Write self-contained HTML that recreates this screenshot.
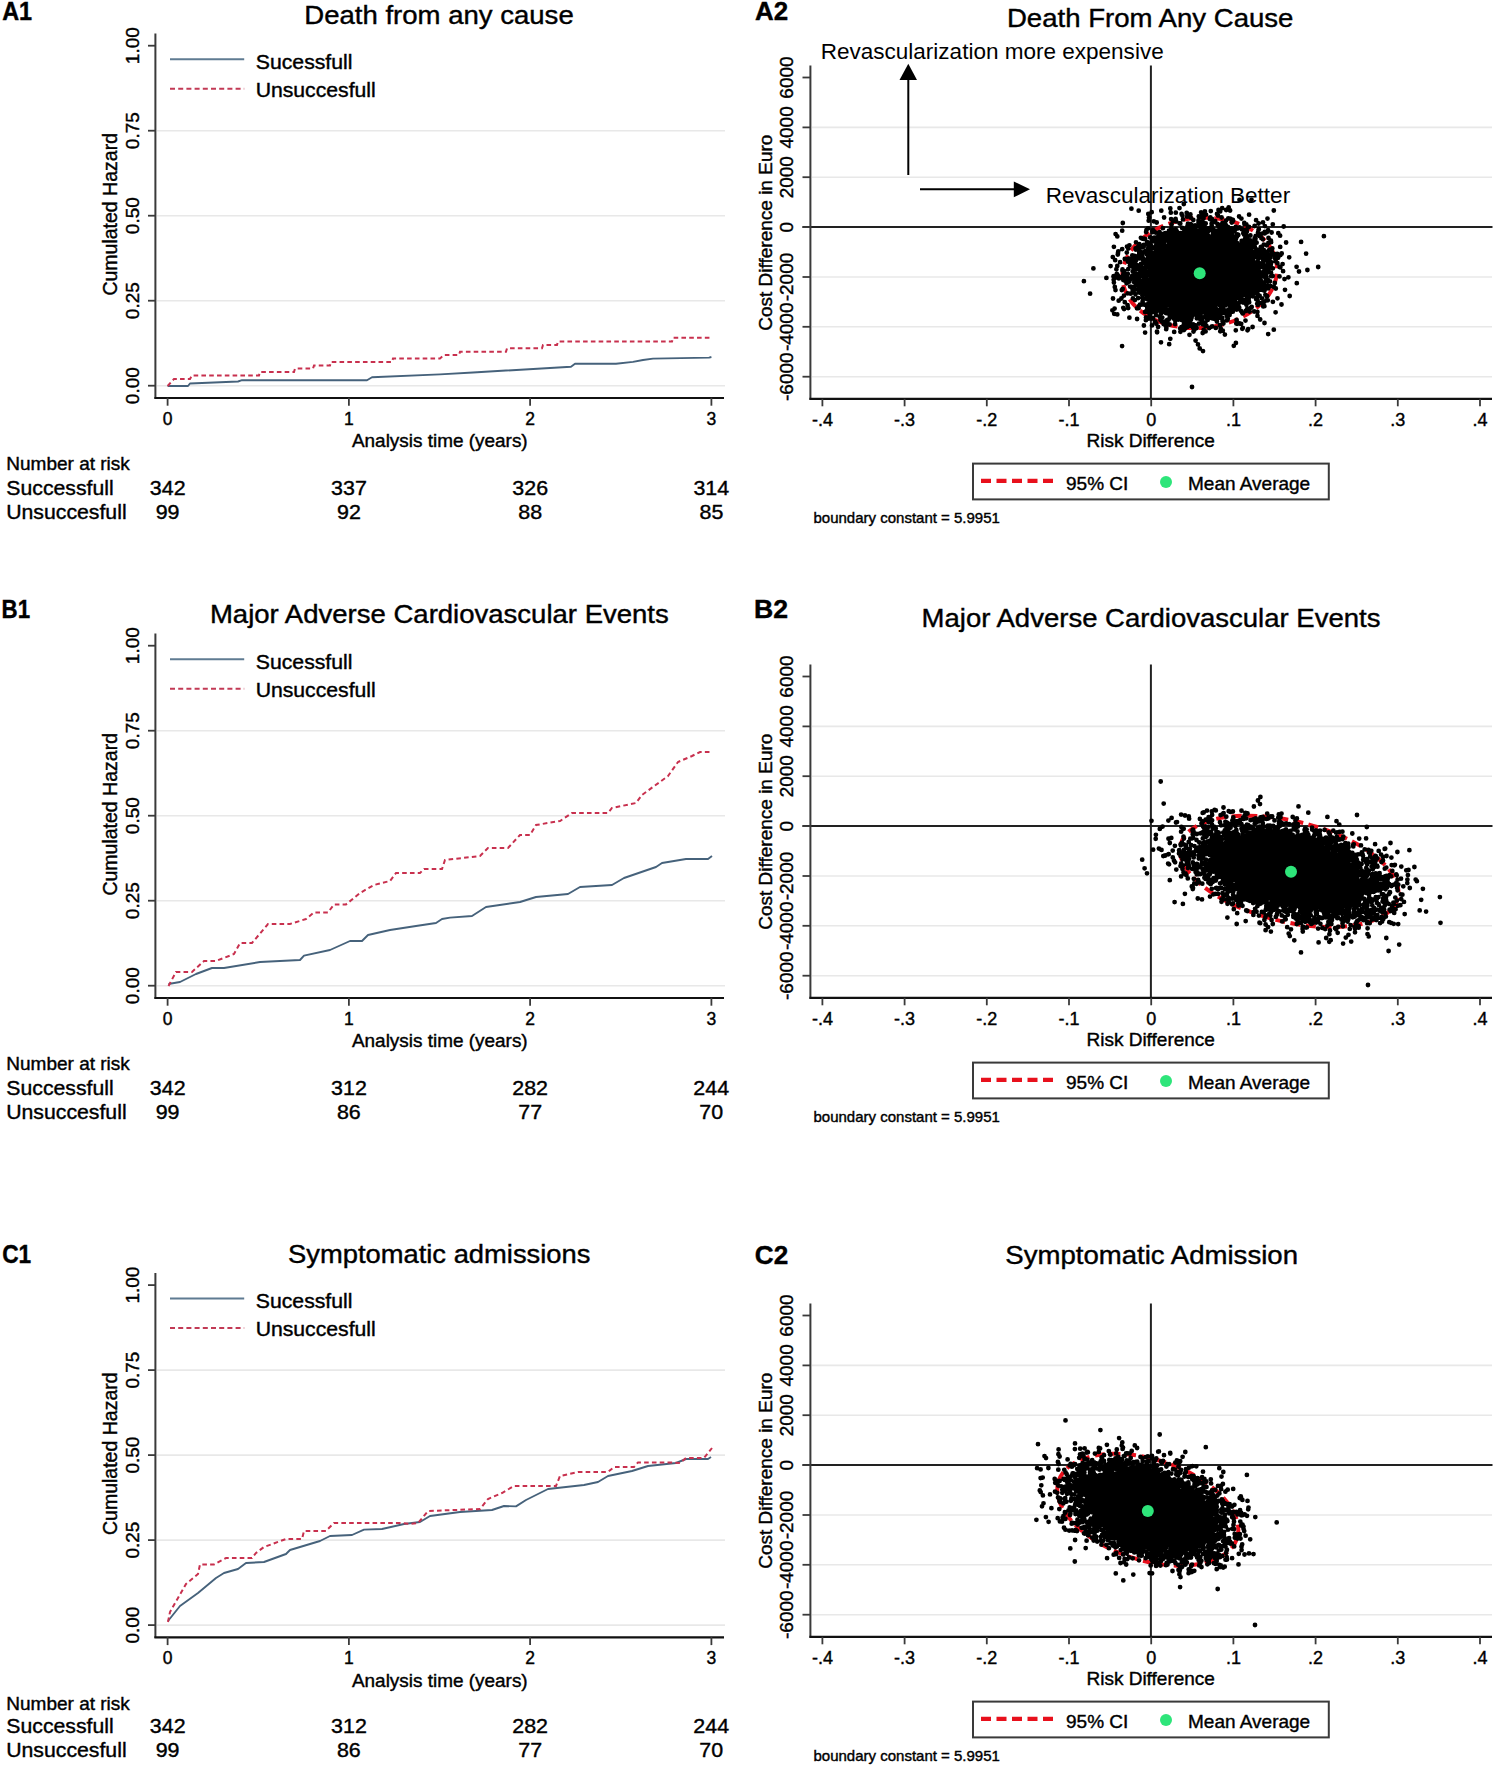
<!DOCTYPE html>
<html><head><meta charset="utf-8"><style>
html,body{margin:0;padding:0;background:#fff;overflow:hidden}
svg{display:block;font-family:"Liberation Sans",sans-serif}
text{stroke:#000;stroke-width:0.4px}
.lt{stroke:none}
</style></head><body>
<svg width="1500" height="1772" viewBox="0 0 1500 1772">
<rect width="1500" height="1772" fill="#fff"/>
<text x="2.22" y="20.00" font-size="25" font-weight="bold" textLength="29.93" lengthAdjust="spacingAndGlyphs">A1</text>
<text x="304.24" y="24.00" font-size="26" textLength="269.48" lengthAdjust="spacingAndGlyphs">Death from any cause</text>
<g transform="translate(0,0)">
<line x1="157" y1="385.7" x2="725" y2="385.7" stroke="#e8e8e8" stroke-width="1.6"/>
<line x1="157" y1="300.7" x2="725" y2="300.7" stroke="#e8e8e8" stroke-width="1.6"/>
<line x1="157" y1="215.7" x2="725" y2="215.7" stroke="#e8e8e8" stroke-width="1.6"/>
<line x1="157" y1="130.7" x2="725" y2="130.7" stroke="#e8e8e8" stroke-width="1.6"/>
<line x1="155.4" y1="33.5" x2="155.4" y2="398.7" stroke="#3a3a3a" stroke-width="2"/>
<line x1="148" y1="385.7" x2="155.4" y2="385.7" stroke="#3a3a3a" stroke-width="1.8"/>
<text transform="translate(138.6,385.7) rotate(-90)" font-size="19" text-anchor="middle">0.00</text>
<line x1="148" y1="300.7" x2="155.4" y2="300.7" stroke="#3a3a3a" stroke-width="1.8"/>
<text transform="translate(138.6,300.7) rotate(-90)" font-size="19" text-anchor="middle">0.25</text>
<line x1="148" y1="215.7" x2="155.4" y2="215.7" stroke="#3a3a3a" stroke-width="1.8"/>
<text transform="translate(138.6,215.7) rotate(-90)" font-size="19" text-anchor="middle">0.50</text>
<line x1="148" y1="130.7" x2="155.4" y2="130.7" stroke="#3a3a3a" stroke-width="1.8"/>
<text transform="translate(138.6,130.7) rotate(-90)" font-size="19" text-anchor="middle">0.75</text>
<line x1="148" y1="45.7" x2="155.4" y2="45.7" stroke="#3a3a3a" stroke-width="1.8"/>
<text transform="translate(138.6,45.7) rotate(-90)" font-size="19" text-anchor="middle">1.00</text>
<text transform="translate(117.2,214.3) rotate(-90)" font-size="19.5" text-anchor="middle">Cumulated Hazard</text>
<line x1="154.4" y1="398" x2="724" y2="398" stroke="#111" stroke-width="2.2"/>
<line x1="167.6" y1="397.7" x2="167.6" y2="405.7" stroke="#3a3a3a" stroke-width="1.8"/>
<text x="167.6" y="424.8" font-size="17.5" text-anchor="middle">0</text>
<line x1="348.9" y1="397.7" x2="348.9" y2="405.7" stroke="#3a3a3a" stroke-width="1.8"/>
<text x="348.9" y="424.8" font-size="17.5" text-anchor="middle">1</text>
<line x1="530.1" y1="397.7" x2="530.1" y2="405.7" stroke="#3a3a3a" stroke-width="1.8"/>
<text x="530.1" y="424.8" font-size="17.5" text-anchor="middle">2</text>
<line x1="711.4" y1="397.7" x2="711.4" y2="405.7" stroke="#3a3a3a" stroke-width="1.8"/>
<text x="711.4" y="424.8" font-size="17.5" text-anchor="middle">3</text>
<text x="351.96" y="447.20" font-size="18.5" textLength="175.71" lengthAdjust="spacingAndGlyphs">Analysis time (years)</text>
<line x1="170" y1="59.2" x2="244.2" y2="59.2" stroke="#5f7b92" stroke-width="2"/>
<line x1="170" y1="88.7" x2="244.2" y2="88.7" stroke="#c23a55" stroke-width="2" stroke-dasharray="5 3.2"/>
<text x="255.84" y="68.80" font-size="20" textLength="96.58" lengthAdjust="spacingAndGlyphs">Sucessfull</text>
<text x="255.67" y="96.90" font-size="20" textLength="120.05" lengthAdjust="spacingAndGlyphs">Unsuccesfull</text>
<text x="6.24" y="470.30" font-size="19" textLength="123.63" lengthAdjust="spacingAndGlyphs">Number at risk</text>
<text x="6.34" y="495.20" font-size="21" textLength="107.28" lengthAdjust="spacingAndGlyphs">Successfull</text>
<text x="6.16" y="519.40" font-size="21" textLength="120.46" lengthAdjust="spacingAndGlyphs">Unsuccesfull</text>
<text x="149.86" y="495.20" font-size="21" textLength="35.74" lengthAdjust="spacingAndGlyphs">342</text>
<text x="155.69" y="519.40" font-size="21" textLength="23.83" lengthAdjust="spacingAndGlyphs">99</text>
<text x="331.13" y="495.20" font-size="21" textLength="35.74" lengthAdjust="spacingAndGlyphs">337</text>
<text x="336.99" y="519.40" font-size="21" textLength="23.83" lengthAdjust="spacingAndGlyphs">92</text>
<text x="512.33" y="495.20" font-size="21" textLength="35.74" lengthAdjust="spacingAndGlyphs">326</text>
<text x="518.23" y="519.40" font-size="21" textLength="23.83" lengthAdjust="spacingAndGlyphs">88</text>
<text x="693.45" y="495.20" font-size="21" textLength="35.74" lengthAdjust="spacingAndGlyphs">314</text>
<text x="699.48" y="519.40" font-size="21" textLength="23.83" lengthAdjust="spacingAndGlyphs">85</text>
</g>
<path d="M167.6 386.0 L188.0 386.0 L190.0 383.5 L238.0 381.5 L242.0 380.2 L367.0 380.2 L372.0 377.3 L440.0 374.4 L473.0 372.5 L571.0 366.7 L575.0 363.8 L616.0 363.8 L633.0 361.9 L643.0 360.0 L653.0 358.6 L709.0 357.6 L711.4 357.0" fill="none" stroke="#46627b" stroke-width="1.9" stroke-linejoin="round"/>
<path d="M167.6 386.0 L174.0 378.9 L190.0 378.9 L192.0 375.4 L259.0 375.4 L260.0 372.0 L294.0 372.0 L295.0 368.6 L313.0 368.6 L314.0 365.4 L330.0 365.4 L331.0 361.9 L392.0 361.9 L393.0 358.4 L440.0 358.4 L444.0 355.0 L459.0 355.0 L460.0 351.8 L506.0 351.8 L507.0 348.3 L542.0 348.3 L543.0 344.9 L557.0 344.9 L558.0 341.6 L672.0 341.6 L673.0 337.7 L711.4 337.7" fill="none" stroke="#c8304e" stroke-width="2" stroke-dasharray="4.6 3.2"/>
<text x="1.61" y="617.60" font-size="25" font-weight="bold" textLength="28.51" lengthAdjust="spacingAndGlyphs">B1</text>
<text x="209.95" y="623.30" font-size="26" textLength="458.84" lengthAdjust="spacingAndGlyphs">Major Adverse Cardiovascular Events</text>
<g transform="translate(0,600)">
<line x1="157" y1="385.7" x2="725" y2="385.7" stroke="#e8e8e8" stroke-width="1.6"/>
<line x1="157" y1="300.7" x2="725" y2="300.7" stroke="#e8e8e8" stroke-width="1.6"/>
<line x1="157" y1="215.7" x2="725" y2="215.7" stroke="#e8e8e8" stroke-width="1.6"/>
<line x1="157" y1="130.7" x2="725" y2="130.7" stroke="#e8e8e8" stroke-width="1.6"/>
<line x1="155.4" y1="33.5" x2="155.4" y2="398.7" stroke="#3a3a3a" stroke-width="2"/>
<line x1="148" y1="385.7" x2="155.4" y2="385.7" stroke="#3a3a3a" stroke-width="1.8"/>
<text transform="translate(138.6,385.7) rotate(-90)" font-size="19" text-anchor="middle">0.00</text>
<line x1="148" y1="300.7" x2="155.4" y2="300.7" stroke="#3a3a3a" stroke-width="1.8"/>
<text transform="translate(138.6,300.7) rotate(-90)" font-size="19" text-anchor="middle">0.25</text>
<line x1="148" y1="215.7" x2="155.4" y2="215.7" stroke="#3a3a3a" stroke-width="1.8"/>
<text transform="translate(138.6,215.7) rotate(-90)" font-size="19" text-anchor="middle">0.50</text>
<line x1="148" y1="130.7" x2="155.4" y2="130.7" stroke="#3a3a3a" stroke-width="1.8"/>
<text transform="translate(138.6,130.7) rotate(-90)" font-size="19" text-anchor="middle">0.75</text>
<line x1="148" y1="45.7" x2="155.4" y2="45.7" stroke="#3a3a3a" stroke-width="1.8"/>
<text transform="translate(138.6,45.7) rotate(-90)" font-size="19" text-anchor="middle">1.00</text>
<text transform="translate(117.2,214.3) rotate(-90)" font-size="19.5" text-anchor="middle">Cumulated Hazard</text>
<line x1="154.4" y1="398" x2="724" y2="398" stroke="#111" stroke-width="2.2"/>
<line x1="167.6" y1="397.7" x2="167.6" y2="405.7" stroke="#3a3a3a" stroke-width="1.8"/>
<text x="167.6" y="424.8" font-size="17.5" text-anchor="middle">0</text>
<line x1="348.9" y1="397.7" x2="348.9" y2="405.7" stroke="#3a3a3a" stroke-width="1.8"/>
<text x="348.9" y="424.8" font-size="17.5" text-anchor="middle">1</text>
<line x1="530.1" y1="397.7" x2="530.1" y2="405.7" stroke="#3a3a3a" stroke-width="1.8"/>
<text x="530.1" y="424.8" font-size="17.5" text-anchor="middle">2</text>
<line x1="711.4" y1="397.7" x2="711.4" y2="405.7" stroke="#3a3a3a" stroke-width="1.8"/>
<text x="711.4" y="424.8" font-size="17.5" text-anchor="middle">3</text>
<text x="351.96" y="447.20" font-size="18.5" textLength="175.71" lengthAdjust="spacingAndGlyphs">Analysis time (years)</text>
<line x1="170" y1="59.2" x2="244.2" y2="59.2" stroke="#5f7b92" stroke-width="2"/>
<line x1="170" y1="88.7" x2="244.2" y2="88.7" stroke="#c23a55" stroke-width="2" stroke-dasharray="5 3.2"/>
<text x="255.84" y="68.80" font-size="20" textLength="96.58" lengthAdjust="spacingAndGlyphs">Sucessfull</text>
<text x="255.67" y="96.90" font-size="20" textLength="120.05" lengthAdjust="spacingAndGlyphs">Unsuccesfull</text>
<text x="6.24" y="470.30" font-size="19" textLength="123.63" lengthAdjust="spacingAndGlyphs">Number at risk</text>
<text x="6.34" y="495.20" font-size="21" textLength="107.28" lengthAdjust="spacingAndGlyphs">Successfull</text>
<text x="6.16" y="519.40" font-size="21" textLength="120.46" lengthAdjust="spacingAndGlyphs">Unsuccesfull</text>
<text x="149.86" y="495.20" font-size="21" textLength="35.74" lengthAdjust="spacingAndGlyphs">342</text>
<text x="155.69" y="519.40" font-size="21" textLength="23.83" lengthAdjust="spacingAndGlyphs">99</text>
<text x="331.13" y="495.20" font-size="21" textLength="35.74" lengthAdjust="spacingAndGlyphs">312</text>
<text x="336.96" y="519.40" font-size="21" textLength="23.83" lengthAdjust="spacingAndGlyphs">86</text>
<text x="512.27" y="495.20" font-size="21" textLength="35.74" lengthAdjust="spacingAndGlyphs">282</text>
<text x="518.22" y="519.40" font-size="21" textLength="23.83" lengthAdjust="spacingAndGlyphs">77</text>
<text x="693.32" y="495.20" font-size="21" textLength="35.74" lengthAdjust="spacingAndGlyphs">244</text>
<text x="699.37" y="519.40" font-size="21" textLength="23.83" lengthAdjust="spacingAndGlyphs">70</text>
</g>
<path d="M168.5 984.0 L180.0 982.0 L196.0 974.0 L212.0 968.0 L224.0 968.0 L260.0 962.0 L300.0 960.0 L304.0 955.6 L330.0 950.0 L350.0 941.0 L362.0 941.0 L368.0 935.0 L390.0 930.0 L416.0 926.0 L436.0 923.0 L442.0 919.0 L450.0 917.6 L472.0 916.0 L486.0 907.0 L520.0 902.0 L536.0 897.0 L568.0 894.0 L580.0 887.0 L612.0 885.0 L624.0 878.0 L656.0 867.0 L662.0 863.0 L686.0 859.0 L708.0 859.0 L712.0 856.0" fill="none" stroke="#46627b" stroke-width="1.9" stroke-linejoin="round"/>
<path d="M168.5 986.0 L176.0 972.0 L192.0 972.0 L204.0 961.0 L216.0 961.0 L234.0 954.0 L240.0 943.0 L252.0 943.0 L268.0 924.0 L290.0 924.0 L306.0 919.0 L314.0 912.4 L328.0 912.4 L334.0 904.4 L346.0 904.4 L360.0 893.0 L374.0 885.0 L390.0 881.0 L396.0 873.0 L420.0 873.0 L424.0 869.0 L442.0 869.0 L445.0 860.0 L480.0 856.0 L488.0 848.0 L508.0 848.0 L520.0 835.0 L530.0 835.0 L536.0 825.0 L560.0 821.0 L572.0 813.0 L608.0 813.0 L612.0 808.0 L636.0 803.0 L642.0 795.0 L668.0 776.0 L678.0 762.0 L692.0 756.0 L700.0 752.0 L712.0 752.0" fill="none" stroke="#c8304e" stroke-width="2" stroke-dasharray="4.6 3.2"/>
<text x="2.17" y="1263.20" font-size="25" font-weight="bold" textLength="28.96" lengthAdjust="spacingAndGlyphs">C1</text>
<text x="287.96" y="1263.00" font-size="26" textLength="302.53" lengthAdjust="spacingAndGlyphs">Symptomatic admissions</text>
<g transform="translate(0,1239.4)">
<line x1="157" y1="385.7" x2="725" y2="385.7" stroke="#e8e8e8" stroke-width="1.6"/>
<line x1="157" y1="300.7" x2="725" y2="300.7" stroke="#e8e8e8" stroke-width="1.6"/>
<line x1="157" y1="215.7" x2="725" y2="215.7" stroke="#e8e8e8" stroke-width="1.6"/>
<line x1="157" y1="130.7" x2="725" y2="130.7" stroke="#e8e8e8" stroke-width="1.6"/>
<line x1="155.4" y1="33.5" x2="155.4" y2="398.7" stroke="#3a3a3a" stroke-width="2"/>
<line x1="148" y1="385.7" x2="155.4" y2="385.7" stroke="#3a3a3a" stroke-width="1.8"/>
<text transform="translate(138.6,385.7) rotate(-90)" font-size="19" text-anchor="middle">0.00</text>
<line x1="148" y1="300.7" x2="155.4" y2="300.7" stroke="#3a3a3a" stroke-width="1.8"/>
<text transform="translate(138.6,300.7) rotate(-90)" font-size="19" text-anchor="middle">0.25</text>
<line x1="148" y1="215.7" x2="155.4" y2="215.7" stroke="#3a3a3a" stroke-width="1.8"/>
<text transform="translate(138.6,215.7) rotate(-90)" font-size="19" text-anchor="middle">0.50</text>
<line x1="148" y1="130.7" x2="155.4" y2="130.7" stroke="#3a3a3a" stroke-width="1.8"/>
<text transform="translate(138.6,130.7) rotate(-90)" font-size="19" text-anchor="middle">0.75</text>
<line x1="148" y1="45.7" x2="155.4" y2="45.7" stroke="#3a3a3a" stroke-width="1.8"/>
<text transform="translate(138.6,45.7) rotate(-90)" font-size="19" text-anchor="middle">1.00</text>
<text transform="translate(117.2,214.3) rotate(-90)" font-size="19.5" text-anchor="middle">Cumulated Hazard</text>
<line x1="154.4" y1="398" x2="724" y2="398" stroke="#111" stroke-width="2.2"/>
<line x1="167.6" y1="397.7" x2="167.6" y2="405.7" stroke="#3a3a3a" stroke-width="1.8"/>
<text x="167.6" y="424.8" font-size="17.5" text-anchor="middle">0</text>
<line x1="348.9" y1="397.7" x2="348.9" y2="405.7" stroke="#3a3a3a" stroke-width="1.8"/>
<text x="348.9" y="424.8" font-size="17.5" text-anchor="middle">1</text>
<line x1="530.1" y1="397.7" x2="530.1" y2="405.7" stroke="#3a3a3a" stroke-width="1.8"/>
<text x="530.1" y="424.8" font-size="17.5" text-anchor="middle">2</text>
<line x1="711.4" y1="397.7" x2="711.4" y2="405.7" stroke="#3a3a3a" stroke-width="1.8"/>
<text x="711.4" y="424.8" font-size="17.5" text-anchor="middle">3</text>
<text x="351.96" y="447.20" font-size="18.5" textLength="175.71" lengthAdjust="spacingAndGlyphs">Analysis time (years)</text>
<line x1="170" y1="59.2" x2="244.2" y2="59.2" stroke="#5f7b92" stroke-width="2"/>
<line x1="170" y1="88.7" x2="244.2" y2="88.7" stroke="#c23a55" stroke-width="2" stroke-dasharray="5 3.2"/>
<text x="255.84" y="68.80" font-size="20" textLength="96.58" lengthAdjust="spacingAndGlyphs">Sucessfull</text>
<text x="255.67" y="96.90" font-size="20" textLength="120.05" lengthAdjust="spacingAndGlyphs">Unsuccesfull</text>
<text x="6.24" y="470.30" font-size="19" textLength="123.63" lengthAdjust="spacingAndGlyphs">Number at risk</text>
<text x="6.34" y="493.70" font-size="21" textLength="107.28" lengthAdjust="spacingAndGlyphs">Successfull</text>
<text x="6.16" y="517.45" font-size="21" textLength="120.46" lengthAdjust="spacingAndGlyphs">Unsuccesfull</text>
<text x="149.86" y="493.70" font-size="21" textLength="35.74" lengthAdjust="spacingAndGlyphs">342</text>
<text x="155.69" y="517.45" font-size="21" textLength="23.83" lengthAdjust="spacingAndGlyphs">99</text>
<text x="331.13" y="493.70" font-size="21" textLength="35.74" lengthAdjust="spacingAndGlyphs">312</text>
<text x="336.96" y="517.45" font-size="21" textLength="23.83" lengthAdjust="spacingAndGlyphs">86</text>
<text x="512.27" y="493.70" font-size="21" textLength="35.74" lengthAdjust="spacingAndGlyphs">282</text>
<text x="518.22" y="517.45" font-size="21" textLength="23.83" lengthAdjust="spacingAndGlyphs">77</text>
<text x="693.32" y="493.70" font-size="21" textLength="35.74" lengthAdjust="spacingAndGlyphs">244</text>
<text x="699.37" y="517.45" font-size="21" textLength="23.83" lengthAdjust="spacingAndGlyphs">70</text>
</g>
<path d="M168.0 1621.0 L180.0 1606.0 L198.0 1593.0 L216.0 1578.0 L224.0 1573.0 L238.0 1569.0 L246.0 1563.0 L264.0 1562.0 L286.0 1554.0 L290.0 1550.0 L310.0 1544.0 L320.0 1541.0 L330.0 1536.0 L352.0 1535.0 L364.0 1529.6 L382.0 1529.0 L404.0 1524.0 L420.0 1522.0 L430.0 1516.0 L460.0 1512.0 L492.0 1510.0 L504.0 1506.0 L516.0 1506.4 L526.0 1500.0 L548.0 1489.0 L584.0 1485.0 L598.0 1482.0 L608.0 1476.0 L632.0 1471.0 L648.0 1466.0 L676.0 1463.0 L686.0 1459.0 L708.0 1459.0 L711.0 1457.0" fill="none" stroke="#46627b" stroke-width="1.9" stroke-linejoin="round"/>
<path d="M168.0 1622.0 L170.0 1612.0 L178.0 1598.0 L186.0 1584.0 L198.0 1574.0 L200.0 1564.4 L214.0 1564.4 L226.0 1558.0 L252.0 1558.0 L256.0 1553.0 L264.0 1547.0 L286.0 1539.0 L302.0 1539.0 L304.0 1531.0 L326.0 1531.0 L334.0 1523.0 L402.0 1523.0 L410.0 1524.0 L418.0 1523.0 L428.0 1511.0 L480.0 1509.0 L488.0 1499.0 L502.0 1493.0 L514.0 1486.0 L556.0 1486.0 L560.0 1476.0 L578.0 1472.0 L608.0 1472.0 L614.0 1467.0 L634.0 1467.0 L638.0 1462.4 L668.0 1462.4 L680.0 1463.0 L686.0 1458.0 L704.0 1458.0 L712.0 1448.0" fill="none" stroke="#c8304e" stroke-width="2" stroke-dasharray="4.6 3.2"/>
<g transform="translate(0,0)">
</g>
<text x="755.06" y="20.00" font-size="25" font-weight="bold" textLength="33.08" lengthAdjust="spacingAndGlyphs">A2</text>
<text x="1006.95" y="26.70" font-size="26" textLength="286.47" lengthAdjust="spacingAndGlyphs">Death From Any Cause</text>
<g transform="translate(0,0)">
<line x1="812" y1="127.4" x2="1492" y2="127.4" stroke="#e8e8e8" stroke-width="1.6"/>
<line x1="812" y1="177.2" x2="1492" y2="177.2" stroke="#e8e8e8" stroke-width="1.6"/>
<line x1="812" y1="277.0" x2="1492" y2="277.0" stroke="#e8e8e8" stroke-width="1.6"/>
<line x1="812" y1="326.8" x2="1492" y2="326.8" stroke="#e8e8e8" stroke-width="1.6"/>
<line x1="812" y1="376.7" x2="1492" y2="376.7" stroke="#e8e8e8" stroke-width="1.6"/>
</g>
<g transform="translate(0,0)">
<line x1="802.5" y1="227.1" x2="1492.5" y2="227.1" stroke="#222" stroke-width="2"/>
<line x1="1150.9" y1="65.5" x2="1150.9" y2="398.7" stroke="#222" stroke-width="2"/>
</g>
<ellipse cx="1199.7" cy="272.9" rx="77.5" ry="55.0" transform="rotate(175.01 1199.7 272.9)" fill="none" stroke="#e8101c" stroke-width="4" stroke-dasharray="10 5.5"/>
<ellipse cx="1199.7" cy="272.9" rx="50.6" ry="36.0" transform="rotate(175.01 1199.7 272.9)" fill="#000"/>
<path d="M1239.5 199.8h0m12 0h0m-67.7 4.2h0m-52.4 4.7h0m7.3 2h0m13 1.5h0m9.6 -1.5h0m9 -2.2h0m0.5 4.2h0m5 0h0m3.7 -4.6h0m7.2 4.7h0m14.4 -0.5h0m3.8 -1h0m5.9 -0.2h0m7.7 -1.2h0m1.7 1.5h0m2 -3.2h0m4 1.8h0m2.5 -2.7h0m1.4 3.2h0m0 0.1h0m43.7 -0.1h0m-125.5 3.5h0m0.7 3.6h0m15.1 -0.1h0m11.5 1.4h0m6 -5h0m0.8 1.7h0m4.7 1.1h0m1.2 -1.2h0m0.6 0.6h0m1.5 -1.6h0m0.3 3.1h0m8.1 -1.1h0m3.1 1h0m0.4 0h0m0.4 -2.4h0m0 2.9h0m0.8 0.5h0m0 -0.9h0m1.6 -3.2h0m0.9 0.2h0m4.3 2.7h0m0.8 1.6h0m0.8 0.1h0m5.1 -5.1h0m1 1.7h0m3.6 1.9h0m6.7 0.8h0m1.8 0.4h0m9 -2.2h0m2.3 2.1h0m7.7 -3.9h0m18.4 3.9h0m-144.7 4.4h0m25.9 -2.3h0m5.1 0.6h0m2.9 1.2h0m14.4 -3.4h0m0.5 5.4h0m1.4 -3.5h0m3.2 0.4h0m3.5 2.1h0m0.5 -0.1h0m0.1 0.2h0m2.7 -4.2h0m5 4.2h0m2.6 0.5h0m0.6 0.7h0m2.1 -4.8h0m5.2 2.2h0m0 -1.9h0m0.1 3.9h0m1.3 -0.2h0m0.6 -1.9h0m0.8 1.9h0m1.2 -1.8h0m3.2 1.2h0m4.2 -4.4h0m1.7 4.7h0m0.9 -1.3h0m1.6 -0.3h0m1.1 -0.9h0m2.2 2.8h0m1.7 0.8h0m3.4 -1.8h0m0 1.3h0m3 0h0m0.6 -4h0m5.6 -1h0m0.1 3.2h0m1.1 -2.5h0m0.2 0.8h0m11.2 2.1h0m0.2 1.3h0m1.8 0.1h0m9.8 -4.1h0m2.5 3.3h0m4.4 -1.1h0m9.8 1.9h0m-150.6 6.4h0m24.2 -0.5h0m1.7 -1.9h0m4.8 1.8h0m10 -1.9h0m6.1 2.4h0m2.4 -2.2h0m4.2 2.5h0m0 -1.6h0m0.7 1h0m5.9 -2.3h0m2.7 1.4h0m0.1 0.8h0m0.9 -0.6h0m0.9 0.6h0m0.3 -2.2h0m0.2 -0.9h0m0.2 -1.1h0m0.5 -0.7h0m3 5.1h0m0.6 -1.9h0m0.1 0.3h0m0.4 -3.3h0m1 4.5h0m0.3 0.9h0m1.7 -5.5h0m0.6 2.1h0m0.1 -0.1h0m0.4 -0.6h0m4 0.6h0m0.3 0.3h0m0.3 0.8h0m0.3 2.2h0m1.2 -2.3h0m0.2 0.2h0m0.2 -3.4h0m0.9 0.3h0m1.1 -0.5h0m0.6 4.1h0m0.1 1.2h0m1.7 -0.9h0m0.3 -0.8h0m0.1 2.4h0m1.4 -2.5h0m1.9 1h0m0.9 -3.7h0m0.4 4.6h0m1.4 -1.1h0m3.1 1.6h0m1.2 0.1h0m0.5 -0.8h0m0.1 -4.1h0m1 4.3h0m1.3 -2h0m0.2 -0.9h0m1.8 3.3h0m0 -3.5h0m0.4 0.7h0m2.6 0.7h0m0 -0.8h0m1.9 2.5h0m0.1 0.2h0m0.2 -3.6h0m1.7 2.3h0m0.4 1.3h0m1.1 -1.2h0m0.2 -1h0m1.7 2.5h0m0.2 -0.6h0m0.2 -1.2h0m1.3 1.7h0m1.1 -1.9h0m0 -1.9h0m0.5 1.3h0m1.8 0h0m1.1 -0.5h0m0.3 -0.4h0m2.4 1.9h0m2 0.6h0m1.1 0.7h0m2.8 -3h0m1.2 -0.8h0m5.6 -0.8h0m3.9 3.9h0m0.3 -0.7h0m6.1 -3.1h0m3.2 4.1h0m15.6 -3.7h0m-168.1 7.6h0m1.7 2.3h0m28.8 -4.3h0m6.3 -0.9h0m0.3 1h0m1.4 -0.7h0m1.5 1.1h0m3 2.7h0m0.2 0.4h0m0.8 -3.6h0m0.1 0.7h0m0.6 4h0m2.1 -2.5h0m2 -1h0m0.3 2.2h0m0.2 -2h0m0.3 0.2h0m0.1 -0.5h0m2 0.4h0m0.6 0.1h0m1.1 -2.2h0m0.7 3.2h0m2.1 -2.9h0m0.3 4.7h0m0.7 0.2h0m0.8 -2.2h0m0.5 -2.8h0m1.6 2.5h0m1.5 -2.1h0m0.7 2.2h0m1.5 1.5h0m1 0.4h0m0.1 -3h0m1.3 2.7h0m0.9 1h0m0.4 -1.5h0m0.2 -2.6h0m0.2 3.7h0m0.4 0.5h0m0.4 -5.4h0m0.2 3.8h0m0.2 0.9h0m0.2 0.2h0m0.4 -1.9h0m1.8 -0.1h0m0.8 -2.7h0m0 -0.2h0m0.6 5.3h0m0.8 -4.1h0m0.3 -0.7h0m1.6 3.5h0m0.3 -2.7h0m0.3 1.9h0m0.6 -2.2h0m0.9 1.4h0m0.1 -2.3h0m0.1 -0.5h0m0.1 3.8h0m0.1 -0.4h0m0.3 0.7h0m0 -1.1h0m0 -1.6h0m1.4 -0.1h0m0.3 2.4h0m0.1 -3.1h0m1.6 1.2h0m0.5 2.1h0m0.6 -3.9h0m0.8 5.2h0m0.2 0.3h0m0 -1.7h0m0.1 -1.3h0m1.1 2.3h0m0.3 0.4h0m0.2 -2.6h0m0.2 0.6h0m0.1 1.6h0m0.6 -0.1h0m0.3 0h0m0.1 -3.5h0m0.5 2.1h0m0.1 -0.5h0m0.3 -0.9h0m0.1 2.1h0m0.9 -1.1h0m1 2.8h0m0.7 -0.4h0m0.4 -3.7h0m1.1 4.2h0m0.2 -4.9h0m0.8 4.1h0m2.9 0.6h0m1.4 -1.7h0m0.1 -2h0m0.9 -1.4h0m0.8 1.5h0m0.3 1.9h0m0.3 1.4h0m1.1 -0.5h0m0.4 -4.4h0m0.3 1.7h0m1.1 -0.4h0m0.6 1.8h0m0.6 1.5h0m0.2 -2.8h0m0.9 1.4h0m0.4 -0.7h0m0.5 2.9h0m0.6 -0.3h0m0.7 -3.5h0m0.4 3.6h0m0.6 -5h0m0.1 2.1h0m0.4 -1.8h0m0.6 4.6h0m0.2 -3.1h0m1.1 2.5h0m1.9 -3.4h0m1.9 0.9h0m0 -0.2h0m0.3 1.4h0m1 -2.9h0m1.3 3.1h0m0.9 1.7h0m0.4 -5h0m0 -0.3h0m3.1 5.1h0m0.2 0h0m0.2 -2h0m0.1 1.3h0m0.9 -0.8h0m5 -1.8h0m0.7 1.3h0m1.3 -0.3h0m0.6 1.4h0m0 -1h0m1 -3.2h0m0.8 5h0m0.1 0.1h0m2.6 -1h0m5.1 0.9h0m0.4 -0.5h0m2.1 -3.2h0m1.9 3.5h0m2.3 -2.6h0m2.5 -0.2h0m0.1 -1.6h0m2 0.4h0m4.8 0.3h0m6.7 0.7h0m1.8 2.5h0m43.8 0.5h0m-187.9 6.1h0m4.9 -4.5h0m1.2 0.7h0m1.5 0.3h0m0.6 -0.1h0m1 0.4h0m1.9 3.1h0m2 0.7h0m1.1 -5.5h0m1.7 3.7h0m0.1 -1.8h0m0.2 2.3h0m2 -3.9h0m0.3 2.1h0m1 1.9h0m0.3 -2h0m0.4 1.8h0m1.1 -4.3h0m1.5 0.6h0m0.8 1.3h0m0.5 2.5h0m0.9 -3.6h0m1.3 1h0m0.7 1.4h0m0.8 -1h0m0.1 1.9h0m0.1 -3.5h0m1.8 2.7h0m0.1 -0.1h0m0.5 -0.8h0m0.2 -1.9h0m0.1 0.2h0m2.2 4.8h0m0.3 -5.6h0m0.5 3.6h0m0.2 -1h0m1.2 1.9h0m0.6 -1.3h0m0.3 -0.3h0m0.4 2.7h0m0.7 0.2h0m0.9 -3.3h0m0.3 2.3h0m0.1 -1.8h0m0 -2.9h0m0.1 5h0m0.2 -5h0m0.5 5.1h0m0.2 -2h0m0.2 0h0m0.1 0.3h0m0.3 -1.7h0m0.6 4.1h0m0.1 -1.4h0m0.1 -2.3h0m0.6 1.3h0m0.1 0.2h0m0.3 -3h0m0.3 2.1h0m0.4 -1.6h0m0.6 2.9h0m0.1 -3.6h0m0.3 0.6h0m0.2 2.5h0m0.6 -2.2h0m0.2 2.4h0m1.2 1h0m1.3 -4.3h0m1.7 4.9h0m0.2 0h0m0.5 -5h0m0.2 2.1h0m0.3 -0.2h0m0.6 1.1h0m0.6 -0.8h0m0.5 1.8h0m0.6 -2.6h0m0.6 1.1h0m0.2 2.9h0m0.1 -3.4h0m0.1 1.7h0m0.1 -1.1h0m0.3 0.4h0m0.2 -3.4h0m0.2 0.7h0m0 2.3h0m0.2 -2.8h0m0.7 0h0m0.4 1.4h0m0.2 3.2h0m0.3 -2.5h0m0.6 3.5h0m0.3 -1.9h0m0.5 -2h0m0.4 1.1h0m0.6 0.8h0m0.1 -2.7h0m0.2 2.2h0m0.4 -3.2h0m0.1 0.2h0m0.6 5.2h0m0.1 -1.3h0m2.4 0.3h0m0.4 -2.9h0m0.5 0.9h0m0.4 -1h0m0 2.1h0m0.2 -0.2h0m0.2 1.9h0m0.2 -3.6h0m0.1 2.4h0m0 -2.7h0m0.8 3.7h0m0.1 -1.7h0m0.5 1.8h0m0.4 -0.2h0m0.4 -1.8h0m0.2 0.1h0m1 -2.7h0m0.2 4.1h0m0 -4.7h0m0.1 3.8h0m0.2 1h0m0.1 -1.1h0m0.2 0.7h0m0 -3.4h0m0.1 1.9h0m0.3 1.4h0m0.3 -0.5h0m0.7 -1.1h0m0 2.6h0m1.9 -3.6h0m0.2 0.9h0m0.3 2.3h0m0.9 -1.1h0m0 -1.8h0m0.1 -0.1h0m0.2 1.9h0m0.5 -0.8h0m0.1 1.5h0m0.3 -0.9h0m0.6 1.7h0m1.2 -0.5h0m0.3 -4.1h0m0.2 1.6h0m0 1.2h0m0.2 -1.1h0m0 -1.3h0m0.1 0.1h0m0.5 -1.2h0m0.3 3.7h0m0.3 0.6h0m0.2 -4.1h0m0.6 4.9h0m0.2 -0.1h0m0 -3.9h0m0 1.5h0m0 2.4h0m0.3 0.3h0m0 -3.5h0m0.1 3.4h0m0.4 -0.6h0m0.3 -1.4h0m0 -0.5h0m0.1 0.1h0m0.6 -2.2h0m0.5 4.6h0m0.2 -3.6h0m0 2.8h0m1.1 0.1h0m0.4 -0.5h0m0.3 -2h0m0.4 -1h0m0.4 3.2h0m0 -0.7h0m1.3 -1.3h0m0.2 2.6h0m0.5 -2.8h0m1.5 2.8h0m0.3 -2.9h0m0 3.1h0m0.2 -3.7h0m0.2 -1.1h0m1.5 0h0m0.5 2.5h0m0.2 -2.2h0m0.1 1h0m0.4 -1.2h0m0.1 2h0m1.1 -0.8h0m0.4 1.5h0m0.5 2.4h0m0.2 -1.7h0m0 1.8h0m0.1 -3.3h0m0.9 2.9h0m0.1 -2.1h0m0.3 2.3h0m0.3 -3.8h0m0.9 3.5h0m0.1 0.1h0m1.5 0h0m0.4 -2.9h0m0.4 1.2h0m0 2.4h0m0.1 -0.3h0m1.2 -2.3h0m0.4 -1.3h0m0.2 -1.7h0m0.4 5.6h0m5.2 -2h0m1.2 0.9h0m0 1h0m0.6 -2.1h0m0.7 -0.4h0m1 -1.9h0m0.8 3.3h0m0 -2.1h0m0.4 0.9h0m1.4 0.1h0m1.5 1.8h0m0.8 -0.7h0m0.1 -1.4h0m1.7 2h0m0.4 0h0m0.1 -0.5h0m0.2 -0.2h0m1.2 1.2h0m0.8 -4.1h0m0.9 0h0m1.1 4h0m4.8 -4.5h0m1.5 1.1h0m5.5 3.7h0m0.1 -5.1h0m2.4 2.8h0m0.2 1.5h0m15 0.3h0m15 -0.6h0m-187.2 4.9h0m13.1 -0.2h0m1.2 1.9h0m1.2 -3.2h0m6.2 3h0m2.3 -1.1h0m1.4 -3h0m0.5 1.1h0m0.2 1.5h0m1.4 -0.2h0m1.1 0.7h0m1.2 -0.5h0m0.1 -2h0m4.3 0.5h0m0.1 2.9h0m1.5 -2.2h0m0 1.2h0m0.5 0h0m0.4 -0.2h0m0.2 -1.9h0m0.7 1.3h0m1.2 1.1h0m1.8 1h0m0.7 -1.3h0m1 -2h0m0.4 1.9h0m0.3 0.6h0m0.2 -2.8h0m0.1 -0.6h0m0.1 1.2h0m1.7 2.5h0m0.9 0h0m0.4 -4.7h0m0.1 1.1h0m0.4 4.3h0m0.1 -2.3h0m0.7 -0.9h0m0.4 -1.7h0m0.4 1.6h0m0.4 3.3h0m0.1 0h0m0.9 -0.2h0m0.2 -3.5h0m1.4 1.2h0m0.7 1.6h0m0.2 -1.9h0m1.7 1.9h0m0.1 -1.9h0m0.3 2.6h0m0.7 0h0m0 -4.5h0m0.1 4.9h0m0.2 -2.5h0m0.1 -2.6h0m0 2.8h0m0.3 -3.1h0m0.2 2.2h0m0.1 -0.9h0m0.3 0.8h0m0.1 -2.1h0m0.8 1.2h0m0.2 1.1h0m0.7 0.8h0m0.2 0.9h0m0.5 -3.4h0m0.1 -0.7h0m0 1.8h0m1.2 1.7h0m0 -1.3h0m0.5 -2.3h0m0 3.6h0m0.9 1.9h0m1.2 -1.4h0m1.4 -4.1h0m0.2 0.3h0m1.7 1.4h0m0.2 -0.5h0m0.1 1.3h0m0.9 0.2h0m0.6 -0.3h0m1.6 -2.3h0m0.3 0.8h0m0 -0.5h0m3.1 0.5h0m0.7 0h0m1.7 -0.7h0m0 0.4h0m26.1 -0.7h0m1.4 0.1h0m0.1 0h0m1.5 1.1h0m1.1 0.3h0m0.2 0.4h0m0.9 0.3h0m0.5 -0.7h0m0 -1.2h0m0.2 1.2h0m0.5 0.1h0m0.3 -0.3h0m0.1 0.7h0m1.3 -0.9h0m0.4 0h0m0.4 -0.6h0m0.6 0h0m1.1 0.6h0m0 2.5h0m0.2 -3h0m0 1.2h0m0.2 2.2h0m0 -3.6h0m0.2 0.2h0m0.3 2.4h0m0.1 0.6h0m0.5 0.8h0m0 -1.6h0m0 -2h0m1.2 1.1h0m0.2 1.6h0m0.1 -0.9h0m0.3 1.2h0m0.2 -1.7h0m0.4 0h0m0 3.5h0m0.1 -4.1h0m0 3.6h0m0.1 -1.1h0m0.4 1.8h0m0.4 -2.1h0m0.3 0.1h0m0 1.2h0m1.2 -2.9h0m0.3 3.1h0m0.9 0.4h0m0.4 -5.3h0m0.2 0.5h0m0.8 0h0m1.1 4.7h0m0.8 -1.2h0m0.1 1.2h0m0.3 -5.6h0m0.1 0.4h0m0.5 1.5h0m0 2.1h0m1.2 0.5h0m0.8 -0.4h0m0.3 1.2h0m0 -1.5h0m0.3 1.4h0m0.3 -4h0m0.7 4.4h0m0.9 -3.8h0m1 1.2h0m1.1 0h0m0.7 1.2h0m0.5 -1.2h0m0.7 -2.5h0m0.5 3.4h0m1 -2.2h0m0.8 3.9h0m0.2 -0.5h0m1 -1.2h0m0.7 -2.5h0m0.1 -1.2h0m0.9 5.3h0m0.9 -3.9h0m0.2 -0.5h0m0.1 0.1h0m0 1.4h0m0.3 -1.6h0m0.9 3.1h0m0.7 -0.7h0m6.1 0.6h0m0.9 0.8h0m0.2 -1.3h0m1.9 -1.9h0m2.8 0.3h0m0.2 0.3h0m5.5 3.1h0m7.9 -1.5h0m-162.4 7.6h0m0.2 -1.5h0m0.3 -1.7h0m3.9 -2.2h0m4.6 3.5h0m8.9 -3.1h0m3.2 0.9h0m0.3 1.5h0m0.1 1.3h0m0.1 0.3h0m0.1 -2.8h0m1.8 2.9h0m0.6 -1.2h0m2.2 -0.3h0m1.2 0.1h0m0.2 -1h0m1.1 2.8h0m0.7 -2.1h0m0.8 2.9h0m1.1 -3.8h0m0.1 0.2h0m1.6 -1.8h0m0 3h0m0.3 1.5h0m1.7 -0.4h0m0.4 -0.1h0m0.3 0.4h0m2.3 -3.3h0m1.6 0.9h0m1 1.4h0m0.2 1.9h0m0.2 -1.5h0m0.9 -1.1h0m0.6 -2.9h0m0.2 3.1h0m0 0h0m0.3 0.5h0m0.7 -0.6h0m0.1 -2h0m0.8 2.6h0m0.2 -1.4h0m0.3 -0.1h0m0.3 1.5h0m0.3 -1.5h0m0.3 2.3h0m0.1 -3.6h0m0.3 1.6h0m0.1 2.2h0m0.1 1.1h0m0.3 -5.9h0m0.1 3.4h0m0.3 -0.3h0m0.3 1.7h0m0 -2.2h0m0.2 1.6h0m0.6 0.9h0m0.6 -0.3h0m0.1 0h0m0.6 -0.4h0m0.2 -0.9h0m0.2 -1.3h0m0.2 -0.4h0m0.1 -0.6h0m0.4 -0.9h0m0.9 3.3h0m0.1 -2.7h0m0.4 -0.2h0m0.7 1.6h0m2.3 -2.3h0m0.3 0.5h0m1.1 -0.2h0m56.1 0.7h0m1.2 0h0m1.4 0.3h0m0.2 1.1h0m0.4 0.1h0m0.2 0h0m0.2 -1.9h0m0.2 2.7h0m0 -1.2h0m1.9 2h0m0.8 -2.1h0m0.3 -1h0m1 4.4h0m0.8 -1h0m0.1 -0.7h0m0.1 0.4h0m0.3 -2.1h0m0.6 -0.9h0m0 1.7h0m0.1 0h0m0.1 0h0m0.6 2h0m0.4 -3.2h0m1.7 3.7h0m0.3 0h0m0.2 -0.1h0m0.3 -3.8h0m0.1 0.3h0m1.2 0.9h0m0.6 -0.7h0m0.1 -1.1h0m0.9 3.1h0m0.2 0.5h0m0.5 -3h0m0.8 2.3h0m1.2 1h0m0.6 -2.6h0m0.2 -1h0m0.3 2.6h0m1.2 1.7h0m0.4 -2.1h0m0.8 -0.1h0m1.5 1h0m1.2 -0.5h0m0 2.1h0m0.6 -5.3h0m0.6 3.5h0m0.8 -2.4h0m0.4 1h0m0.3 2.1h0m1.2 0h0m0.4 -0.7h0m0.3 -3.9h0m0.1 5.4h0m0.2 -2.3h0m0.8 2.1h0m0.8 -0.1h0m0.9 -3.1h0m0.5 -1.3h0m0.7 2.5h0m0.7 2.1h0m0.6 -2.8h0m0.1 3.1h0m1.9 -2.9h0m1.6 -2h0m0.3 0h0m2.5 2.7h0m2 2.2h0m1.6 -0.6h0m1.6 -0.3h0m4.4 -0.3h0m24.4 0.1h0m-193.3 3.5h0m2.4 3.1h0m9.6 -1.2h0m3.9 -0.4h0m1.4 1h0m0.5 0.1h0m1.7 -4.2h0m0.6 3.7h0m0.3 -1h0m1.3 -2.3h0m1.4 0.8h0m0.3 -0.2h0m0.1 3.6h0m1.2 -1.6h0m0.5 -2.4h0m0.3 1.7h0m1.3 0.6h0m0.6 -0.5h0m1.3 -2.5h0m0 0.6h0m0.6 0h0m0.7 3.8h0m0.2 -0.6h0m0.3 -0.7h0m0.7 2.2h0m2.4 -0.9h0m1.3 -0.4h0m0.2 -3.6h0m0.4 3.1h0m0.4 0.9h0m1.1 -2.2h0m0.5 -0.9h0m0.1 -0.3h0m0.1 1.4h0m0.3 -2.4h0m0.7 3.4h0m0.2 2.2h0m0.5 -0.5h0m1.1 -4.8h0m1.2 4.7h0m0.2 -1.1h0m0.1 -3.5h0m0.3 2h0m0.2 0.1h0m0.2 -2.8h0m1.8 3.6h0m0.1 -2.6h0m0.2 4.2h0m0.4 0.5h0m0.2 0.2h0m0.2 -0.1h0m0 -3.3h0m0.4 1.4h0m0.2 -3.8h0m1.1 0.4h0m0.1 5h0m0.2 -1.3h0m0.4 0.1h0m0.1 -0.2h0m0.1 0.5h0m0.1 -0.9h0m0.5 -1.8h0m0.3 2h0m0.2 0.3h0m0.6 -3.7h0m0.2 0.7h0m0.7 1.4h0m74.6 -1.9h0m0.2 0.9h0m0.5 0.6h0m0.5 0.7h0m0.5 1.8h0m0.2 0h0m0.1 -4.2h0m0 0.9h0m0.5 2h0m0.1 -2h0m0.6 -0.9h0m0.4 2.4h0m0 2.7h0m0.1 -0.4h0m0.1 0.6h0m0.3 -0.4h0m0.5 -1.1h0m0.2 -2.1h0m0.1 -1h0m0.1 -0.5h0m0.3 2.7h0m0.3 1.3h0m0.1 -0.6h0m0.2 -2.2h0m0.4 2.6h0m0.4 0.2h0m0.2 1.1h0m0.1 -5.3h0m0.3 0.5h0m0.2 3.8h0m0 -3.8h0m0.4 2.7h0m0.3 1.8h0m0 -1.1h0m0.5 -2.6h0m0.5 -1.9h0m1.2 4.6h0m0.4 -3.8h0m0.4 3.5h0m0.4 -2.7h0m0.7 4.1h0m0.4 -3.8h0m0.2 0.3h0m0 0.3h0m0.8 2.5h0m0.4 -2h0m0.7 -2.9h0m0 4.4h0m1.4 -2.3h0m1.4 -2.1h0m1.2 1.8h0m1.2 1.9h0m0.3 -2.7h0m2.2 1.1h0m1.7 1.1h0m0.5 -2.7h0m0.1 0.3h0m0.2 4.2h0m3.2 -0.7h0m0 0.5h0m0.9 -3h0m1.3 1.7h0m0.5 0.3h0m0.1 -2h0m0.4 -1.7h0m0.7 2.5h0m4.2 -2.2h0m0.4 2.6h0m2 0h0m1.2 -0.3h0m2.3 -2.8h0m8.8 2.3h0m-178.6 8.8h0m6.7 -0.1h0m2.8 -3.8h0m7.8 -0.5h0m2 4h0m0.3 -0.8h0m0.8 -1.1h0m1.6 2.1h0m0.3 -3.6h0m0.4 1.1h0m0.8 -2.1h0m0 4.2h0m1.2 -2.8h0m2.6 2.6h0m2.3 0h0m0.6 0h0m0.2 -1.5h0m4.1 -0.1h0m0.1 0.3h0m0.1 2.8h0m0.5 -4.4h0m0.4 0.4h0m0.9 4h0m0 -4.7h0m0.3 2.9h0m0.7 0h0m0.1 0.9h0m0.4 -1h0m1.2 -1.1h0m0.4 -1.7h0m0 3.5h0m0.1 -2.2h0m0.1 3h0m0.2 -3.9h0m0 -0.7h0m0.4 3.5h0m0 0.3h0m1.4 -2.5h0m0.1 0.2h0m0.4 1.2h0m0.5 0.3h0m0.4 2.1h0m0 -5.4h0m0.3 1.2h0m0 2.6h0m0.3 -1.2h0m0.5 -2.5h0m0.1 0.4h0m0.1 1.3h0m0 -1.1h0m0.4 3.9h0m0.1 -3.6h0m0.5 4.2h0m0.1 -5h0m0.1 0.6h0m0.3 1.8h0m0 -2.3h0m0.1 0.2h0m0.4 0.8h0m0.4 2.1h0m0.1 -3.8h0m0.4 0.8h0m0 5h0m0.2 -4.3h0m0 0.9h0m0.5 2.6h0m0 -4.2h0m0.5 1.4h0m0.3 0.1h0m0.1 -0.8h0m0.6 -0.3h0m81.6 -0.4h0m0.9 4.2h0m0.1 0.7h0m0.1 -5.3h0m0.1 3.5h0m0.3 -3.6h0m0.2 4.8h0m0.2 -0.5h0m1.2 -2.3h0m1 -0.3h0m0 -0.3h0m0.7 2.3h0m0.5 -0.1h0m0.3 -1.1h0m0.1 0.9h0m0.5 -3.1h0m0.3 1.3h0m0.5 -1h0m0.5 1.2h0m0.4 1h0m0.2 1.5h0m0.6 -4.3h0m0.5 4.6h0m0.1 -2.2h0m0.2 1.5h0m0.3 -2.2h0m0.2 3.8h0m0.6 -3.4h0m0.6 -0.6h0m0.1 -0.8h0m0.5 4.2h0m0.8 -0.2h0m0.8 -3.6h0m0.4 4.5h0m0.3 -0.1h0m0.2 -3.4h0m1.8 2.1h0m0.9 -2.7h0m0.5 3h0m0.4 0.1h0m2.6 -2.8h0m0.2 3h0m0 -2.5h0m0.1 0.7h0m0 0.1h0m0.9 -3.4h0m0.1 5.8h0m0.2 -5.8h0m1.9 4.4h0m2.2 -1.9h0m0.4 3.3h0m0.5 -3.2h0m0.5 1.9h0m1.5 -0.9h0m0.6 -2.4h0m4.2 -1h0m1.8 1.9h0m2.2 3.8h0m3 -2.9h0m14 2.7h0m21.6 0.2h0m-224.8 1.4h0m23 0.8h0m6.1 0.3h0m0 1.1h0m1.8 0.5h0m4 -2h0m4.4 2.3h0m0.8 -3.2h0m1.7 -0.5h0m0.3 0.9h0m1 0.3h0m1.4 -0.4h0m0.7 0.9h0m0.8 -1.1h0m0.3 -0.9h0m0.4 1.9h0m0 3.4h0m0.6 -3.4h0m0.1 2.9h0m0 -0.4h0m0.4 -4.6h0m0.9 3h0m0.2 0.9h0m2.1 -1.3h0m0.3 -0.5h0m0.8 0.3h0m1.1 1.5h0m1.5 1.2h0m0.3 -0.5h0m0.7 -0.6h0m0.8 -0.7h0m0.1 0.7h0m0.1 -1h0m0.4 -1.4h0m1 3.1h0m0.2 0.6h0m0.2 -2.4h0m0.1 -1.1h0m0.5 2.6h0m0.9 -1.9h0m0.1 -0.5h0m0.1 -0.7h0m0.1 -0.1h0m0.4 1h0m0.2 -2.3h0m0.7 4h0m0.6 -3.9h0m0.1 2.5h0m0.2 2.9h0m0.2 -4.3h0m0.1 0.3h0m0.5 4.2h0m0.2 -3.1h0m0 0.2h0m0.3 0.8h0m0.8 -3.6h0m84.4 0.3h0m0.9 3.3h0m0.4 -0.9h0m0 1.8h0m0.7 -0.4h0m0.4 -0.2h0m0.4 -0.1h0m0.5 0.1h0m0.2 0.7h0m0.2 0.4h0m1 -4.3h0m0.1 2.2h0m0.3 0h0m0 1.9h0m0.8 0.2h0m0.1 -1.3h0m0.1 1.7h0m0.1 -2.2h0m1.1 1.5h0m1.8 -2.9h0m0.2 3.2h0m0 -1h0m0.5 -3.5h0m0.1 0.9h0m0.3 0.4h0m0.2 -0.6h0m1.1 -0.1h0m0.3 4.5h0m0.9 -4.7h0m0.4 4.3h0m1.6 0.6h0m0.8 -3.7h0m1 -0.9h0m1.8 4h0m2.3 -4.9h0m0.9 -0.3h0m0.5 3.4h0m0.1 -2.8h0m0.3 4.5h0m1.9 -4h0m0.3 4.5h0m0 -3.4h0m1.8 -0.6h0m2.2 4h0m1.9 -4.4h0m7.4 -0.9h0m2.8 3.8h0m15.9 0.3h0m8.4 -1.5h0m-201 7.9h0m7.1 -1.5h0m0.3 -0.2h0m1.6 1.6h0m1.4 -4h0m1.1 1.7h0m1 2.9h0m3.3 -1.7h0m1.1 -2.2h0m1.8 0.2h0m0.5 -0.3h0m0.9 3.8h0m1.3 -4.3h0m0.9 4.6h0m2.3 0.3h0m1.2 -3h0m1.6 2.2h0m1 -4.3h0m0.5 -0.4h0m1.1 0.8h0m0.1 4.1h0m0.3 -2.7h0m1.3 3.5h0m0.8 -4.4h0m0.1 4.2h0m0.9 -4.5h0m0.5 1.7h0m1.4 -0.1h0m1.2 -1.7h0m0.8 -1.1h0m0 3.1h0m0.6 2.1h0m0.3 -4.4h0m1.9 2.1h0m0.8 -1h0m2 -0.8h0m0.6 0.6h0m0.1 -1.1h0m0.5 5.1h0m0.5 -4.1h0m0.2 3.1h0m0.8 -2.1h0m0 3.1h0m0.1 -4.8h0m1.1 1.5h0m0.6 1.1h0m0 -2.9h0m0.1 1.2h0m0.8 0.6h0m0.2 3h0m0.4 -3.5h0m0 -1h0m0.3 0.5h0m0.1 -0.5h0m0.4 -0.8h0m0.2 1.4h0m0.3 3.6h0m0 -5h0m0.1 4.1h0m85.2 1.5h0m0 -2.6h0m0.1 -0.6h0m1 -1h0m0.1 0.3h0m0.1 3.3h0m0.1 -2.2h0m0.4 1.6h0m0.1 -2.5h0m0.1 -1.2h0m1.1 0.6h0m0.1 3.9h0m0.2 -2.1h0m0.6 2.1h0m0.8 -3.6h0m0.4 2.5h0m0.2 0.4h0m0.2 -2.5h0m0.3 -0.3h0m0.1 1.2h0m0.8 -0.3h0m0.2 1.1h0m0 -0.1h0m0.2 -2h0m0 -0.3h0m0.4 0.3h0m0.1 0.3h0m0.3 1.4h0m0.3 1h0m0.2 -2.3h0m0.2 -2.1h0m0.1 2.8h0m0.5 -1.2h0m0.5 1.1h0m0.2 -0.8h0m0.2 2h0m0.2 0.3h0m0.5 0.5h0m0.9 -1.9h0m0.3 0.1h0m0.7 -1.5h0m0.9 2h0m1.1 0.8h0m0.6 -0.6h0m0.5 -1.2h0m0.3 2h0m0.9 0.2h0m1.6 -0.1h0m0.3 -2h0m0.8 -2.1h0m0.2 1.4h0m0.6 -1h0m1.3 2h0m0.2 -0.5h0m1 1.9h0m0 -2.3h0m0.2 -0.2h0m0.4 -0.9h0m0.5 0.4h0m0.3 2.9h0m4.6 -1h0m1.6 -0.2h0m6.8 0.4h0m8.9 0.9h0m-204.5 3.9h0m29.8 -1.5h0m0.2 2.9h0m9.4 -2.6h0m1.2 0.5h0m2.1 2.8h0m1 -1.4h0m1.8 -0.4h0m4.8 0.7h0m0.1 -0.3h0m1.3 1.5h0m1.5 0.9h0m0.1 -0.4h0m0 -1.2h0m0.9 -2.9h0m0.8 3.1h0m1.7 -2.3h0m0.5 0.7h0m0 3h0m0.2 0.6h0m1.9 -3.4h0m0.9 2.6h0m0.6 -0.7h0m0.8 1.2h0m0.4 -0.1h0m0 -1.4h0m0.1 -1.1h0m0.3 2.8h0m0 -4.4h0m1.3 0.5h0m0 3.1h0m0.3 0.9h0m0.6 -5.3h0m0.2 2.4h0m0.1 0.5h0m0.7 -0.7h0m0.5 2.4h0m0 -0.7h0m0.1 -4.2h0m0.2 5.6h0m0.1 -5.1h0m0.5 5.1h0m0.6 -5.6h0m1.2 2.1h0m0.3 -1.4h0m1.5 1.3h0m0.2 1h0m0.3 -1.7h0m0 3h0m0.6 -0.2h0m0.7 -4.1h0m0.3 0.3h0m0 0.1h0m0.1 4.1h0m0.7 -2.2h0m0 -2.3h0m0.8 3.3h0m80.4 1.3h0m0.9 -0.9h0m0.1 1.1h0m0.5 -1.1h0m0.9 -0.9h0m0.4 1h0m0.2 -1.9h0m0.5 1.1h0m2.8 0.9h0m0 1.2h0m0.3 -0.2h0m0.8 -0.4h0m0.8 1h0m0.1 -0.9h0m0.4 -1.8h0m0.7 -1h0m0.6 -0.4h0m0.3 4.2h0m0.3 -3.2h0m1.1 -0.9h0m0.1 3.6h0m0.3 -2.3h0m0.2 2.6h0m1.1 -5.2h0m0.3 2.9h0m1.9 1.3h0m0.2 -3.5h0m0.1 2.7h0m0.4 -2.5h0m0.5 1.1h0m0.7 0.3h0m0.3 -0.7h0m0.5 -1.8h0m0 3.2h0m0.6 0.7h0m1.9 -3.5h0m0.2 -0.7h0m1.2 1.3h0m0.8 2.9h0m3.8 -1.9h0m0.7 -1.5h0m2 0.3h0m0.4 1.1h0m1.5 0.1h0m4.8 1.7h0m9.7 -3.9h0m12.3 4.1h0m-182 3.7h0m0.7 3.2h0m6.3 0h0m0.9 -1.2h0m7.4 -2.3h0m1.4 0.3h0m1.1 2.9h0m0.6 -2.1h0m1.2 2.1h0m0.3 -3.1h0m0.8 2.9h0m3.4 0.9h0m0.3 -3.5h0m0.5 3.7h0m1.2 -5.3h0m0.1 2.1h0m0.5 -0.5h0m0.3 1.1h0m1.2 0.1h0m0.4 1.7h0m0.1 -0.5h0m0.7 -1h0m0 -2.4h0m1.1 4.4h0m0 -2.4h0m0.6 -2.8h0m0 3.8h0m1.1 0h0m0.2 -1.1h0m0.6 -1.6h0m0.5 1h0m0.2 1h0m0.7 -0.6h0m0.7 -1.5h0m0.9 3.4h0m0.2 -3.6h0m0.1 2.9h0m1.4 0.1h0m0.1 -1.6h0m0.3 0.4h0m1.7 -1.7h0m0.6 1.3h0m0 -1.3h0m0.2 4.1h0m0 -1h0m0.4 0.4h0m0 -1.4h0m0.5 0.8h0m0.2 -3.9h0m0.4 4.7h0m0.3 -4.6h0m0.2 5.6h0m0.4 -0.1h0m0.1 -1.8h0m0.5 -1.4h0m0.2 3.4h0m0.3 -2.2h0m0.2 -3.1h0m0.2 2.8h0m0.2 -1h0m0.3 -1.1h0m0 1.3h0m0.2 0.9h0m0.2 -0.6h0m0.1 0.5h0m0.2 1h0m74.3 -0.6h0m0.5 -0.2h0m0.9 0.8h0m0.2 -0.7h0m0.4 1.1h0m0.3 -3.1h0m0 2.1h0m0.2 -2.2h0m0 -0.3h0m0.1 2.1h0m0.3 -1.7h0m0.4 2.3h0m0.1 -3.7h0m0.2 3h0m0.2 -1.1h0m0.4 2.7h0m0 -1.7h0m0.1 -1.9h0m0.5 2.2h0m0.1 1.4h0m0.7 1h0m0.1 -1.5h0m0.4 -2.3h0m0.2 -1.1h0m0.1 2.2h0m0.1 -2.3h0m0.4 -0.1h0m0.4 4.4h0m0.2 -5h0m0.3 0.7h0m0.2 4.4h0m0.5 -1.2h0m0.4 0.8h0m0.3 0.3h0m0.6 0.8h0m0.5 -2.7h0m0.3 -0.4h0m0.4 -1.7h0m0.5 0.2h0m1.2 1.1h0m0.3 -1.2h0m0.5 3.7h0m0.1 -3.4h0m0.8 3.5h0m1.1 -1.4h0m0.2 -1.9h0m0 4h0m0.8 -2.9h0m0.6 0.5h0m0 0.4h0m0.4 -0.3h0m0.1 0.6h0m1.5 -1h0m0.1 1.1h0m0.3 -3.6h0m0.2 2.8h0m0.6 1.9h0m2.6 -3.4h0m1.2 3h0m0.9 -3.7h0m0 -1.1h0m1.7 4.6h0m0.3 -4.6h0m0.7 4.2h0m1.3 -0.3h0m0.5 1.7h0m0.3 -0.4h0m0.4 -5h0m0.3 0.4h0m2 -0.1h0m0.1 0h0m0.7 2.8h0m2.6 -2.3h0m3.4 1.1h0m1.7 1.3h0m9.2 1.3h0m-194.9 3.9h0m33.9 1.9h0m3.7 -2.3h0m3 0.4h0m3.1 -1h0m1.7 1.6h0m3.4 -2h0m0.4 0.3h0m0.3 0h0m2.8 2.9h0m0.9 -2h0m1.5 0.8h0m0.2 -1.9h0m0.6 0.1h0m1.3 1.4h0m0.2 1.5h0m0.3 -3.5h0m0.2 4.1h0m1 -4.1h0m0.5 2.5h0m0.3 -2.8h0m0.7 3.9h0m0.4 -1.8h0m1.1 1.9h0m0 -3.1h0m0.5 -1.2h0m0 0.7h0m0.1 4.3h0m1.3 -3.3h0m0 3.5h0m0.2 0.4h0m0.1 -0.1h0m0.3 -3.8h0m0.3 3.7h0m0.7 -4.5h0m0.6 -0.6h0m0.3 3.6h0m0.1 1.1h0m0.3 -3.5h0m1.3 -1h0m0.4 0.2h0m0.1 0.2h0m0.5 3.5h0m0.3 -1.9h0m0.1 -0.6h0m0.4 -1.9h0m1.1 1.5h0m1.3 -1h0m0.4 4.7h0m0.2 -5.5h0m0.1 5.2h0m0.3 -0.2h0m0 -1.6h0m0.1 -2.2h0m2.4 1.6h0m0.3 0.5h0m0.1 2h0m0.4 -2.8h0m0 1.6h0m0.2 1.8h0m0.3 -0.1h0m0.9 -1.2h0m1.2 0.7h0m0.8 0.5h0m57.8 -0.6h0m0.2 0.6h0m0.1 -0.7h0m0.2 -1.1h0m2.2 -1.8h0m0.4 0.7h0m0.8 0.4h0m0.1 1.3h0m0.2 -1.7h0m0.2 2h0m0.1 -0.1h0m0.2 1.1h0m0.2 -5.2h0m0.1 1.5h0m0.3 -0.7h0m0.1 2.2h0m0.5 -3h0m0.3 -0.2h0m0.5 -0.1h0m0.1 0.4h0m0.1 1.1h0m0.1 -1.4h0m0.1 5.3h0m0.1 -0.8h0m0.3 -3.5h0m0 -0.8h0m0.3 3.1h0m0.6 -2.4h0m1 0.9h0m0.3 -1.9h0m0.2 3.3h0m0.2 -1.1h0m0.5 1.8h0m0.2 -4.2h0m0.8 2.3h0m0.1 -1.5h0m1 1.4h0m0.1 -2h0m0 5.2h0m0.1 -4.3h0m0.2 2.1h0m0.1 -0.6h0m0.3 -1.8h0m0.5 4.7h0m0.1 -2.2h0m1.5 -2.7h0m1.9 1.4h0m0.2 1.3h0m0.3 -2.4h0m0.2 2.8h0m0.5 0.4h0m0 -4.3h0m0.2 0.4h0m0.1 4.1h0m1 1.2h0m0.6 -3.4h0m1.5 2h0m1.2 -1.9h0m2.1 2.9h0m1 -3.3h0m0.4 -1.7h0m0.5 -0.2h0m0.6 0h0m0.7 2.1h0m1.5 0h0m1.2 2.1h0m0 0h0m0.9 0.4h0m5.8 -0.9h0m1 1.2h0m0.8 0.2h0m22.5 -0.2h0m-176.7 2.5h0m5.7 2.2h0m2.7 -2.2h0m3.4 3.7h0m8.1 -3.8h0m2 1.7h0m3.3 -2h0m4.2 -0.4h0m0.2 3.8h0m3.7 -2.7h0m0.5 -0.9h0m0.6 1.4h0m0.5 -0.7h0m0.7 1h0m0.2 -0.2h0m1.9 2.9h0m0.5 -4.7h0m0.2 1.2h0m0.7 -1.7h0m0.1 0.4h0m0.4 0h0m0.2 1.7h0m1.3 -1.3h0m0.2 2.9h0m0.1 0.2h0m0.2 0.2h0m1 -3.5h0m0.2 3.8h0m0.6 -0.8h0m0.9 2.3h0m0.4 -2.7h0m0.1 -1.7h0m1.2 2.1h0m0.3 -0.2h0m1.4 -0.1h0m0.9 -2.3h0m0.2 1.4h0m0.7 -1.3h0m0.8 0.3h0m0.3 0.4h0m1.9 1.8h0m0.2 -2.6h0m0.3 -0.5h0m0.1 2.2h0m1 3h0m0 -1.8h0m0.1 -2.3h0m0.9 3.7h0m0.4 -0.6h0m0.2 -2.2h0m0.5 -1.9h0m0.3 5.2h0m1.2 -4.8h0m0.4 -0.7h0m1.2 3.3h0m0.2 -2h0m0.9 2.1h0m0.5 -0.1h0m0.9 -1.9h0m0.1 2.2h0m0.1 1.8h0m0.9 -1.1h0m0.3 -1.1h0m0.4 -0.8h0m0.9 1.1h0m0.6 -0.6h0m0.6 2.6h0m0.5 -1.7h0m1 -0.3h0m1.2 1h0m1 0.1h0m2.3 0.7h0m2.2 0h0m1.3 0.1h0m1 0.1h0m26.1 -2.3h0m0.1 2h0m1.4 -2.4h0m0.1 -0.2h0m0.1 1.6h0m1 -1.1h0m0.2 1h0m0.2 -0.1h0m0.9 0.6h0m0.5 -1.7h0m0 1.4h0m2.1 -3.8h0m0 2.9h0m0.3 -2.6h0m0.3 2.8h0m1.5 -3.5h0m0 3.2h0m1.1 -0.5h0m0.4 0.4h0m0.1 0h0m1.2 1.7h0m0.5 -2h0m0.1 -0.4h0m0.9 0.8h0m0.1 -2.9h0m0.5 4.5h0m0.2 -0.4h0m0.6 0.9h0m0.4 -1.7h0m0.1 -0.6h0m1 0.5h0m0.1 -1.9h0m0 1h0m0.1 2.1h0m1.7 0.4h0m0.2 -5.2h0m0.4 0.8h0m0.4 4.2h0m0.1 -3h0m0.2 1h0m0.2 -2h0m0.5 1.8h0m0.3 2.7h0m0.8 -5.2h0m0.8 -0.3h0m1.7 0.8h0m0.5 4.6h0m0.4 -4.6h0m0.7 2.2h0m0.6 1h0m0.3 -2.4h0m1.9 3.6h0m0.9 -2.7h0m3 -2.5h0m0 3h0m1.7 -2.1h0m0.1 2.2h0m0.4 1.8h0m6.7 -4.5h0m0.3 1.4h0m0.8 0.2h0m0.6 1h0m4.3 -2.1h0m2.4 3.5h0m1.9 -1.4h0m1.6 -0.1h0m5.1 1.5h0m4.6 -3.5h0m-162.9 10.3h0m8.7 -0.8h0m4.3 -2.6h0m0.6 2.9h0m8.8 0.2h0m1.6 -0.1h0m0.3 -2h0m1.1 -1.5h0m1.4 -0.2h0m2 -0.1h0m0.7 0.1h0m1.3 0.4h0m1.6 1.6h0m0.9 -2.3h0m0.5 4.8h0m0.2 -3.3h0m0.3 -0.4h0m1.3 0.4h0m0.1 0h0m1.2 -0.4h0m0.2 -0.5h0m0.2 -0.8h0m0.1 3.4h0m2.7 0.9h0m0 -4.8h0m0.6 1.1h0m1.4 1h0m0.1 2.1h0m0.9 -4.1h0m0.9 2h0m0.2 0.2h0m0.1 0h0m0.8 2h0m0.4 -4.3h0m0.1 0.2h0m0.2 3h0m0.2 -3h0m0.5 4.9h0m0.5 -3.5h0m1.3 1h0m0.3 -2.1h0m0.9 1.2h0m0 2.4h0m0.4 -1.7h0m0.4 2h0m0.2 -1.5h0m0.1 0.8h0m0.4 1h0m0.1 0.3h0m1.8 -3.5h0m1.8 -1h0m1.2 2.8h0m0.4 0.9h0m0.6 -2.5h0m0.4 3.6h0m0.8 -5.2h0m0.3 3.6h0m0.1 -2.2h0m0.2 2.8h0m0.1 -2.6h0m0.1 -1.8h0m1.3 4.3h0m0.5 -4.4h0m0.7 1.2h0m0.2 1.3h0m0.7 -2.6h0m0.1 0.1h0m1.2 3h0m0.1 0.5h0m0.8 0.8h0m0.4 0.6h0m0.8 -4.3h0m0 4.5h0m0.2 -0.2h0m0 -1.2h0m0.8 1.5h0m0.5 -2h0m0.1 1.8h0m0.5 -2.6h0m0.2 -1.3h0m0 4.3h0m0.2 -5h0m0.5 2.2h0m0.3 -2.6h0m0.3 4.5h0m0.1 -1.9h0m0.8 0.7h0m0.2 -1.3h0m0.7 -0.9h0m0.6 1.6h0m0.3 2.2h0m0.1 -3.8h0m0.4 1.8h0m0 1.7h0m0.7 -3h0m0.1 -1.9h0m0.1 3h0m0.2 -0.1h0m0.6 0.9h0m0.2 -1.4h0m0.2 -0.8h0m0.2 2.3h0m0.2 -1.5h0m0.4 1.7h0m0.2 -1.4h0m1 1h0m0.5 -2.5h0m0.3 -1h0m0.3 3h0m0.5 -0.3h0m0.2 2.5h0m0 -4.5h0m0 2.5h0m0.4 -0.4h0m0.2 2.6h0m0.1 -2.5h0m0.4 -1.7h0m0.4 0.8h0m0.2 -1.4h0m0.2 1.3h0m0.3 2.5h0m0.1 -3.4h0m0.5 4.5h0m0.4 -2.1h0m0.4 0.3h0m0 -2.7h0m0 4.5h0m1.4 -0.8h0m0.1 -1.4h0m0.3 1.6h0m0.2 0.8h0m0.4 -4h0m0 0.7h0m0.3 -0.2h0m0.3 2.7h0m0 -1.4h0m0.9 0.2h0m0.3 -3.2h0m0.5 -0.3h0m0.2 0.9h0m0.5 -1h0m0.1 2.2h0m0.1 1.4h0m0.1 -2.9h0m0.1 -0.8h0m0.2 0h0m0.1 5.7h0m0.7 -2h0m0.2 0.6h0m0.6 0.7h0m0.5 -3.8h0m0.1 4.1h0m0.6 -1.6h0m0.6 -2.7h0m0.2 1.8h0m0.2 1.6h0m0.1 1.1h0m0.1 -3.1h0m0.1 0h0m0 2.3h0m0.7 -1.8h0m0.3 -1.3h0m1.4 -0.8h0m0.3 0h0m0.5 2.1h0m0 0.3h0m0.2 -2.9h0m0.6 2.2h0m0.4 -1.4h0m0.4 -0.5h0m0.4 1.4h0m0.7 -1.7h0m0 0.9h0m0 2.3h0m0.4 -0.4h0m0.9 -0.9h0m0.8 -2.3h0m0 4.3h0m0.1 -2.6h0m0.2 4h0m0 -5.2h0m0 4.7h0m0.7 -4.1h0m0.3 0.2h0m0.4 -1h0m0.2 0.9h0m0.2 0.2h0m1.5 -0.7h0m0.9 0.3h0m0.2 1h0m0.2 -0.6h0m0.5 -0.9h0m0.6 0.6h0m0.2 1.8h0m0.2 -0.7h0m0.2 -1.9h0m0.1 3.3h0m0.3 -0.9h0m0.8 0.7h0m0.7 0.1h0m0.4 -1.6h0m1.6 0.4h0m1.5 -1.1h0m2.9 1.1h0m0.1 -0.8h0m0.6 3.4h0m0.4 -0.2h0m0 -2.1h0m0.2 -1.6h0m0 1.2h0m0.3 3.1h0m0.4 -4.1h0m0.1 4.1h0m0.2 0.2h0m0.4 -5.6h0m0 0.7h0m0.3 -0.3h0m0.6 0.1h0m0.5 0.4h0m0.8 1.6h0m0.7 3.1h0m0.3 -1.6h0m1.5 -1h0m1.3 2.7h0m0.4 -1.8h0m0.5 0.7h0m7.2 -2.9h0m0.9 3.9h0m3.5 -0.8h0m0.9 -0.8h0m5.5 -3.2h0m0.7 1.1h0m3.4 -1.7h0m2 3.2h0m1.1 -0.2h0m17.1 -1.7h0m-169.1 5.8h0m1.8 3.5h0m3.1 0.6h0m6.8 -5.3h0m21 2.9h0m0.9 -0.6h0m0.4 -0.1h0m0.8 -2.1h0m0.9 2.7h0m1.1 1.2h0m0.1 -3.4h0m1 4.2h0m0.2 -1.2h0m0.8 -3.4h0m0.3 0.2h0m1.7 2.4h0m0.2 -1.2h0m0.8 0.2h0m0.9 0.6h0m0.5 0h0m1.9 -1h0m2.5 0.5h0m0.9 2.5h0m0.2 -1.4h0m1.5 -2h0m0.4 -0.1h0m0.3 -0.2h0m1.5 2.5h0m0.2 -1.8h0m0.3 -0.7h0m0.5 3.2h0m1 0h0m0 -3.3h0m0.9 2h0m0.1 1.4h0m0.1 -2.9h0m0.1 1.7h0m0.3 0h0m2.4 0.7h0m1.4 -1.6h0m0 0.2h0m0.6 1.5h0m0 -3.5h0m0.2 2.8h0m0.6 0.2h0m0.3 -3.1h0m0 2.6h0m0.4 -2.4h0m0.6 4.3h0m0.6 -0.7h0m0.5 -0.9h0m0.2 -2h0m1.3 4.5h0m0.6 -5.3h0m1.1 1.6h0m0.1 0.8h0m0.1 -2.4h0m0.3 1.1h0m1 0.9h0m0.2 0.1h0m0.6 3.2h0m0.5 -4.5h0m2 2.8h0m0.2 -0.5h0m0 -1.7h0m1.3 1.2h0m0 2.6h0m0.6 -2.3h0m0.1 -1.9h0m0.5 4.4h0m0 -2h0m0.3 -2.8h0m0.4 0.3h0m0.1 1.2h0m0 0.1h0m0.5 -2.1h0m0 1.2h0m0.4 -0.6h0m0.1 1h0m0.8 0.5h0m0.3 0h0m2.9 -1.5h0m0.4 2.8h0m0.9 1.9h0m0.7 -1.2h0m0.6 -2.4h0m0.2 0.2h0m0 0.3h0m0 1.7h0m2.4 -1.5h0m2.8 0.2h0m0.1 2.8h0m0.2 -1.7h0m3 -2.4h0m1.1 -1.4h0m0.3 3.7h0m0.3 -2.3h0m0.4 3.4h0m0.2 -4h0m0.2 3.1h0m1.8 -0.2h0m1 -1.7h0m0.2 -1h0m0.2 4.2h0m1.1 -0.5h0m0.4 -4.5h0m1.1 3.1h0m0.2 1.4h0m0 0.8h0m0.6 -2.7h0m1.2 -0.9h0m0.2 2.4h0m1.8 -0.6h0m0.2 -3.8h0m0.2 0.7h0m0.1 1.2h0m0.1 -0.9h0m0.9 4.2h0m1.3 0.4h0m0.2 -4.9h0m1.1 4.3h0m0.6 -0.5h0m0.4 -2.8h0m0.6 -0.6h0m0.3 0.1h0m1.3 2.6h0m0.4 -3.1h0m2.5 2.8h0m1.3 -2.2h0m0.5 0.2h0m0.3 -1h0m0.6 4.3h0m0.6 0h0m0.1 -3.3h0m1.2 -1.2h0m0.7 0.3h0m1.2 2h0m3.9 -2.1h0m4.2 1.2h0m1.2 1.6h0m0.6 1h0m0.2 -0.1h0m2.8 -2.3h0m3.9 0.5h0m4.6 0h0m3.2 0.5h0m18.2 0.3h0m-146.2 5.4h0m7.7 1.3h0m8.8 1.2h0m0.1 -2.7h0m2.8 1.1h0m0.8 -2.3h0m2 2.4h0m1.4 -0.8h0m3.2 -2.8h0m3.5 1.6h0m0.3 0.7h0m0.4 2.6h0m0.4 -3.3h0m1.5 0.9h0m5 2.2h0m1.4 -0.3h0m1.1 -3.5h0m1.3 0.7h0m1.7 0.3h0m0.1 -0.4h0m0.6 2h0m0.9 -2h0m0.8 0.7h0m0.1 3.5h0m0.2 -2.2h0m2.1 -2.8h0m0.9 3.7h0m1.1 -3.6h0m0.4 2.4h0m1.7 1.7h0m0.9 -3.3h0m0.7 3.1h0m0.1 0.9h0m1.3 -2.4h0m1.8 -1.8h0m1.3 2.9h0m0.5 -2.4h0m0.4 -0.7h0m0.3 -0.8h0m1 2.1h0m0.2 3.1h0m0.1 0h0m0.6 -1h0m0.3 -4.5h0m0.4 2.5h0m5.2 0.6h0m0.5 -2.6h0m0.5 2.4h0m0.5 0h0m1.8 1h0m0.6 -0.2h0m1.5 1.5h0m2.4 -3.3h0m0.7 -1.1h0m0.2 0.1h0m0.2 -0.7h0m0.2 0.3h0m1.2 3.3h0m0.6 0.9h0m0.9 -1.9h0m1 -0.1h0m0.7 -2.5h0m0.8 -0.2h0m1.2 0.1h0m0.2 3.1h0m0.1 -1.5h0m1 -0.8h0m0.8 0.1h0m0.3 2.7h0m3.5 -2.5h0m0.6 1.5h0m3.4 0.1h0m4.5 -2.1h0m0.1 4.5h0m0.6 -0.5h0m0.2 -0.2h0m0.2 -1.1h0m1.6 -3.6h0m0.2 0h0m7 4.9h0m8.9 0.7h0m12 -4.7h0m2.7 3.6h0m-116.3 6h0m8.1 -0.1h0m2.9 -3.1h0m0.5 -0.6h0m1 2.1h0m1.7 3.1h0m3.7 -5.3h0m1.8 2.5h0m2 1.5h0m0.1 -4.3h0m1.4 1.8h0m0.7 0.6h0m1.8 0.8h0m5.5 -0.4h0m8.7 0.6h0m0.3 -3h0m1.6 3.6h0m1.7 1.6h0m0.2 -4.6h0m0 -0.7h0m1.4 3.4h0m0.6 -0.9h0m0.5 1.6h0m3.1 -1.2h0m2.4 1h0m3.4 -1.8h0m4 0.7h0m2.3 -1.8h0m0.3 3.3h0m0.8 -0.1h0m5.4 0.8h0m0.4 -0.2h0m4.7 -4.9h0m3 3.7h0m2.6 -4.1h0m0.7 0.6h0m0.2 1.9h0m12.9 0h0m1.4 0.1h0m2 -0.2h0m1.5 0.3h0m11.4 3.2h0m11.9 -4h0m-119.4 9.6h0m11.9 -1h0m0.1 0.7h0m9.1 -3.1h0m0.2 -1.2h0m7.8 3.9h0m6 -3.4h0m0.2 3.3h0m1 -4.6h0m2.5 2.8h0m1.3 -1.4h0m7.8 -1.1h0m0.5 4.1h0m0.9 -2.1h0m2.2 -1.5h0m7.1 1.8h0m1.9 1.6h0m3.7 -3.3h0m6.5 -0.2h0m4.5 3.4h0m0.4 -3h0m2.1 2.4h0m13 -0.4h0m6.5 -1.5h0m0.5 -0.8h0m4.7 2.3h0m0.7 -1.2h0m25.6 0.6h0m-103.5 9.1h0m19.2 -4h0m13.2 -1.8h0m22.2 1.6h0m43.3 -0.5h0m-107.2 8.2h0m8.2 1.9h0m26.4 -3.6h0m2.4 3.8h0m37.9 -1.5h0m-113.8 3.2h0m77.6 2.3h0m34.1 -2.6h0m-30.8 5.3h0M1192 387h0" stroke="#000" stroke-width="4.8" stroke-linecap="round" fill="none"/>
<circle cx="1199.7" cy="273.3" r="6" fill="#2ee57a"/>
<g transform="translate(0,0)">
<line x1="810.4" y1="65.5" x2="810.4" y2="399.7" stroke="#3a3a3a" stroke-width="2"/>
<line x1="802.5" y1="77.5" x2="810.4" y2="77.5" stroke="#3a3a3a" stroke-width="1.8"/>
<text transform="translate(793.4,77.5) rotate(-90)" font-size="19" text-anchor="middle">6000</text>
<line x1="802.5" y1="127.4" x2="810.4" y2="127.4" stroke="#3a3a3a" stroke-width="1.8"/>
<text transform="translate(793.4,127.4) rotate(-90)" font-size="19" text-anchor="middle">4000</text>
<line x1="802.5" y1="177.2" x2="810.4" y2="177.2" stroke="#3a3a3a" stroke-width="1.8"/>
<text transform="translate(793.4,177.2) rotate(-90)" font-size="19" text-anchor="middle">2000</text>
<line x1="802.5" y1="227.1" x2="810.4" y2="227.1" stroke="#3a3a3a" stroke-width="1.8"/>
<text transform="translate(793.4,227.1) rotate(-90)" font-size="19" text-anchor="middle">0</text>
<line x1="802.5" y1="277.0" x2="810.4" y2="277.0" stroke="#3a3a3a" stroke-width="1.8"/>
<text transform="translate(793.4,277.0) rotate(-90)" font-size="19" text-anchor="middle">-2000</text>
<line x1="802.5" y1="326.8" x2="810.4" y2="326.8" stroke="#3a3a3a" stroke-width="1.8"/>
<text transform="translate(793.4,326.8) rotate(-90)" font-size="19" text-anchor="middle">-4000</text>
<line x1="802.5" y1="376.7" x2="810.4" y2="376.7" stroke="#3a3a3a" stroke-width="1.8"/>
<text transform="translate(793.4,376.7) rotate(-90)" font-size="19" text-anchor="middle">-6000</text>
<text transform="translate(771.6,232.7) rotate(-90)" font-size="19" text-anchor="middle">Cost Difference in Euro</text>
<line x1="809.4" y1="398.8" x2="1492" y2="398.8" stroke="#111" stroke-width="2.3"/>
<line x1="822.4" y1="398.8" x2="822.4" y2="406.3" stroke="#3a3a3a" stroke-width="1.8"/>
<text x="822.4" y="426.0" font-size="18" text-anchor="middle">-.4</text>
<line x1="904.6" y1="398.8" x2="904.6" y2="406.3" stroke="#3a3a3a" stroke-width="1.8"/>
<text x="904.6" y="426.0" font-size="18" text-anchor="middle">-.3</text>
<line x1="986.8" y1="398.8" x2="986.8" y2="406.3" stroke="#3a3a3a" stroke-width="1.8"/>
<text x="986.8" y="426.0" font-size="18" text-anchor="middle">-.2</text>
<line x1="1069.0" y1="398.8" x2="1069.0" y2="406.3" stroke="#3a3a3a" stroke-width="1.8"/>
<text x="1069.0" y="426.0" font-size="18" text-anchor="middle">-.1</text>
<line x1="1151.2" y1="398.8" x2="1151.2" y2="406.3" stroke="#3a3a3a" stroke-width="1.8"/>
<text x="1151.2" y="426.0" font-size="18" text-anchor="middle">0</text>
<line x1="1233.4" y1="398.8" x2="1233.4" y2="406.3" stroke="#3a3a3a" stroke-width="1.8"/>
<text x="1233.4" y="426.0" font-size="18" text-anchor="middle">.1</text>
<line x1="1315.6" y1="398.8" x2="1315.6" y2="406.3" stroke="#3a3a3a" stroke-width="1.8"/>
<text x="1315.6" y="426.0" font-size="18" text-anchor="middle">.2</text>
<line x1="1397.8" y1="398.8" x2="1397.8" y2="406.3" stroke="#3a3a3a" stroke-width="1.8"/>
<text x="1397.8" y="426.0" font-size="18" text-anchor="middle">.3</text>
<line x1="1480.0" y1="398.8" x2="1480.0" y2="406.3" stroke="#3a3a3a" stroke-width="1.8"/>
<text x="1480.0" y="426.0" font-size="18" text-anchor="middle">.4</text>
<text x="1150.7" y="447.3" font-size="19" text-anchor="middle">Risk Difference</text>
<rect x="973" y="463.6" width="355.8" height="35.8" fill="#fff" stroke="#3a3a3a" stroke-width="2"/>
<line x1="981" y1="480.9" x2="1055" y2="480.9" stroke="#e8101c" stroke-width="4.4" stroke-dasharray="10 5.5"/>
<text x="1066.0" y="489.5" font-size="19">95% CI</text>
<circle cx="1166" cy="482.1" r="6" fill="#2ee57a"/>
<text x="1188.0" y="489.5" font-size="19">Mean Average</text>
<text x="813.5" y="522.5" font-size="15">boundary constant = 5.9951</text>
<line x1="908.3" y1="175" x2="908.3" y2="78" stroke="#000" stroke-width="2"/>
<path d="M899.5 80 L908.3 63.8 L917 80 Z" fill="#000"/>
<line x1="920" y1="189.3" x2="1015" y2="189.3" stroke="#000" stroke-width="2"/>
<path d="M1013.8 181.5 L1030 189.3 L1013.8 197.3 Z" fill="#000"/>
<text x="820.7" y="58.7" font-size="22" textLength="343" lengthAdjust="spacingAndGlyphs" class="lt">Revascularization more expensive</text>
<text x="1045.7" y="203.0" font-size="22" textLength="244.5" lengthAdjust="spacingAndGlyphs" class="lt">Revascularization Better</text>
</g>
<g transform="translate(0,599)">
</g>
<text x="754.12" y="617.60" font-size="25" font-weight="bold" textLength="34.05" lengthAdjust="spacingAndGlyphs">B2</text>
<text x="921.55" y="626.50" font-size="26" textLength="458.94" lengthAdjust="spacingAndGlyphs">Major Adverse Cardiovascular Events</text>
<g transform="translate(0,599)">
<line x1="812" y1="127.4" x2="1492" y2="127.4" stroke="#e8e8e8" stroke-width="1.6"/>
<line x1="812" y1="177.2" x2="1492" y2="177.2" stroke="#e8e8e8" stroke-width="1.6"/>
<line x1="812" y1="277.0" x2="1492" y2="277.0" stroke="#e8e8e8" stroke-width="1.6"/>
<line x1="812" y1="326.8" x2="1492" y2="326.8" stroke="#e8e8e8" stroke-width="1.6"/>
<line x1="812" y1="376.7" x2="1492" y2="376.7" stroke="#e8e8e8" stroke-width="1.6"/>
</g>
<g transform="translate(0,599)">
<line x1="802.5" y1="227.1" x2="1492.5" y2="227.1" stroke="#222" stroke-width="2"/>
<line x1="1150.9" y1="65.5" x2="1150.9" y2="398.7" stroke="#222" stroke-width="2"/>
</g>
<ellipse cx="1289.2" cy="871.3" rx="111.9" ry="50.3" transform="rotate(-166.21 1289.2 871.3)" fill="none" stroke="#e8101c" stroke-width="4" stroke-dasharray="10 5.5"/>
<ellipse cx="1289.2" cy="871.3" rx="73.1" ry="32.9" transform="rotate(-166.21 1289.2 871.3)" fill="#000"/>
<path d="M1160.7 781.5h0m97.2 19h0m2.5 -3.5h0m-96.7 6.6h0m90.2 2.9h0m6.1 -2.4h0m38.5 2.3h0m-95.8 6.5h0m1 -0.4h0m3.3 -1.9h0m4.8 0.9h0m2.8 -1.6h0m1.2 0.5h0m7.7 -2.9h0m5.2 3.7h0m1.7 0.7h0m2.5 -0.4h0m8.6 -0.8h0m66.8 2h0m-136.7 5.2h0m9.5 -3.3h0m3.9 0.9h0m3.8 1h0m0.3 2.2h0m10.8 0.2h0m8.7 -1.7h0m1.7 0.8h0m1.8 -3.1h0m8.5 0.2h0m2.2 -0.9h0m0.8 -1.1h0m2.7 3.6h0m7 0.8h0m9.8 0.1h0m0.6 1.3h0m0.9 -3.3h0m0.9 -2.6h0m0.7 5.3h0m1.3 -4.8h0m8.1 5h0m4.9 -1.2h0m2.2 -0.4h0m0.7 1.6h0m3.1 0.4h0m0.7 -5.3h0m0.6 5.1h0m0.9 -0.7h0m2.1 -1.6h0m1.4 0.1h0m6.1 1.1h0m0.5 -3.2h0m0.4 4h0m1.3 -1.1h0m1 -3.7h0m11.2 3.4h0m4.2 1.4h0m30.5 -1.5h0m29.6 -1.9h0m-205.5 5.8h0m16.9 -0.2h0m7.6 1.9h0m1 -0.4h0m24.5 1.4h0m0.7 -0.8h0m0.6 -1.2h0m2.9 -1.9h0m2 0h0m0.9 2.3h0m3.4 2.8h0m0.1 -4.4h0m7.9 1.9h0m5.4 -0.4h0m0.4 0h0m0.6 1h0m1.1 0.1h0m2.2 2h0m1.1 -0.8h0m0.7 -0.2h0m0.4 -0.3h0m0.5 -3.1h0m1.2 -0.4h0m0.4 3.2h0m0.6 -1.4h0m2.2 1.1h0m0.6 -1.9h0m1.2 1.7h0m1.5 -2.7h0m1.3 3.9h0m5.6 0.6h0m3.6 -4.4h0m2.7 -0.7h0m1.4 4.3h0m0.2 -2.5h0m1.6 1.3h0m1 -3.1h0m1.7 1.8h0m0.4 -1.4h0m3.2 -0.7h0m0 3.9h0m11.7 -2.7h0m4.5 3.6h0m0.1 -2.3h0m1.3 0.4h0m0.1 2.9h0m0.8 -2.1h0m2 1.1h0m2.9 -0.7h0m2.9 0.8h0m4.3 0.2h0m1.8 -0.7h0m0.3 -3.3h0m0.4 4h0m0.1 -0.3h0m1.7 0.2h0m38.8 -3h0m2.8 3.4h0m-179.5 4.3h0m2.8 -2.3h0m18.8 0.3h0m2.3 1.9h0m8.8 1.5h0m0.5 -0.7h0m10.1 -3.2h0m0.7 1.2h0m0.9 2h0m0.5 -3.3h0m0.8 3.6h0m1.4 -2.8h0m1.2 -0.3h0m3.2 -1.4h0m1.1 3.3h0m1 -2h0m1.9 1.7h0m5.2 -3.1h0m3.4 -0.1h0m0.4 5.2h0m0.3 0.1h0m0.4 0.3h0m0.7 -1.6h0m1.1 1.2h0m0.5 -3.9h0m2.7 0.7h0m0 0.5h0m4.9 -1.8h0m0.9 4.1h0m0.1 0.9h0m5.1 -2.2h0m0.6 1.7h0m0.5 0.2h0m0.1 -2.3h0m0.6 -1.8h0m0.4 1.5h0m2.3 2.1h0m0.7 -0.5h0m1.1 -1.5h0m0 -2.6h0m0.4 -0.3h0m0.3 1.8h0m1 0.9h0m0.5 -1.5h0m0.7 0.3h0m2.4 1.8h0m2.1 1.7h0m2.6 -2.4h0m1.5 2.7h0m0.3 -0.1h0m0.3 -3.8h0m1.3 4.3h0m1.4 -2.4h0m1 -2.4h0m3.8 0.9h0m0.1 0.5h0m0.4 -1.8h0m1 4.7h0m0 -2.8h0m0.4 1.9h0m0.7 0.4h0m0 -4.3h0m0.2 0.8h0m2.9 0.2h0m0.1 -0.8h0m1.2 4.3h0m0.9 -0.6h0m0 -1.9h0m1.4 1h0m1.5 -1.1h0m1.6 -1.4h0m3.8 4.5h0m0.8 -0.2h0m1.6 -0.9h0m7.7 -1.1h0m0.6 1h0m1.3 -1.3h0m2.2 -1.6h0m6.8 3.5h0m0.5 -1.3h0m1.5 0.8h0m5.4 -1.9h0m0.1 2h0m3.8 0.7h0m1.7 0.5h0m2.4 -0.2h0m4.6 -0.7h0m8.7 0.8h0m33.5 -3.7h0m-210.9 7.8h0m25.2 -3.1h0m2.4 5h0m9.2 -2.5h0m0.9 -2.5h0m3.2 2.3h0m3.5 -0.7h0m2.2 -0.8h0m0.4 1h0m0.2 -1.3h0m0.7 -0.1h0m0.4 2.7h0m0.9 2h0m0.9 0h0m0.7 -0.7h0m0.2 -3.6h0m0.5 -1.5h0m0.2 3.4h0m2.2 -2.5h0m1.4 0.7h0m0.2 1h0m0.3 1.4h0m0.5 0.1h0m3.6 -0.1h0m0.5 1.8h0m0.1 -4.9h0m0.7 4.7h0m0.4 -4.4h0m0.1 4.6h0m1 -3.1h0m0.1 -1h0m4.5 -0.1h0m0.9 2.3h0m0.8 -1.1h0m2.1 -2.6h0m0.4 1.4h0m1.1 -0.9h0m0 4.9h0m0.9 -3.8h0m0.7 0h0m0.6 4.1h0m2.5 -4.3h0m0.1 3.4h0m0.3 -2.5h0m0.3 1.3h0m0.4 -2.9h0m0.2 2h0m0.3 1.3h0m0.7 -2.1h0m0.7 3.7h0m0.7 -2.7h0m0.5 1.5h0m0 -1.7h0m0.7 1h0m0.1 1.4h0m4.4 -2.6h0m0.7 2.8h0m1.5 -1.1h0m0.3 1.1h0m0.2 -1.2h0m1.3 -4.1h0m1.7 3.9h0m0.2 -1.2h0m0 3h0m1.1 -4h0m1.3 -0.2h0m0.1 2h0m0.5 -1.6h0m0.2 1.1h0m0.8 1.7h0m0.3 0.2h0m0.6 -0.8h0m0.2 -1.3h0m0.2 -0.2h0m1.2 -1.7h0m0.3 1.2h0m0.9 2.1h0m0.6 -1.8h0m0.4 -1.3h0m0.6 4.6h0m0.4 -3.8h0m1.9 1.5h0m0.7 -3.3h0m0.2 0.3h0m1.1 1.8h0m0.3 -0.3h0m0.5 2.7h0m0.4 -1.1h0m0.4 -1.3h0m0.7 0.5h0m0.5 2.3h0m0.1 -1.1h0m0 -0.3h0m0.5 -3.6h0m0.1 4.8h0m0.5 -0.1h0m1 -1.8h0m0.4 -1.1h0m1.1 -1.2h0m0 2.5h0m0.6 2.1h0m0.5 -1.9h0m0.6 0.2h0m0.1 -1.9h0m0.3 1.9h0m0.9 0.2h0m0.1 -2.9h0m0.8 1.9h0m0.8 2.7h0m0.5 -4.7h0m0.2 3.2h0m0.2 -1.8h0m0.7 1.2h0m0.1 1.4h0m0.4 -1.3h0m0.6 -3.6h0m1.9 1.9h0m0.1 0.8h0m0.8 2.8h0m0 -5.1h0m0.1 0.8h0m0.8 4.8h0m0.1 -0.8h0m1.3 -3.9h0m0.1 0.9h0m0.5 -1.9h0m0.6 4.5h0m1.6 -0.6h0m0.7 0h0m0.8 0.6h0m0.9 -3.4h0m0.3 -1.4h0m0 5h0m0.1 0.7h0m1.6 -4.8h0m1.5 3.7h0m0.7 -4.6h0m0.9 4h0m0.6 1.9h0m0.7 -2h0m0.1 1.5h0m4.6 -0.9h0m0.1 -4.2h0m1.3 4.1h0m0 0.3h0m3.4 -0.9h0m1.2 0.5h0m0.2 0.1h0m0.2 1.2h0m0.4 -1.3h0m0.8 -2.3h0m0.5 1.2h0m1.3 2.2h0m0.6 -3.5h0m1 2h0m5.8 0.5h0m0.1 -4.3h0m0.7 2.4h0m0.4 0.2h0m1.8 -1.7h0m0.4 2.3h0m1.6 -2.8h0m0.4 1.6h0m0.4 2.1h0m8.8 -2.8h0m1 2.2h0m0.9 2.2h0m5.4 -4.1h0m0.7 4.1h0m0.2 -4.5h0m2.5 -0.4h0m2.9 -0.2h0m0.9 4.9h0m9 -3.1h0m-196.6 5.3h0m12.8 -0.1h0m2.8 -0.8h0m10.7 4.8h0m1.9 -4.1h0m4.8 3.4h0m1.6 -3.3h0m1.9 -0.4h0m0.9 -0.9h0m3.4 2.6h0m2.8 2.5h0m3.5 -4.1h0m2.1 4.1h0m2.8 -1h0m1.8 -0.6h0m0.4 1.4h0m0.4 0.1h0m0.4 -1.1h0m1.2 -3.5h0m0.1 0.7h0m1.1 0.1h0m0.7 4.3h0m0.4 -0.7h0m1.3 -4h0m1.4 -0.7h0m0.4 2.1h0m1.1 0h0m0.1 3.2h0m0.4 -5.4h0m0.9 5.2h0m0.7 -4.4h0m0.1 -1.1h0m0.2 3.6h0m0.8 2.1h0m0 -4.3h0m0.1 1.2h0m4.1 3.2h0m0 -4.1h0m0.3 -1.6h0m0.5 4.1h0m0.4 -4.2h0m0.3 4.4h0m0.3 0.4h0m0.6 -2.7h0m0.1 3.4h0m0.2 -2h0m1.4 -2.3h0m0.6 0.6h0m0.3 -0.5h0m0.5 2.6h0m0.6 -4h0m0.3 3.2h0m0.4 1.1h0m0.8 -0.6h0m0.5 -1.2h0m1 -1.8h0m0.9 0.2h0m0.3 1.9h0m0.1 1.9h0m0 -0.3h0m0.1 -0.9h0m0 -3.1h0m0.1 3.8h0m0.1 -2.3h0m1.2 2.6h0m0.1 0.4h0m0.5 -4.4h0m0.2 1.8h0m0.1 1.9h0m0 0.2h0m0.2 1.1h0m2.7 -0.2h0m0.3 -5.1h0m1 3.6h0m0.8 0.1h0m0.5 -0.9h0m0.4 0.3h0m0.1 1.2h0m0.2 -4.1h0m0.3 -0.3h0m0 2h0m2.2 2.4h0m0.2 -4.4h0m0.3 2.3h0m0 0.9h0m0.7 -1.8h0m1.2 3.1h0m1.7 -0.6h0m0.2 -3.2h0m2.4 0.5h0m1 0.1h0m0.3 -0.7h0m0.2 -0.5h0m0.6 1.8h0m0.9 -1h0m1.4 -0.9h0m0.9 1.1h0m0.2 -0.8h0m0.2 2h0m0.4 -1.8h0m0.6 -0.5h0m1.2 3.1h0m0.5 -2.3h0m0.1 1.4h0m0.3 -0.3h0m0.4 1.5h0m0.8 -3.4h0m0.1 3.5h0m0 -1.3h0m0.9 -1.8h0m0.3 1.6h0m0.6 -1.7h0m1.5 0.2h0m0.2 2.9h0m0.2 -1.3h0m1 -0.4h0m0.1 0h0m0.2 0.4h0m0.5 1h0m0.1 -1.1h0m1.4 -2h0m0.5 3.1h0m0.4 -0.5h0m0.1 0.3h0m0.1 -1.8h0m0.7 0.2h0m0.1 -0.5h0m0.5 2h0m1.6 -0.5h0m0 -0.8h0m0.7 1.1h0m0.7 -0.4h0m0.4 -0.2h0m0.1 -0.2h0m1 -1.3h0m0.2 3.5h0m0.6 -0.1h0m0.1 -1.5h0m0.6 -2.4h0m0.3 3.2h0m0.1 1h0m0.1 -3.1h0m0.2 0.2h0m1 0.2h0m0.1 -0.1h0m0.6 2.6h0m1.6 -2.4h0m0 -1.6h0m0.8 4.4h0m0.4 -0.1h0m0.1 -1.2h0m0.1 0.4h0m0.3 1.1h0m0.2 -3.5h0m0.4 3.3h0m0.1 -3.7h0m0.3 3.1h0m0.2 -2.9h0m0.2 2.5h0m0.1 1.5h0m1 0.2h0m0.6 -4.4h0m0.1 4.5h0m0.5 -2.8h0m0.1 -0.1h0m0.4 -2.3h0m0.3 0.8h0m0.2 4.5h0m0 -0.3h0m2.5 -0.7h0m0.1 1.2h0m2.6 -3.5h0m1.2 -1.8h0m0.8 4.8h0m0.8 -1.4h0m1.7 -0.9h0m0.8 2.6h0m1.2 0.3h0m0.4 -1.9h0m0.3 -2.3h0m0.2 4.4h0m0.4 -1.9h0m1.6 -0.5h0m0.2 -1.5h0m0.1 -1.3h0m0.2 4.9h0m0.1 -4.2h0m0.5 1.5h0m0.3 0.4h0m0.5 2.1h0m0.6 -2h0m0.7 -0.7h0m0 -1.2h0m1.2 2.6h0m0.1 -0.6h0m0.8 -1.8h0m0.2 0.5h0m0.8 3.7h0m0.4 -0.6h0m0.6 -4.2h0m0 -0.1h0m0.9 1.7h0m0.7 -1.1h0m0.9 3.6h0m0.3 0.3h0m0.1 -2.1h0m0.4 -0.8h0m1.2 1.3h0m1.4 -0.2h0m1.1 -2.1h0m0.4 -1.3h0m0.5 4.5h0m0.2 1h0m0.8 -4.7h0m1.3 2.7h0m0.1 0.8h0m0.2 -3h0m2.3 3.9h0m1.4 -4.9h0m0.5 2.1h0m2.7 -0.4h0m1.1 -1.8h0m0.8 5.1h0m0.3 -4.6h0m0.1 3.5h0m0.9 -3.9h0m0.4 3.6h0m0.7 -2.3h0m2.1 3.5h0m0.2 -1.9h0m0.3 -0.6h0m0.7 0.4h0m2.9 -0.8h0m2.9 -0.5h0m16.6 -0.4h0m6.9 -0.2h0m-207.2 10.2h0m10.9 -5.6h0m5.1 2.8h0m5.7 -1.4h0m0.2 0.9h0m3 -0.9h0m2.2 1h0m0 2.1h0m3.9 1.2h0m1.3 -3.5h0m3.3 0.9h0m4.3 1.3h0m1.6 -0.6h0m2.7 -3.7h0m0 0.7h0m0 3.3h0m0.4 -1.8h0m0.5 1.7h0m0.5 -1.2h0m0.7 -0.7h0m0.3 -1.3h0m0.6 3.6h0m0.2 -1.2h0m0.4 1.2h0m2.9 0.4h0m0.1 1.1h0m0.2 -3.3h0m3 1.2h0m0.2 -1.8h0m1 -1.8h0m0.5 5.4h0m0.1 -1.6h0m0.3 -2.4h0m0.7 0.1h0m0.9 -1.1h0m0 0.8h0m0.1 4h0m0.7 -4.2h0m0.1 1.4h0m0.1 0.3h0m0.3 -2.3h0m0.3 5.3h0m0 -4.3h0m0.6 4.2h0m1.3 -3.2h0m0.4 1.2h0m0.2 0.7h0m2.1 -0.2h0m1.3 -2.4h0m1.5 1.9h0m0.9 -0.6h0m1.1 1.1h0m0 -2.4h0m1.3 2.3h0m0.7 -0.4h0m0.6 0.8h0m0.2 -4.5h0m0.1 2.8h0m0.2 1.1h0m0.6 -0.2h0m1 1.2h0m0.2 0.6h0m0.3 -0.5h0m0 -0.9h0m0.1 -3.8h0m0.1 4.7h0m0.6 -3.4h0m0.1 4h0m0.1 -1.8h0m0.3 -0.2h0m0.2 -0.6h0m0.2 0.9h0m0.4 0.9h0m0.5 -1.5h0m0.6 -0.6h0m0.2 1.3h0m0.9 -2.9h0m2.1 -0.3h0m0 1.3h0m0.5 -2h0m0.1 1h0m0.7 -0.6h0m0.6 -0.2h0m4.3 -0.1h0m51 -0.3h0m0.7 0.7h0m0.3 0.8h0m3.1 -1.5h0m0.1 0.7h0m3.5 0.6h0m3 2.1h0m1.6 1.4h0m0.5 -2.7h0m1.4 1.8h0m0.6 1.3h0m0.9 -2.1h0m0.2 2.4h0m0.1 -3.6h0m0 0.9h0m1.6 -1.7h0m0.9 0.1h0m0.2 4.3h0m0.7 0h0m0.1 -5h0m0.5 0.1h0m0.1 -0.2h0m0.2 1.3h0m0.5 4.2h0m0.6 -2.7h0m1 -2.4h0m0.1 1.6h0m0.1 1.2h0m0.9 -0.5h0m0.4 1.2h0m0.4 -2.6h0m0.3 2.6h0m0.7 -4.2h0m0.4 3.6h0m0.4 1h0m0.5 1h0m0 -5.2h0m0.9 4.7h0m1.2 -0.2h0m0 -4.9h0m1.2 1.5h0m1.5 -0.4h0m0.6 2.7h0m0.3 -1.8h0m0.1 -1.4h0m1.5 4.9h0m2 -1h0m0 -1h0m2.2 2.1h0m0.7 -3.4h0m0.6 -2.2h0m1.1 3.4h0m1.6 -0.5h0m0.2 0.7h0m2.5 -1.8h0m0.7 2.6h0m2.1 -1.6h0m1.3 -2.7h0m2.3 2.6h0m0.2 1h0m0.4 -3.2h0m0.3 3.6h0m4.5 -2h0m0.3 1.2h0m0.5 -2.1h0m7.2 1.1h0m14.1 -1.2h0m9.6 4.7h0m0.5 -0.3h0m5.3 -5.6h0m-237.4 6.7h0m8.4 0.2h0m6.9 4.4h0m0.3 -0.1h0m4 -3.6h0m6.3 2.8h0m0.1 -2.9h0m0.2 -0.3h0m2.8 2.5h0m1.9 -2.9h0m0.1 5.2h0m1.5 -2.1h0m1.7 0.9h0m1.6 -4.3h0m0.4 3.2h0m3.8 -0.4h0m0.8 2.4h0m0 -0.8h0m2.2 -4.5h0m1.2 1.1h0m0.4 0.4h0m0.6 -1.7h0m1.4 2.3h0m0.8 1h0m1.1 -0.2h0m0.2 1h0m0.5 -3.9h0m1.5 2.4h0m0.5 -2.8h0m1.6 3.2h0m0.2 1.8h0m0.6 -3h0m3.5 0.3h0m0.2 1.4h0m0.6 -3.5h0m1.1 3.8h0m0.1 -2.5h0m0.5 -0.4h0m0.5 4.3h0m0.2 -3.1h0m1.4 1.2h0m0.3 -0.8h0m0.6 -2.3h0m0.8 3.4h0m0.3 -1.3h0m0.3 2.3h0m0 -4.4h0m0.4 5.4h0m0.5 -3.1h0m0.1 2h0m0.3 -1.7h0m0.3 2.3h0m0.1 -2.3h0m0.3 0.2h0m0.1 0.7h0m0.5 0.5h0m0.2 -0.9h0m0.7 2.3h0m0.3 -3.9h0m1.9 1.8h0m0.1 1.5h0m0.5 -3.4h0m0 4.1h0m1.6 -3.1h0m1.7 -2h0m0.9 2h0m0.3 -0.6h0m0.1 1.9h0m0.3 -2.1h0m0.4 -0.2h0m0.1 -1h0m0.4 4.7h0m0 -0.2h0m0.6 -2.1h0m0.1 1.7h0m0.7 -1.9h0m0.6 0.2h0m0 -1h0m1.2 -1.1h0m0.2 -0.2h0m1 -0.7h0m80.6 -0.1h0m4.7 0.1h0m0.8 3.3h0m0.3 -2.1h0m0.2 -0.3h0m1.5 -1.1h0m0.1 1.3h0m0.8 1.4h0m0 0.4h0m0.1 1.1h0m0.7 -3.4h0m0 1.9h0m2.2 2.7h0m0.1 -1.5h0m0.5 -1.5h0m0.8 3.5h0m0 -4h0m0.5 2.4h0m0.9 -1.1h0m0.1 -0.4h0m0 -0.9h0m0.6 -1.9h0m0.4 4.4h0m2.2 0.8h0m1.1 0.5h0m0.5 -3.7h0m0.3 3.2h0m0.3 -4.3h0m0.1 2.9h0m1.2 -0.7h0m0.2 -1.7h0m0.4 -0.6h0m0.1 -0.7h0m1.8 5.6h0m0.5 -4.6h0m1.4 -0.3h0m0.2 1.7h0m0.5 2.6h0m0.5 -5.1h0m0.4 2.2h0m1.9 -1.5h0m1.6 4.1h0m1.6 -2.4h0m0.1 -2.3h0m0.2 5.4h0m1.2 -5.3h0m0.8 2.5h0m0.3 0.1h0m0 2.1h0m0.3 -0.7h0m0.4 -0.7h0m0 1h0m2.7 -0.6h0m2.8 2.1h0m3 -0.6h0m2.6 -0.3h0m1.1 -1.7h0m0.7 1.7h0m2.2 -4.7h0m3.8 0.4h0m0.4 2.8h0m1.2 0.3h0m1.2 -2.1h0m7.4 0.1h0m2.4 3.7h0m16.3 -2.6h0m12 -1.8h0m-267.2 9.5h0m21.1 -3.6h0m2 -0.6h0m7.5 1.9h0m1.2 3.3h0m6.6 -4.7h0m1.9 3.3h0m0.5 -0.1h0m3.3 -1.3h0m1 -1.7h0m1.3 0.7h0m0.4 2.2h0m1.4 -3.9h0m3.3 2.2h0m4.8 -1.9h0m0.3 3.1h0m0.3 -1.3h0m1.3 -0.8h0m0.8 0.6h0m0 -0.3h0m1 -1.4h0m0.2 2.5h0m0.7 -1.3h0m2.7 3.8h0m0.1 -0.8h0m3.8 -4.5h0m0.2 5.2h0m0.2 0.1h0m2 -0.9h0m0.1 -3.4h0m0.4 4.7h0m0 -3.1h0m0.6 -0.9h0m0.1 2.7h0m0.3 1.3h0m0.9 -2.5h0m1.1 -2.9h0m0.2 4h0m0.3 -1.2h0m0 1.1h0m0.2 -2.8h0m1.5 2.3h0m0.3 1h0m0.4 -3.9h0m0.1 0.5h0m0.2 -0.8h0m0.4 2.8h0m0.2 0.1h0m0.8 -0.4h0m2.3 2.1h0m0.3 -1.7h0m0.3 1.1h0m0.2 -3.2h0m0.4 1.4h0m0.1 -2.8h0m0 5.9h0m0.1 -4.2h0m0.4 -0.5h0m0.5 4.2h0m0.1 -3.5h0m0.9 1.1h0m0.6 2.2h0m0 -4.6h0m0.2 4.5h0m0.3 -2.1h0m0.1 0.8h0m0.3 -3.1h0m0.1 -0.2h0m0.1 0.1h0m0.3 4.7h0m0 0.4h0m97.4 -5.6h0m0.7 0h0m0.3 0.1h0m1.8 1.2h0m2.7 1.9h0m0.9 -2.9h0m0.9 4.2h0m0.6 -2.1h0m0.2 -2.2h0m1.2 -0.3h0m0.6 2.6h0m0.9 1.6h0m0.1 -1.5h0m0.7 0.4h0m0.1 0.1h0m0.4 -2.1h0m0.9 1.7h0m0.1 2.1h0m0.3 -2.4h0m0.2 -2.5h0m0.3 5.1h0m0.8 -1.8h0m0.3 -2h0m0 0.2h0m1.9 -0.7h0m0.3 2h0m0.2 0.5h0m0.7 -1.2h0m0.7 1.7h0m0.1 -2.9h0m0.7 4.5h0m0.1 0.6h0m0.2 -4.1h0m0.2 4.1h0m0.3 -3.2h0m1.2 -0.3h0m1.3 2.9h0m0.5 0.1h0m0 0.3h0m0.1 -2.5h0m0.1 -2.4h0m0.4 1.6h0m0.1 1.8h0m0.5 -2.8h0m0 -0.5h0m0.1 4.1h0m0.2 -4.4h0m0.6 1.6h0m0.3 2.2h0m0.6 -2h0m0.1 2.6h0m0.4 -3.2h0m0.6 1.9h0m0.1 -0.9h0m1.4 2.8h0m0.7 -1.1h0m0.8 -3.4h0m0.1 1.6h0m1 1.7h0m6.2 -3.7h0m0.2 3.9h0m3.4 -0.6h0m3.5 -2.4h0m2.5 3.1h0m1.4 -0.3h0m0.6 -2.6h0m0.8 -1h0m0.1 2h0m0.1 3.1h0m0.2 -4.9h0m1.5 2.3h0m5.6 -1.5h0m0.1 3.7h0m3.5 -4.6h0m4.9 1.6h0m-223.3 6h0m1 0.7h0m6 -2h0m5.4 3.8h0m0.2 -0.1h0m0.5 -2.5h0m1.3 2.9h0m0.4 -1h0m3.8 -3.9h0m0.1 2.5h0m1.4 -2.3h0m0.5 3.3h0m0.1 1.7h0m4.1 -4.3h0m0.6 2h0m1.1 1.3h0m2.3 -1.9h0m0.5 0.5h0m4.5 -0.2h0m0.1 -2h0m0.9 0.4h0m2.4 2.7h0m0.4 1.6h0m1.9 -2.8h0m0.3 1.5h0m0.4 -0.9h0m0.1 -0.4h0m1.6 -1.6h0m0.4 0.5h0m0.2 1.4h0m1.7 -0.5h0m1.2 2.3h0m0.8 -3.8h0m0.2 -0.2h0m0.3 0.1h0m0.2 -0.1h0m0.5 1.1h0m1.1 0.5h0m0.1 -0.7h0m0.3 -1.5h0m0.6 0.5h0m0.2 -1.1h0m0.3 5.8h0m0 -2.5h0m0.1 -0.2h0m0.3 -0.4h0m0.1 -2.3h0m0.6 -0.2h0m0.5 2.6h0m0.3 -2.2h0m1.5 1.9h0m0.1 -0.2h0m1.5 -1.6h0m0 0.9h0m0.2 -1.4h0m0.1 2.7h0m0.1 0.2h0m1.2 -1.2h0m0.2 -1.7h0m0.1 4.7h0m0.1 -2.4h0m0.1 3.3h0m0.2 -5.1h0m0.2 4.4h0m0.2 -0.2h0m0.3 -4.2h0m0.1 3.3h0m1 0h0m0.3 -0.1h0m0.3 -4h0m0.5 4.3h0m0.1 -0.5h0m0.7 0.5h0m0.2 0.2h0m0.2 -0.1h0m0.4 0.1h0m104.8 -4.4h0m1 0.5h0m0.1 0.6h0m2 0.8h0m0.8 -1.6h0m0.7 -0.1h0m0.1 1.6h0m0.2 0.6h0m1.3 -1.5h0m0.6 1.5h0m0.1 1.4h0m0.4 -2.2h0m0.1 -1.5h0m1.2 1.5h0m0.2 0.2h0m0.1 -1.5h0m0.4 4.9h0m0.1 -0.1h0m0.4 -2.6h0m0.5 2.5h0m0.1 0.2h0m0.1 -5h0m0.4 1.5h0m0.8 1.3h0m0.2 -1.9h0m0.1 2h0m0.1 1.6h0m0.1 -4h0m0.5 2.4h0m0.8 1.5h0m0.2 -2.8h0m0.7 3.8h0m1.2 -1h0m0.3 -0.2h0m0 0.8h0m1.3 -0.8h0m0.1 -0.7h0m0.1 2.1h0m1.4 -4.2h0m0 -1.5h0m0.6 5.2h0m0.2 -0.5h0m0.4 -4.1h0m0.4 5.1h0m0.3 -3h0m1.4 0.8h0m0.3 1.8h0m0.1 -3.4h0m0.7 2.2h0m0.1 -2.8h0m1.9 1.1h0m1.1 0.4h0m0.6 -0.1h0m4.6 -1.5h0m0.9 1.8h0m2.3 -2.5h0m1.1 0.5h0m0.1 -0.4h0m1 4.8h0m1.2 -1.1h0m0.1 -2.3h0m1.5 3.7h0m0.1 -2.2h0m0.2 -1.9h0m2.3 2.9h0m0.5 1h0m4 -4.7h0m10.2 3.1h0m2.6 0.2h0m0.6 -0.5h0m6.4 1.8h0m-256.7 1.7h0m31.7 1.3h0m6.2 -0.7h0m1 3.3h0m4.5 -4.1h0m4.2 0.8h0m1.7 -0.2h0m1.7 3.2h0m1.8 0.3h0m0.4 -4.4h0m2.9 -0.6h0m2 2h0m0.6 2.7h0m0.5 0.5h0m0.3 0.1h0m1.1 -3.9h0m1 1.8h0m2.5 -2.3h0m0.3 0.5h0m0.7 3.3h0m0.1 0.4h0m0.8 -1.3h0m0.1 -2.5h0m0.6 3.2h0m0.2 -1.4h0m0.4 -3.2h0m1.5 4.6h0m0.1 -0.6h0m1.6 -1h0m1 -0.6h0m0.5 -0.7h0m0.1 1.9h0m0.5 0.2h0m1.3 -2.2h0m0.5 1h0m0.4 2h0m1.2 -0.5h0m0.7 -3.8h0m0 0.1h0m0.7 3.1h0m0.3 -0.6h0m1.4 -1.4h0m1.5 3.7h0m0.2 -4.6h0m1.5 0.6h0m1.2 -0.9h0m0.5 2.8h0m0.6 2.5h0m0.1 -3.7h0m0.3 -0.6h0m0.5 1.9h0m0 1.1h0m0.1 -0.6h0m0.2 0.8h0m0.5 -1.8h0m0.1 -1.6h0m0.1 0.6h0m0 -0.8h0m0.1 0.3h0m112.2 0.3h0m0 -0.5h0m1.8 1.1h0m0.7 -1.4h0m1.4 4.7h0m0.4 -3.4h0m2.5 -0.4h0m0.2 -0.5h0m0.3 4.2h0m0.4 -2.3h0m0.4 -2.6h0m0.4 3.5h0m0.2 -3.3h0m0.9 1.9h0m0.3 1.7h0m0.8 1.7h0m2.3 -0.1h0m0 -3.7h0m0.6 -0.8h0m0.2 4.3h0m0.3 -4.1h0m0.5 3.4h0m1.6 -4.8h0m0.7 0.3h0m1.5 3.2h0m4.5 -2.8h0m0 2.6h0m0 -2.4h0m0.2 2.2h0m1 2.5h0m1.4 -2.1h0m4 -1.7h0m11.9 -0.3h0m1.5 -1.1h0m6 3.3h0m14 -0.6h0m2.2 -0.3h0m5.9 -3h0m-267.4 6.3h0m34.1 3.1h0m3.4 -2.6h0m1 -0.5h0m0.9 1.9h0m1.4 3.2h0m6 0.4h0m3 -4.4h0m2.3 -0.4h0m1.3 0h0m4 3.8h0m0.2 -3.2h0m1 4.3h0m1.2 -1.9h0m0.8 0.4h0m0.8 -1.9h0m0.5 -0.6h0m1 -0.9h0m3.7 4.1h0m3.2 -4.1h0m0.1 1.7h0m0.8 1.5h0m0.3 0.1h0m2.4 -0.6h0m0.4 -2.2h0m0.7 0.5h0m0.3 1.6h0m0.7 -1.9h0m0.2 -0.8h0m1.4 0.6h0m0.1 2.1h0m0.9 -2.4h0m0.8 3.5h0m0.4 0.2h0m0 0.6h0m1.4 -1.4h0m0.4 -2.5h0m0.5 0.9h0m0.2 2.4h0m0.5 -3.2h0m0.4 -1.1h0m0.8 4.9h0m0.2 -0.1h0m1.3 0.6h0m1.7 -5.3h0m0.2 -0.2h0m0.1 -0.3h0m0.5 0.8h0m0.4 4.2h0m1.7 -1.5h0m0.1 1.5h0m0.9 -1.6h0m109.1 -2.8h0m0.9 0.7h0m0.9 1.4h0m0.9 1.7h0m0.3 -1.7h0m0 2.6h0m0.2 -1.6h0m0.7 -1.2h0m0.1 -0.6h0m0 -0.5h0m0.4 -0.9h0m0.8 1.9h0m0.1 -1.1h0m0.2 1.5h0m0.3 2.6h0m0.7 -4.5h0m0.6 3.8h0m1.9 -1.4h0m0.2 0.8h0m0.2 -1.7h0m0.1 1.2h0m0.2 2.1h0m0.6 -1.2h0m0.1 -2h0m0.4 -1.2h0m0.8 0.5h0m2.8 0.4h0m0.7 -2h0m1.1 -0.2h0m0.4 2.4h0m1.2 3h0m0.1 -2h0m0 2.1h0m0.5 -3.7h0m0.9 -0.3h0m0.2 1.9h0m0.8 -0.8h0m1.2 -2h0m3.4 4.5h0m0.6 -2.4h0m0.5 -2.1h0m1.8 1.7h0m1.3 -2.1h0m0 4.6h0m1.3 0.4h0m1.3 -0.2h0m0.1 -2.2h0m1.1 -2.8h0m0.5 3.1h0m2.4 1.2h0m2 -0.8h0m0.3 0.3h0m0.3 1.2h0m0.2 -0.5h0m0.6 0.3h0m0.5 -2.1h0m1.5 2.3h0m1.7 -3h0m1.6 1.1h0m5 -1.9h0m0.5 0.8h0m4.3 3.5h0m6.9 -3.6h0m-238.1 5.1h0m24.5 3.3h0m2.2 0.3h0m1.6 -3.9h0m0.3 1.3h0m0.9 1.1h0m3 1.4h0m6.1 -1.2h0m1.4 -2.9h0m0.6 4.4h0m0.6 -0.2h0m1.5 -2.2h0m0.2 0.5h0m3.1 -1.6h0m4.3 2.8h0m2.7 -1h0m0 -1.6h0m1.7 3.4h0m1.6 -4.1h0m0.2 3.6h0m0.4 0.8h0m0.3 -2.1h0m0.1 -3h0m1 0.1h0m0.4 0h0m0.4 2h0m0 3.6h0m0.7 -1.7h0m0.5 -1.1h0m0.6 -2.8h0m0.1 1.2h0m1.2 -0.2h0m0.3 -0.2h0m0.4 4.1h0m4.5 -1.5h0m1.6 -2.6h0m0.1 -0.2h0m0.2 -0.9h0m0.1 3.5h0m0.4 -2.4h0m0.3 0.3h0m0.9 0.1h0m0.6 3.5h0m0.4 -0.5h0m0.2 -3.7h0m0.2 0.4h0m0 0.1h0m0.3 3.6h0m0.9 -2.3h0m0.1 2.3h0m2.1 -0.6h0m0.2 -0.4h0m1.4 0.7h0m0.2 0.2h0m102.9 -4h0m0 4.2h0m0.7 -1.6h0m1.1 -1.8h0m0.7 -0.2h0m1 3.5h0m0 -3.5h0m0 4.4h0m1.2 -3.4h0m0.1 -0.6h0m0.3 2h0m0.2 1.3h0m0.2 0.1h0m0.1 0h0m0.5 -2.8h0m0.3 2.7h0m0.6 -1.8h0m0.3 1.8h0m1.9 0.1h0m1 0.7h0m0.4 -1.8h0m0.4 -3.1h0m0.1 3.7h0m0.2 -1h0m0.1 0.7h0m0.6 -2.9h0m0.2 -1.2h0m0.2 3.4h0m0.5 1.7h0m0.3 -5h0m0.3 0.7h0m0.5 -0.4h0m0.2 3.8h0m1.4 -3.7h0m0.3 1.9h0m0.2 -0.2h0m1.8 2.3h0m1.3 -0.3h0m0.2 0.6h0m0.1 -0.7h0m0 -0.2h0m0.4 -3.4h0m0.3 3.8h0m1.3 -0.7h0m0 1h0m1.3 -3.8h0m1.3 3.2h0m1 0.8h0m0.8 -1.9h0m0.2 -3.3h0m0.8 3h0m0.3 -2.5h0m3.2 4.5h0m0.1 0.3h0m0.4 -5.1h0m1.6 5.1h0m1.3 0.5h0m0.4 -3.3h0m0.4 1.1h0m2.4 -3h0m0.3 1.6h0m0.2 3.8h0m1.5 -0.8h0m4.7 0.5h0m2.1 -0.5h0m0.3 -1.5h0m1.2 -3.1h0m0.7 5.1h0m9 -1.6h0m0.1 -3.5h0m8.3 0h0m1.2 1.6h0m-225.1 5.2h0m1 2.6h0m0.2 -1h0m18.8 0.8h0m4.2 -0.7h0m0.4 -0.3h0m1.6 1.4h0m1 -1h0m2.2 -0.2h0m3.4 1h0m3.2 -2.3h0m1.3 3.3h0m1.1 -4.6h0m0.1 5.5h0m0.9 -5.5h0m0.4 4.8h0m0.8 -0.9h0m0.1 -0.2h0m0.1 -2.2h0m1 0.5h0m1.1 -2.2h0m1.2 0.7h0m0.1 0.4h0m0.5 2.6h0m0.3 -3.6h0m0.5 3.6h0m0.6 -3h0m0.7 -0.4h0m0.2 2h0m0.2 -1.4h0m0 1.2h0m0.3 2.9h0m0.3 -5h0m1.6 0.3h0m0.6 2.4h0m1.1 -2.7h0m1.3 3h0m0.9 -2.9h0m0.1 2.5h0m0.8 -1.6h0m1.1 2.9h0m0 -1h0m0.1 2.3h0m1 -1.8h0m0.3 -1.6h0m0.7 -1.6h0m0 3.2h0m0.1 -1.4h0m0.3 2.3h0m0.6 -3.9h0m0.7 2.8h0m1.1 -1.6h0m0.7 3.8h0m0.8 -2.8h0m0.1 3h0m2.1 0h0m91.4 -0.3h0m1.2 -1.4h0m0.1 1.1h0m0 -1.4h0m0.1 -0.4h0m0 1.3h0m0.1 1h0m1 -5h0m0.2 3.3h0m0.9 -1.1h0m1.8 1.4h0m1.4 -2.7h0m0.6 -0.8h0m0.6 0.8h0m0.6 1.1h0m0.2 -1.7h0m0.1 -0.5h0m0.2 5.5h0m0.9 -4.6h0m0.5 0h0m0 1.5h0m0.2 -0.5h0m1.1 1.9h0m0.7 -2.9h0m0 2.5h0m0.2 -3.6h0m0.3 5.1h0m0 -2.9h0m0.1 1.7h0m0.2 0.5h0m0.7 -0.1h0m0.3 -3.2h0m0.4 -0.4h0m0.2 -0.4h0m0.5 5.3h0m0.4 -0.9h0m0 0.7h0m0.4 -3h0m0.1 -1.2h0m0.5 3.6h0m1.7 -0.9h0m1.4 -3.1h0m0 1.6h0m2 -2.4h0m1.6 2.1h0m0.9 1.9h0m0.1 -1h0m0.7 -1.3h0m0.3 1.3h0m0.6 -1.8h0m0.8 3.2h0m0.6 -1.9h0m1.4 0.6h0m0.1 2.2h0m1 -0.5h0m0.4 -4.9h0m0.2 1.1h0m0.2 -1.3h0m0.3 5.4h0m1.6 -2.8h0m0.2 0h0m0.1 2.8h0m1.8 -2.2h0m0.2 0.4h0m0.4 -1.5h0m3.1 2.2h0m1.4 -1.7h0m3.9 -2.5h0m0.5 1h0m5.7 2h0m0.5 2.2h0m5.7 -4h0m6.5 1.7h0m13.1 0.8h0m-238 5h0m25.1 2.8h0m3.5 -2.3h0m1.8 -0.5h0m2.7 0.1h0m4.5 -0.7h0m0.9 2.9h0m0.3 -1.7h0m0.3 0.8h0m3.1 0.4h0m0.5 -3.3h0m5.5 2.4h0m0.2 -3.2h0m4.1 4.8h0m1.3 -3h0m0.8 2.3h0m1.7 -3.7h0m0 0.2h0m1 0.5h0m0.1 3h0m0.3 -2.4h0m0.3 2h0m0.8 1.5h0m1 -3.2h0m0.1 -1.4h0m0.3 0.1h0m0.2 1.8h0m0.2 1.2h0m0.9 -1.6h0m0.5 3.3h0m1.4 -1.8h0m0.8 -3.3h0m0.2 1.6h0m0.6 -1.4h0m0.1 4.7h0m0.7 -2h0m0.4 -0.6h0m1 -0.4h0m0.1 1h0m0.1 -2.8h0m0 4.8h0m1.7 -3.1h0m0.3 -0.6h0m0 2h0m0.6 -3.1h0m0.8 3.8h0m0.5 -3.3h0m0.1 1.1h0m0.9 1.1h0m0.4 0.4h0m0.5 -0.7h0m0.2 -0.4h0m1.6 0.6h0m0.1 -2.1h0m0.7 3.5h0m0.6 -2.2h0m1.1 -0.5h0m0.2 1.3h0m0.6 1.3h0m0.6 -2.8h0m0.2 0.8h0m0.1 -1h0m0.3 1.5h0m0 -1.1h0m2.1 2.6h0m0.3 -1.3h0m0.4 2.1h0m0.1 -1.7h0m0.7 1.6h0m0.1 -2.3h0m1.4 0.8h0m0.1 0.6h0m1.4 0h0m1.5 0.1h0m0.5 0.2h0m0.9 0h0m0.5 0.4h0m69.2 0.1h0m0.1 -1.3h0m0.2 0.8h0m0.2 1.1h0m0.2 -2.8h0m0.5 2h0m1.3 0.2h0m0.2 0.4h0m0.1 -3.5h0m0 0.8h0m0.1 0.8h0m0.1 -1.1h0m0 -0.5h0m0.1 -0.8h0m0.2 4.3h0m0.2 -3.5h0m1.5 -2h0m0.2 2.6h0m0 1.5h0m0.7 0.6h0m0.2 0.2h0m3.4 -2.7h0m0.5 2.6h0m0 -1h0m0 -0.8h0m0.1 0.1h0m0.2 1h0m0 -2.1h0m0.3 -1.6h0m0.1 4.8h0m0.7 -2.2h0m0.4 0.3h0m0.7 -0.3h0m0.1 1.4h0m0.7 0.4h0m0.8 -1.2h0m0.8 -3.9h0m2 0.1h0m1.3 3.3h0m1.7 -1.8h0m0.3 -1.4h0m2.8 2h0m0.5 -0.4h0m2 2h0m0.3 -3.8h0m1.5 0.1h0m0.8 0.6h0m1.9 0.2h0m8.3 2.2h0m1.5 0.3h0m2.6 2h0m2.8 -2.2h0m1.1 -2.1h0m0.1 0.4h0m10.8 1.8h0m1.6 0.4h0m-227.8 7.4h0m23.2 -3.6h0m4.2 0.9h0m19.5 2.4h0m0.1 -2.5h0m1.3 0.4h0m4 0h0m1.8 2.1h0m1 -3.3h0m2.4 0.2h0m1.8 -0.6h0m0.6 0.4h0m1.9 1.7h0m2.4 -0.6h0m2 1.8h0m0.1 -2.2h0m3.2 0.2h0m1.1 -1.5h0m0.8 0.3h0m1.3 1.6h0m1.5 -1.7h0m0.2 1.7h0m0.2 -1.2h0m0.5 2.2h0m4 -1.5h0m0 -1.8h0m0.1 2.9h0m0.2 -3h0m0.4 4h0m1.4 -1.3h0m0.9 -2.6h0m0.1 5h0m1.6 -3.6h0m0.7 3.7h0m0.6 -4.1h0m1.4 -0.8h0m0 2.5h0m0.6 -0.6h0m0.2 -1.4h0m1 4.1h0m0.4 -2.4h0m0.1 -1.9h0m0.4 2.1h0m0.4 0.4h0m0.2 -2.3h0m0.1 2.6h0m0.8 1.2h0m1.1 -1.9h0m0.2 1.7h0m0.6 -4.6h0m0.5 1.6h0m2.1 -1.1h0m0.3 -0.7h0m1.4 5h0m1.2 0.5h0m2 -5.2h0m0.6 -0.2h0m0.2 1.2h0m0.8 -1.1h0m0.1 0.4h0m0.7 2.3h0m0.2 2.8h0m0.6 -0.5h0m0 -0.5h0m0.1 -3h0m0.1 2h0m0.4 0.6h0m0.2 0.8h0m0.5 -1.2h0m0.2 0.4h0m0.6 -1.3h0m0.6 0.7h0m0.1 -0.2h0m0.9 2.2h0m0.8 -3.4h0m0.3 -0.1h0m0.4 0.8h0m0.3 0.7h0m0.9 -0.2h0m0.7 -0.9h0m1.1 0.1h0m0.1 0.1h0m1.2 2.2h0m1.4 0.7h0m0.1 -1.7h0m1.3 0h0m0.3 1.2h0m0.4 0.2h0m0.8 -1.2h0m0.7 -0.9h0m0.2 0.1h0m1.1 2.1h0m0.6 -0.5h0m0.1 0.9h0m1 0h0m0.5 -1.9h0m0.8 0.7h0m1.6 0.6h0m0.1 0.7h0m0.2 -1h0m0.1 -0.5h0m0.3 0.9h0m0.6 0h0m0.5 -1.1h0m0.3 1h0m0.1 0h0m5.2 0.5h0m0.3 -0.9h0m10.5 0.6h0m2 -0.3h0m0.4 -0.4h0m0.4 0.1h0m0.2 0.3h0m0.6 -0.1h0m0.1 0.6h0m1.2 -0.7h0m4.1 -0.5h0m0.4 -0.3h0m0.3 -0.2h0m1.1 0.6h0m0.3 -0.3h0m0.7 1.4h0m0.4 -0.1h0m0.3 -0.4h0m0.5 -1h0m0.2 0.1h0m2 0.5h0m0.3 -1.7h0m0.8 1h0m0.6 -0.3h0m0.8 -0.8h0m0.3 3h0m1.9 -1.4h0m0.2 -3.2h0m0 1h0m1.4 0.4h0m0.4 -1.9h0m0.9 4.9h0m2.8 0.2h0m0.4 -4.4h0m0.3 1.6h0m2 0.4h0m0.8 -1.4h0m0.8 0.6h0m0.2 -1.2h0m0.1 3.4h0m0.6 -2.7h0m0.1 -1.6h0m1.1 0.6h0m0.7 1.5h0m0.1 -0.1h0m0.2 1.5h0m0.3 0.1h0m0.4 0.4h0m0.7 -4.1h0m0.4 3.3h0m0.4 -0.3h0m0.1 -2.1h0m0.7 -0.2h0m2.2 -0.2h0m1.4 2.9h0m0.9 -3.2h0m0 0.9h0m0.6 1.9h0m0.7 0h0m0.5 1.6h0m0.5 -1.7h0m0.6 -2.8h0m0.1 0.9h0m0.6 -1.2h0m0.1 0.9h0m0.3 0.3h0m1 -0.2h0m1.7 0.3h0m0.6 0.3h0m0.7 1.6h0m0.1 2h0m0.1 -0.7h0m1.1 -0.1h0m1.8 -0.7h0m0 0.5h0m0.9 -3.4h0m0.4 1.1h0m0.9 -0.7h0m0.7 3.2h0m1 -2.5h0m0.1 1.8h0m3.7 -3.9h0m0.6 3.2h0m0.6 2.5h0m0.1 -4.7h0m1.4 -1.1h0m4.1 4.5h0m0.5 -2.9h0m1.2 2.4h0m1.4 -0.6h0m0 0.3h0m0.3 -3.6h0m0.1 2.8h0m0.7 2.4h0m6.6 0.2h0m1.9 -5h0m1.6 3h0m4.3 -1.5h0m2.8 2.8h0m17.2 -2.1h0m18.7 -2.7h0m-257 6.8h0m44.6 -0.1h0m4.6 0.5h0m0.9 -0.8h0m5.3 -0.1h0m0.2 2.1h0m2.7 -1.7h0m1.3 2h0m10.6 -2.7h0m2 5.7h0m2.4 -2.8h0m0.2 -2.3h0m0.1 0.3h0m1.3 0.2h0m1.3 -0.5h0m5.9 2.2h0m0 2h0m1.6 -2.7h0m0.3 -0.4h0m0.1 -1.2h0m0 3.3h0m0.1 -3.2h0m1.5 2.9h0m0.4 -2.6h0m2 3.5h0m0.9 -4.4h0m0.1 4.4h0m0.3 -3.5h0m0.4 0.1h0m0.3 -1.1h0m0.2 2.8h0m1.2 1.9h0m0.1 -3.4h0m0.8 0.8h0m0.7 0.7h0m0 -1.2h0m0.4 1.2h0m1.6 -1.3h0m2.8 -0.5h0m0.3 -0.2h0m0.3 2.5h0m0.8 -2.6h0m0.3 2.8h0m0.6 -1.9h0m1.3 1.6h0m0.5 -0.9h0m1 -1.9h0m0.4 0.4h0m0.3 0.3h0m1.4 0.3h0m0.5 0h0m0.1 -0.6h0m0.4 2h0m0.1 -2.3h0m0.9 1h0m0 -0.8h0m0.7 4.9h0m0.1 -1.6h0m0.1 -2.4h0m0.1 -0.6h0m0.3 2.1h0m0.4 0.6h0m0.6 -2h0m1.4 1.7h0m0.5 -1.9h0m1.5 1.5h0m1.7 0h0m0.2 -1.8h0m0.7 -0.2h0m0.4 3.6h0m2.1 -0.1h0m0.1 -1.4h0m0.6 2.7h0m0.2 -5.8h0m0.6 0h0m0.5 2.5h0m1.2 1h0m0.2 -0.7h0m0.1 1.5h0m0.7 -2.4h0m0.2 -1.3h0m1.4 3.1h0m0.8 -0.6h0m0.3 2h0m0.1 -0.6h0m0.1 -3.2h0m0.9 1.3h0m0.1 3h0m0.1 -2.9h0m0 0h0m0.1 0.2h0m0.3 -0.3h0m1.9 -1.6h0m0 -0.3h0m1.6 4.8h0m0.1 -3h0m1.4 -2.1h0m0.7 3.3h0m0 -2.6h0m0.3 3.4h0m0.5 -4.2h0m0.6 0.7h0m0.2 2.6h0m0.6 -3.5h0m0.2 0.4h0m0.9 1.1h0m0.1 -1h0m1.7 0.5h0m0.6 4.2h0m0 -3h0m0.2 2.6h0m0.3 -4.6h0m0.5 5.1h0m0.9 -4h0m0.4 2.4h0m0.3 -2.9h0m0.4 3.9h0m0.6 -2.3h0m0.1 -0.2h0m0 -1.2h0m0.6 1.9h0m0.8 2h0m1.8 -5h0m0.1 4.2h0m1 -1.5h0m0.7 2.6h0m0.1 -2.4h0m1.9 0.4h0m1 -2.2h0m0.4 0.5h0m0.3 1.9h0m0.1 0.1h0m0.3 -3.5h0m0.7 5.5h0m0.8 -4.8h0m1.8 4.4h0m0.8 -2.9h0m0.2 0.4h0m0.1 1.9h0m0.6 -2.3h0m0.1 -2h0m0.4 1.9h0m1 0.8h0m0.4 2h0m0.7 -1.4h0m0.4 -2.3h0m0.6 2.2h0m0.8 -0.9h0m0.1 -2h0m0.1 0.9h0m0.2 0.7h0m1.5 1.2h0m0.7 -3.3h0m0.2 1.7h0m0.1 -1.1h0m0.2 2.1h0m0.3 1.6h0m0.4 1.5h0m0.3 -2.5h0m0.1 -3.3h0m0.3 3.7h0m0.3 -0.1h0m0 -2.9h0m0.1 2.5h0m0.3 1.7h0m1.4 -2.5h0m1.3 -2.5h0m0.6 0.8h0m0.1 1.9h0m2.5 -1h0m0.4 2.5h0m0.2 0.2h0m0.5 -0.1h0m0.2 -1.1h0m2.8 -1.2h0m2.6 3.6h0m1.5 -4h0m2.4 3.1h0m0.7 -3.7h0m0.6 2h0m0.1 -1.1h0m4.9 0.4h0m1.7 2.5h0m4.4 -3.7h0m0.4 0.8h0m2.4 3.4h0m0.6 -0.5h0m3 -2.3h0m3.9 -1.7h0m3.3 2.6h0m0.5 -1h0m1.3 -1.2h0m4.3 1.5h0m2.3 -0.5h0m-166.6 4h0m3.4 4h0m9 -2.7h0m1.1 0.5h0m6.1 3.9h0m0.2 -2.8h0m2.9 -0.5h0m5.4 0.3h0m1.7 0.5h0m2.1 -2.5h0m0.2 0h0m3.3 3.9h0m0.5 -4.2h0m0.6 3.7h0m0.8 -1.4h0m1 -2.1h0m0.5 -0.7h0m0.5 1h0m1.4 -0.4h0m1.1 -0.5h0m1.1 0.3h0m0.1 5.3h0m0.2 -0.8h0m0.5 -3.4h0m2 0.7h0m3.9 -0.8h0m2.4 -1.3h0m0.3 2.7h0m1.4 1.2h0m0.3 1.7h0m0.3 -2.8h0m0 -0.6h0m1.4 -0.6h0m0.5 -1.8h0m0.9 1.8h0m0.5 -0.8h0m1.7 0.5h0m0.7 4.4h0m0 -2h0m0.7 -3.9h0m2.7 5.5h0m2.9 -3.2h0m0.5 -1.4h0m1.5 2.9h0m0.3 -3.3h0m1.1 0.8h0m0.2 1.3h0m1.4 1.3h0m0.3 0.3h0m0.3 -3.4h0m0.8 2.6h0m0.4 -2.3h0m2.3 4.3h0m0.2 -3.4h0m0.1 2.5h0m1.2 -2.8h0m5.2 0.5h0m0 1.4h0m0.3 1.4h0m0.7 0h0m0.1 -2.6h0m3.8 -1.7h0m0.5 -0.7h0m0.5 1.3h0m0.3 -1h0m0.4 -0.2h0m1.6 0.3h0m0 3.9h0m1.5 -2.9h0m0.3 -0.6h0m0.2 4.6h0m0 -0.9h0m0.7 -0.5h0m0.4 -3.3h0m2.2 1.8h0m0 -0.8h0m0.4 -0.8h0m1.9 -0.8h0m0.9 2.3h0m0.2 -1.6h0m0.4 2.9h0m0.5 -2.9h0m0.1 0.4h0m0.1 -0.1h0m0 1h0m1.3 1h0m1.2 1.6h0m1.4 -0.6h0m0.5 -2.5h0m2.8 2.8h0m1.4 -1.9h0m0 -2h0m0.4 3.1h0m1.5 -0.8h0m1.1 2.7h0m1.3 -4.5h0m0.2 1.5h0m0.2 -0.8h0m1.6 0.2h0m0.2 2.8h0m4.6 -1.2h0m0.4 -3.2h0m0.6 3.2h0m2.2 0.8h0m0.9 -0.5h0m1.1 0.2h0m0.1 -2.6h0m0.4 3.4h0m2.2 -2.7h0m0.3 0.9h0m0.5 -2.5h0m3 2.9h0m1 1.7h0m0.7 -0.6h0m0.1 -3.5h0m0.6 1.8h0m1.2 3.2h0m0.2 -2.1h0m0.5 -2h0m0.2 2.2h0m1.1 -3h0m2.9 3.1h0m0.7 -3h0m1.5 -0.5h0m1 0h0m0.3 5.2h0m2.9 -3.8h0m0.1 -1.5h0m2 2.5h0m0.8 -2.4h0m1.1 0h0m1.2 3.6h0m4.2 -3.7h0m1 1.4h0m0.9 -0.4h0m2.1 -1.1h0m0.6 3.4h0m1.4 -3.6h0m9.1 4.8h0m15 -3.7h0m6.4 1.2h0m-198.7 6h0m31.5 -2h0m5.5 4.3h0m1 -2.7h0m0.4 -1.4h0m0.1 -0.5h0m4.4 0.3h0m1.3 4.4h0m4.2 -3.1h0m6 -1.5h0m2.9 1.7h0m1 2.2h0m7.6 -3.8h0m0.1 1.4h0m0.5 -1.7h0m0.9 -0.1h0m0.3 2.6h0m0.8 -0.1h0m0.3 1.2h0m0.4 -2.6h0m0.7 -0.1h0m0.6 -0.8h0m1.5 3.1h0m0.2 -1.9h0m2.3 0.1h0m0.5 0.3h0m0.6 -0.4h0m0.4 3.3h0m2.1 -4h0m0.9 1.8h0m0.9 3.3h0m0 -0.3h0m1.9 -2h0m1.5 -3.4h0m0.5 5.3h0m2 0.4h0m1.3 -3.5h0m2.8 2h0m0.7 1.4h0m1.1 -3.5h0m0.7 0.2h0m2.2 0.5h0m0.4 -0.1h0m1.3 -0.6h0m2.3 0.1h0m3.9 1.5h0m0.3 -2.7h0m0.7 0.4h0m1.1 3.5h0m1.5 -3.7h0m0.2 -0.6h0m0.3 -0.3h0m2 1h0m1.3 1.7h0m0.6 -0.8h0m3.5 2.1h0m1.5 -2.2h0m0.1 2.2h0m0.9 0.9h0m1 -0.2h0m0.1 -0.1h0m1 -1.2h0m1.5 -3.9h0m0.9 4h0m2.8 -3.1h0m1.6 1.4h0m1.9 -0.7h0m0.9 -1.2h0m1.7 5.6h0m2 -5.7h0m0.2 4.3h0m2.4 -2.4h0m1.6 3h0m1.2 -2.1h0m3.9 -1.2h0m2.3 -0.2h0m0.9 2.9h0m1.1 -0.3h0m2 -1.9h0m1.4 2.6h0m1 -1.4h0m3.7 -0.5h0m0.7 -1.2h0m1.6 2.2h0m2.6 -2.5h0m-149.2 7.4h0m9 -2.9h0m13.8 1.6h0m0.7 0.5h0m5.4 1.3h0m7.2 -0.5h0m9.4 -2.6h0m14.6 2.7h0m0.7 -1.6h0m3.3 0.4h0m1.9 4h0m0.3 -0.3h0m2.2 -4.8h0m4.6 0.1h0m1.5 2h0m1.5 -0.9h0m2 -1.8h0m1.4 1.3h0m4.2 1.3h0m7.1 1.7h0m0.9 -3.6h0m3 2.1h0m6.8 2.8h0m4.3 -3.5h0m0.5 3h0m0 -4.3h0m4.6 -0.4h0m3 3.5h0m5.2 -1.8h0m0.9 -1.3h0m2 4.1h0m8.1 -4.8h0m0.3 1.9h0m2.6 0h0m10.4 -0.1h0m2.1 -1.6h0m7.1 0.7h0m1.7 0.6h0m2.7 1h0m4.5 0.3h0m42.3 -1.3h0m-174.9 7.4h0m2.5 -3.1h0m2.8 4.5h0m16.3 -4.4h0m3.8 2.1h0m11.6 -0.2h0m0.2 2.4h0m3.3 -3.9h0m0.7 -0.2h0m11.3 1.2h0m4.3 -0.7h0m2.8 1.2h0m4.8 1.3h0m5.1 -2.2h0m1.1 1.2h0m1.5 3.4h0m12.1 -3.9h0m4.8 -1.7h0m0.4 5.1h0m0 -3.7h0m3.7 -0.9h0m8.9 0.6h0m-78.9 5.3h0m1.1 2.5h0m36.4 1.9h0m3.2 -3.8h0m16.4 3.4h0m2.7 -2.8h0m19 -0.7h0m1.2 2.3h0m17.6 1.6h0m-92 2.3h0m24.3 2.1h0m10.7 -0.6h0m1.4 -1.6h0m12.4 3.4h0m8.1 -2h0m48 3h0m-98.2 7.8h0m87.6 -1.4h0M1368 985h0" stroke="#000" stroke-width="4.8" stroke-linecap="round" fill="none"/>
<circle cx="1291.0" cy="871.8" r="6" fill="#2ee57a"/>
<g transform="translate(0,599)">
<line x1="810.4" y1="65.5" x2="810.4" y2="399.7" stroke="#3a3a3a" stroke-width="2"/>
<line x1="802.5" y1="77.5" x2="810.4" y2="77.5" stroke="#3a3a3a" stroke-width="1.8"/>
<text transform="translate(793.4,77.5) rotate(-90)" font-size="19" text-anchor="middle">6000</text>
<line x1="802.5" y1="127.4" x2="810.4" y2="127.4" stroke="#3a3a3a" stroke-width="1.8"/>
<text transform="translate(793.4,127.4) rotate(-90)" font-size="19" text-anchor="middle">4000</text>
<line x1="802.5" y1="177.2" x2="810.4" y2="177.2" stroke="#3a3a3a" stroke-width="1.8"/>
<text transform="translate(793.4,177.2) rotate(-90)" font-size="19" text-anchor="middle">2000</text>
<line x1="802.5" y1="227.1" x2="810.4" y2="227.1" stroke="#3a3a3a" stroke-width="1.8"/>
<text transform="translate(793.4,227.1) rotate(-90)" font-size="19" text-anchor="middle">0</text>
<line x1="802.5" y1="277.0" x2="810.4" y2="277.0" stroke="#3a3a3a" stroke-width="1.8"/>
<text transform="translate(793.4,277.0) rotate(-90)" font-size="19" text-anchor="middle">-2000</text>
<line x1="802.5" y1="326.8" x2="810.4" y2="326.8" stroke="#3a3a3a" stroke-width="1.8"/>
<text transform="translate(793.4,326.8) rotate(-90)" font-size="19" text-anchor="middle">-4000</text>
<line x1="802.5" y1="376.7" x2="810.4" y2="376.7" stroke="#3a3a3a" stroke-width="1.8"/>
<text transform="translate(793.4,376.7) rotate(-90)" font-size="19" text-anchor="middle">-6000</text>
<text transform="translate(771.6,232.7) rotate(-90)" font-size="19" text-anchor="middle">Cost Difference in Euro</text>
<line x1="809.4" y1="398.8" x2="1492" y2="398.8" stroke="#111" stroke-width="2.3"/>
<line x1="822.4" y1="398.8" x2="822.4" y2="406.3" stroke="#3a3a3a" stroke-width="1.8"/>
<text x="822.4" y="426.0" font-size="18" text-anchor="middle">-.4</text>
<line x1="904.6" y1="398.8" x2="904.6" y2="406.3" stroke="#3a3a3a" stroke-width="1.8"/>
<text x="904.6" y="426.0" font-size="18" text-anchor="middle">-.3</text>
<line x1="986.8" y1="398.8" x2="986.8" y2="406.3" stroke="#3a3a3a" stroke-width="1.8"/>
<text x="986.8" y="426.0" font-size="18" text-anchor="middle">-.2</text>
<line x1="1069.0" y1="398.8" x2="1069.0" y2="406.3" stroke="#3a3a3a" stroke-width="1.8"/>
<text x="1069.0" y="426.0" font-size="18" text-anchor="middle">-.1</text>
<line x1="1151.2" y1="398.8" x2="1151.2" y2="406.3" stroke="#3a3a3a" stroke-width="1.8"/>
<text x="1151.2" y="426.0" font-size="18" text-anchor="middle">0</text>
<line x1="1233.4" y1="398.8" x2="1233.4" y2="406.3" stroke="#3a3a3a" stroke-width="1.8"/>
<text x="1233.4" y="426.0" font-size="18" text-anchor="middle">.1</text>
<line x1="1315.6" y1="398.8" x2="1315.6" y2="406.3" stroke="#3a3a3a" stroke-width="1.8"/>
<text x="1315.6" y="426.0" font-size="18" text-anchor="middle">.2</text>
<line x1="1397.8" y1="398.8" x2="1397.8" y2="406.3" stroke="#3a3a3a" stroke-width="1.8"/>
<text x="1397.8" y="426.0" font-size="18" text-anchor="middle">.3</text>
<line x1="1480.0" y1="398.8" x2="1480.0" y2="406.3" stroke="#3a3a3a" stroke-width="1.8"/>
<text x="1480.0" y="426.0" font-size="18" text-anchor="middle">.4</text>
<text x="1150.7" y="447.3" font-size="19" text-anchor="middle">Risk Difference</text>
<rect x="973" y="463.6" width="355.8" height="35.8" fill="#fff" stroke="#3a3a3a" stroke-width="2"/>
<line x1="981" y1="480.9" x2="1055" y2="480.9" stroke="#e8101c" stroke-width="4.4" stroke-dasharray="10 5.5"/>
<text x="1066.0" y="489.5" font-size="19">95% CI</text>
<circle cx="1166" cy="482.1" r="6" fill="#2ee57a"/>
<text x="1188.0" y="489.5" font-size="19">Mean Average</text>
<text x="813.5" y="522.5" font-size="15">boundary constant = 5.9951</text>
</g>
<g transform="translate(0,1238)">
</g>
<text x="754.83" y="1263.50" font-size="25" font-weight="bold" textLength="33.31" lengthAdjust="spacingAndGlyphs">C2</text>
<text x="1005.25" y="1264.30" font-size="26" textLength="292.73" lengthAdjust="spacingAndGlyphs">Symptomatic Admission</text>
<g transform="translate(0,1238)">
<line x1="812" y1="127.4" x2="1492" y2="127.4" stroke="#e8e8e8" stroke-width="1.6"/>
<line x1="812" y1="177.2" x2="1492" y2="177.2" stroke="#e8e8e8" stroke-width="1.6"/>
<line x1="812" y1="277.0" x2="1492" y2="277.0" stroke="#e8e8e8" stroke-width="1.6"/>
<line x1="812" y1="326.8" x2="1492" y2="326.8" stroke="#e8e8e8" stroke-width="1.6"/>
<line x1="812" y1="376.7" x2="1492" y2="376.7" stroke="#e8e8e8" stroke-width="1.6"/>
</g>
<g transform="translate(0,1238)">
<line x1="802.5" y1="227.1" x2="1492.5" y2="227.1" stroke="#222" stroke-width="2"/>
<line x1="1150.9" y1="65.5" x2="1150.9" y2="398.7" stroke="#222" stroke-width="2"/>
</g>
<ellipse cx="1147.8" cy="1509.7" rx="93.7" ry="50.4" transform="rotate(-162.13 1147.8 1509.7)" fill="none" stroke="#e8101c" stroke-width="4" stroke-dasharray="10 5.5"/>
<ellipse cx="1147.8" cy="1509.7" rx="61.2" ry="32.9" transform="rotate(-162.13 1147.8 1509.7)" fill="#000"/>
<path d="M1065.5 1420.4h0m34.9 9.7h0m59.3 4.4h0m-40.6 3.6h0m3.2 4.4h0m-84.3 1.7h0m37 -0.8h0m5.2 5.3h0m4.4 -0.4h0m14.2 -0.3h0m1.3 0.4h0m6.8 -3.6h0m14.9 0.6h0m0.8 3.5h0m0.4 -1.3h0m11.8 -2.2h0m2.3 2.6h0m68.7 -0.8h0m-147.4 7h0m0.2 -4.8h0m16.3 -0.3h0m5.1 5.3h0m2.3 -0.8h0m4.4 -1h0m0.7 -0.8h0m0.5 0.5h0m7 1.3h0m3.9 -1.7h0m10 -0.8h0m1.2 3.1h0m0.4 0.5h0m5.8 -1.3h0m0.6 -4h0m9.3 4h0m1.9 0h0m1.7 -0.1h0m2 -2.3h0m26.5 0.7h0m0.7 -0.3h0m11.3 1.6h0m0.1 0.5h0m15 -1.5h0m-140.8 4.1h0m1.5 2h0m13.6 -1.6h0m8 2.9h0m11.6 -1.6h0m3.3 -1.8h0m1 -0.2h0m1.1 3.4h0m1 -0.1h0m1.7 0.5h0m4.9 0.5h0m9.4 -2.6h0m0.8 2.1h0m1.6 1.4h0m0 -5.8h0m5.3 4.8h0m2.3 0.1h0m3.8 -1.6h0m0.3 2.1h0m1.4 -1.1h0m1.2 -2.7h0m0.3 1.7h0m3.3 0.7h0m1.9 -3.1h0m0.8 -0.2h0m2.2 4.4h0m2.5 0.4h0m1.4 -2.8h0m9.8 -1h0m1.7 1.2h0m3.7 -1h0m2 -0.7h0m3.9 1.9h0m0.2 -2.4h0m3.2 4.4h0m0.3 -1.2h0m0.8 -0.7h0m6.8 2.4h0m0.9 -5.6h0m12.9 5.2h0m5.7 -3.6h0m-124.7 5.2h0m0.7 2h0m11 1.4h0m1.1 -1.6h0m0.7 0.5h0m0 0.3h0m0.4 1.7h0m0.1 0.4h0m2 -1.5h0m1.2 -1.1h0m4.4 1.2h0m1.4 0h0m1 -0.5h0m0.7 -1.6h0m2.8 3.2h0m0.2 -1.7h0m0.1 0.4h0m0.7 -1.2h0m2.8 -1.6h0m0.9 2h0m3.2 1.1h0m0.9 -3.1h0m0.2 1.2h0m2.1 0h0m1.9 0.1h0m1.6 2h0m0.1 -2.7h0m0.2 1h0m0.5 -2.8h0m0.1 5.3h0m0.7 -3.8h0m1.7 -1.4h0m2.5 3.4h0m0.7 1h0m0.7 -0.2h0m1.8 -1.7h0m1.3 -1.8h0m0.2 0.3h0m1.1 3.2h0m0.2 -1.2h0m0.5 2h0m0.1 0.5h0m0.3 -3.3h0m0.6 -0.9h0m2.2 3.6h0m0.8 -2.8h0m0.7 1.2h0m0.7 -0.4h0m0.6 -0.4h0m0.9 -1.6h0m0.5 4.9h0m1.3 -3.8h0m0 -1.2h0m1 2.4h0m0.6 1.8h0m1.2 -1.5h0m0 0.2h0m0.2 1.5h0m0.9 -2.8h0m0.6 -1.3h0m1.3 1.7h0m2.5 -2.5h0m0.2 1.8h0m3.2 0.7h0m0.9 -1.8h0m2.3 -0.2h0m1.4 -0.3h0m0.5 3.9h0m2.2 1.4h0m0.8 -2.4h0m0.8 1h0m1.1 -4.6h0m0.6 5.3h0m0.3 -0.8h0m2.9 0.2h0m0.3 -3.7h0m0.6 2h0m0.9 -2.8h0m2.1 5.1h0m3.3 0.5h0m0.3 -2.9h0m0 -1.7h0m3.2 3.1h0m3.8 -4h0m0.5 1.5h0m0.5 -0.5h0m4.4 4.2h0m1 -2.4h0m1.7 0h0m6.2 -1.5h0m2.6 -0.5h0m0.6 4.4h0m1.2 -4.5h0m0.5 -0.8h0m11.5 5.1h0m0.8 -0.2h0m3.8 0.2h0m-159.2 1.9h0m3.5 1.2h0m7.8 -1.4h0m9.9 1.7h0m6 0.1h0m1.3 2.6h0m11.7 -3.5h0m1 4h0m0.2 0h0m1.2 -2.6h0m1.8 -1.6h0m0.3 4.2h0m2.6 -0.3h0m0.4 -3.3h0m1.9 -1.8h0m0.5 -0.1h0m2.3 2.2h0m0.5 3.1h0m0.5 -1.6h0m0.8 -1.6h0m1.8 1.9h0m2.2 -4.1h0m0.2 0.9h0m1 0.1h0m2.9 1.4h0m2.3 -1.7h0m0.1 -0.4h0m0.3 0.5h0m1 0h0m0.5 1.2h0m0.3 -0.3h0m0.3 -2h0m0.1 2.5h0m0.1 0.1h0m0.5 2.6h0m1.1 0.7h0m0 -2.5h0m0 2.3h0m0.3 -3.8h0m0.9 0.5h0m0.4 0.3h0m0.2 -1.2h0m1 1.5h0m0.4 -2.2h0m0.8 4.4h0m1.1 -0.5h0m0.1 0.4h0m0.3 -3.3h0m0.3 0.8h0m0.1 2h0m2.8 -4.1h0m0 1h0m1.7 0.9h0m0.9 -0.6h0m0.4 0.3h0m1 0.1h0m0.6 2.3h0m0.4 0.9h0m0 -3.6h0m0.6 1h0m0.6 -1.3h0m0.1 3.2h0m0.4 -0.2h0m1 -2.7h0m0.6 1.5h0m0.3 1.3h0m0.2 -2h0m0.3 -1.4h0m0.3 3h0m0.1 -1.2h0m0.2 -1.2h0m0.1 0.3h0m0.8 -1.8h0m1.5 0.8h0m0.8 4.3h0m0 -3.5h0m0.6 1.9h0m1 -1.8h0m0.8 0.2h0m0.7 -1h0m1.2 1.2h0m0.4 1.9h0m0.5 0.8h0m0.1 -5h0m0.4 5h0m0.6 -4.2h0m0.1 2.1h0m0.4 -0.9h0m0.7 2.9h0m0.6 -2.7h0m0.8 1.8h0m0.6 1.9h0m0.5 -5.5h0m0.2 2.6h0m0.7 2.1h0m0.1 0.1h0m0.2 -0.1h0m0.2 -1.6h0m0 -3.3h0m0.4 4.7h0m0.2 -0.6h0m0.2 -1.7h0m0.7 3h0m1.6 -0.6h0m0.4 0.5h0m0.3 -3.9h0m0 1.3h0m0.8 1.8h0m0.3 1.1h0m0.4 -0.6h0m0.4 -4.1h0m0.5 4.3h0m0.3 -4h0m0.2 3.9h0m0.3 -2.6h0m0.7 1.8h0m0.4 -2.4h0m1.8 2.4h0m0.6 -1.8h0m3.2 1.2h0m0.9 -1.2h0m0.8 0.5h0m0.7 -1.7h0m0.6 2.1h0m0.3 -2.4h0m0 4.5h0m0.3 -1.4h0m1.9 0.4h0m0.4 -1.9h0m2.5 -0.4h0m3.7 3.4h0m3.7 -0.7h0m4.5 -3h0m1.9 0.4h0m2.6 2.4h0m3.5 -2h0m4.8 1.9h0m0.1 -2.7h0m2.9 -1.4h0m14.2 3.9h0m16.3 -3.5h0m4 3.8h0m-182.7 6.1h0m2.1 -0.5h0m12 1.4h0m12 -4.8h0m1.2 2.8h0m3.7 -1.3h0m1 -2.2h0m0.3 1.2h0m0.4 -1.3h0m1.8 4.2h0m0.6 -3.5h0m0.9 0.4h0m0.3 -0.3h0m1.2 -1h0m0.3 1.3h0m0 0.3h0m2.3 1.9h0m0.2 2.2h0m0.8 -2.7h0m1.1 0.7h0m0.2 -0.7h0m0.5 -0.5h0m0.1 -1.9h0m1.6 2.6h0m0.3 0h0m0.2 1.3h0m2.4 0.8h0m0.6 -2.2h0m0 0.1h0m0.6 -0.3h0m0 2.6h0m1.3 -3.4h0m0.2 0.6h0m0.2 -2.6h0m0.6 0.5h0m0.4 3.3h0m0.6 1.4h0m0.2 -4.3h0m0.3 3.9h0m0.2 -1.3h0m0.1 -1.8h0m0.2 3.6h0m0.2 -5.5h0m0.5 3.4h0m0.5 -1.6h0m0.6 1.7h0m0 -1.5h0m0.1 2.3h0m1.8 0.9h0m0 -0.8h0m0.3 1.3h0m1.2 -2.9h0m1.3 -1h0m0.3 1.8h0m0.7 -0.4h0m0.7 2.7h0m0.4 -1.8h0m0.1 -1.5h0m0.8 -0.8h0m0.5 0.4h0m1.6 0.2h0m0.4 1.5h0m1.3 1.7h0m0.6 -0.5h0m0 -4h0m1 -0.3h0m0.1 4.6h0m0.8 -4.3h0m0 0.1h0m0.2 1.7h0m0.1 1.1h0m0.1 -1.7h0m0.3 3.1h0m0 0.3h0m0 -1.4h0m0.3 -0.1h0m0.6 1.2h0m0.3 -0.6h0m2 -3.5h0m0.2 4.1h0m0.1 -0.1h0m0.3 -0.8h0m0.2 -2h0m0.4 1h0m0.1 1.8h0m0.1 -0.1h0m0.4 -4h0m0.1 1.6h0m0.3 2.6h0m0.1 -4.7h0m0.2 4.4h0m0.5 -0.2h0m0.5 0.4h0m0.1 -2.9h0m0.1 -0.4h0m0.6 3.3h0m0 -2.6h0m0.5 1.2h0m0.2 -1.7h0m0 2.4h0m0.8 0.9h0m0.2 -4.4h0m0.2 1h0m0.4 -1.3h0m0.9 0.3h0m0.7 -0.9h0m0 5.2h0m0.2 -0.7h0m0.2 0.2h0m1.4 0.7h0m0.1 -4.6h0m0.9 0.6h0m0.6 4.1h0m0.2 -4.9h0m0.3 4.6h0m0.2 -1.4h0m0.1 -2.2h0m0.4 3.5h0m0 -4.1h0m0.2 -1h0m0.5 1.7h0m0.2 -1.1h0m0.2 -0.4h0m1.1 5.3h0m0.1 -0.3h0m0.2 -2.3h0m0.4 -2.5h0m0 3.2h0m0.5 -2.3h0m0.4 2h0m0.1 -0.8h0m0.5 -0.1h0m0.3 -1.7h0m0 0.4h0m0.5 4.3h0m0.1 -4.5h0m0.9 4.2h0m0.5 -0.9h0m1.6 0.5h0m0.5 -1.5h0m0.2 -2.9h0m0 -0.4h0m0.2 3.3h0m0.2 1.4h0m0.1 -4h0m0.1 1h0m1.5 2.3h0m0 -1.7h0m0.2 2.4h0m0.6 -1.9h0m0.1 -0.4h0m0.3 -0.9h0m0.3 3.2h0m1 -1.7h0m0.2 -0.2h0m0.4 0h0m1 -0.5h0m0.2 1.6h0m0.1 -2.9h0m0.2 3.8h0m0.2 -3h0m0.8 3.1h0m0.2 -0.8h0m0.8 -2.2h0m0.3 -0.1h0m0.8 -0.1h0m0.3 -1.3h0m0.1 5.1h0m0.5 -3.2h0m0.7 0.1h0m0 2.4h0m0.4 0.2h0m0 0.4h0m1 -5.6h0m0.3 4.4h0m0.3 0.3h0m1.3 -0.4h0m0.9 -2.2h0m1.2 3.6h0m0.1 -0.1h0m0.2 -4.4h0m0.7 4.1h0m0.4 0.1h0m0.2 -3.7h0m1.3 1.7h0m0.4 -1.6h0m0.4 2.5h0m1.5 -0.1h0m0.5 -3.7h0m1 1h0m2.1 1.5h0m0.2 -1.1h0m0.3 1.2h0m0.1 -0.1h0m1.4 -1.9h0m0.6 2.7h0m0.8 -3h0m0.6 1.7h0m0.4 -1h0m0.2 0h0m1.4 1.1h0m0.5 -0.4h0m0.3 3.5h0m0.4 -2.5h0m1.3 2.2h0m2.2 -4.8h0m4.9 0.9h0m0.2 -1.4h0m1.6 2.4h0m2 -2.5h0m4.4 3.6h0m0.3 -3.1h0m3.5 3.5h0m3.4 -1h0m2 0.2h0m1.1 2.4h0m2.4 0.2h0m0.4 -0.7h0m4.5 -0.9h0m0.6 1.3h0m18.8 -1.9h0m25.4 -1.7h0m-191.7 7.9h0m0.9 -2.2h0m1.4 1.5h0m2.1 -1.1h0m4 -2h0m1.1 0.9h0m0.2 -0.8h0m2.5 3.7h0m0.6 1.1h0m0 -2.6h0m0.2 -1.6h0m0.3 4.7h0m1.3 0.2h0m0.1 -4.7h0m0.8 0.2h0m3.3 1.5h0m0.4 0.1h0m0.4 2.3h0m0.7 0.2h0m0 -3.8h0m0.3 4.6h0m1.3 -5.4h0m0.7 2.1h0m1.8 -0.7h0m0.5 3.4h0m1.1 -2.5h0m0.1 -0.9h0m0.6 2.2h0m1.3 0.8h0m0.3 -3.7h0m1.1 2.1h0m0.8 0.7h0m0.1 1.2h0m0.1 -0.2h0m0.2 -2h0m0.8 -2.9h0m1.1 1.6h0m0.4 2.9h0m0 -1.7h0m0.4 -2.5h0m0.6 1.7h0m0.1 -0.1h0m1.2 2.6h0m1 -2.3h0m0.3 -0.2h0m0.1 3h0m0.7 -4.6h0m0.1 2.9h0m0 -2.8h0m0.5 2.7h0m1.1 0.5h0m0.1 0.8h0m0.8 1.3h0m0 -4.7h0m0.1 1.9h0m0.1 -0.4h0m0.1 1.9h0m0 -2h0m0 1.8h0m0.3 -3.5h0m0.2 1.7h0m0.2 -2.4h0m0.2 3.6h0m0.3 -1.7h0m0.4 1.5h0m0.1 -2.6h0m0.2 -0.5h0m0 4.7h0m0.2 -4.9h0m0.5 2h0m0.7 2.5h0m0.8 -3.7h0m0.1 3.9h0m0 0.3h0m0.3 -5.2h0m0.2 5.3h0m0.6 -2.7h0m0.4 -1.8h0m0.3 3.7h0m0.1 -1.2h0m0.2 2h0m0.1 -1.6h0m0.4 -1.2h0m1 -1.5h0m0.1 4.5h0m1.8 -3.7h0m1.4 0.4h0m0.1 0h0m0 1.8h0m0.9 -2.7h0m1.6 1.1h0m0.3 0.8h0m0.1 -2.5h0m1.1 0h0m1 0.5h0m0.1 0.5h0m1.3 -1h0m0.3 -0.4h0m0.1 -0.4h0m0.5 0.6h0m1.4 -0.2h0m24.1 0h0m1.1 -0.2h0m3.9 0.3h0m2.8 -0.2h0m1.4 0.5h0m0.8 -0.5h0m3.2 -0.3h0m0.7 1h0m1.5 -0.8h0m0.4 0.4h0m0.7 2.5h0m0.1 0.5h0m1 -2.6h0m0.1 2.9h0m0 -2.4h0m0.4 1.3h0m0 1.7h0m1.5 -1.3h0m0 -0.2h0m0.2 -1.6h0m0.1 2.9h0m0.4 -2h0m0.2 -1.9h0m0.6 3.6h0m1.8 -1.8h0m0.4 -2.1h0m0.8 4.6h0m0.2 -1h0m0.6 1.6h0m0 -0.8h0m0.6 -1.2h0m0.1 -2.2h0m0.4 2.6h0m0.4 0.7h0m0.2 -0.3h0m0 -2.8h0m0.2 0.8h0m0.6 -0.2h0m1 -0.4h0m0.2 2h0m0.3 -3.6h0m0.1 4.6h0m0.7 -2h0m0.7 0.6h0m0.1 -0.7h0m0.8 -1.5h0m0.2 1.1h0m0.3 1.5h0m1.1 -0.8h0m0.1 3.1h0m0.4 -0.7h0m1.4 -2.2h0m0.2 -2.6h0m0.1 1.2h0m0.2 1.4h0m1.2 2.8h0m0.2 -0.7h0m0.1 -1.9h0m0.6 1.2h0m0.4 -1.7h0m0.7 2.5h0m0.8 -1.9h0m0 -2.3h0m0.4 -0.1h0m0.9 0.5h0m0.7 -0.8h0m0.7 0.4h0m0.1 0.7h0m0.6 1.8h0m2.9 1.1h0m1.8 0.1h0m1.5 -1.4h0m0.2 1.7h0m3.8 -4.8h0m1.4 1.3h0m0.8 3.8h0m0.3 -4.4h0m0.6 1.7h0m0.5 -1.7h0m0.3 5h0m1.4 -0.6h0m1.1 -3.4h0m2.3 2.3h0m1.8 0.3h0m1.5 -1.2h0m0.1 -3.3h0m1.9 2.5h0m4.5 -2.2h0m0.3 4.1h0m11.8 0.6h0m-183.1 6.5h0m1.5 -5.2h0m16.9 0.3h0m3 0.8h0m1.1 3.4h0m1.4 -1.4h0m0.5 -1.1h0m1 -0.6h0m0.2 4.1h0m1.6 -4.7h0m1.7 2.7h0m0.7 -1.1h0m0.6 0.2h0m0.1 2.9h0m1.2 -4h0m1.1 -1.1h0m0.2 0.2h0m0.3 0.2h0m0.2 2h0m2.8 2.5h0m0.4 -4.3h0m0.6 2.2h0m0.3 -2.4h0m0.7 3.7h0m1.4 -0.9h0m0.6 -1.4h0m3.4 2.6h0m0 0h0m0.4 -4h0m0.3 2.6h0m0.1 -0.4h0m0.6 -1.8h0m0.2 4.4h0m0.7 -4h0m0.4 -1h0m1.6 1.4h0m0.1 1.6h0m0.3 1.6h0m0.3 -1.2h0m0.3 -0.6h0m0.1 -3.4h0m0.2 3.4h0m0.5 2.2h0m0 -3.6h0m0.4 2.9h0m0.5 -0.4h0m0.1 -2.9h0m0.4 0.9h0m0.3 -2.8h0m0.1 1.8h0m0.8 -0.7h0m0.8 3.6h0m0.9 0.6h0m0.3 -2.6h0m0 2.6h0m0.3 -3h0m0.1 -2.1h0m0.7 4.3h0m0.1 -2h0m0.9 2.5h0m0.7 -4.9h0m0.6 5.7h0m0.2 -3.5h0m0 2.3h0m0.6 -0.7h0m0.2 -2h0m0.6 3.2h0m0 0.1h0m0.9 -1.7h0m0 0.5h0m0.1 -1.5h0m0.1 2.9h0m0.4 -3h0m0.5 0.3h0m0.8 -0.8h0m0.1 -1.2h0m0.5 1.3h0m1.7 -1.8h0m1 -0.1h0m58.5 0.5h0m1.4 0.2h0m1.9 1.3h0m0.4 -1.5h0m0 0.3h0m2.4 -0.2h0m0.1 1h0m0.7 -1.2h0m0.3 3.8h0m1 -3.6h0m1.1 3.7h0m0.2 -3.5h0m0 4h0m0.1 0.6h0m0.1 -0.2h0m0.7 0.2h0m0 -5.5h0m0.8 4.3h0m0.7 -0.6h0m0.2 0.7h0m0.6 -1h0m0 -2.5h0m0.4 4.5h0m0.6 -4.1h0m0 0.3h0m0.2 3.4h0m0.2 0.3h0m0.4 -4.8h0m0.4 4.6h0m1.3 -4h0m1.8 0.2h0m0.9 0.6h0m0.1 3.4h0m0.4 -3.8h0m0.1 2.6h0m0.1 1.1h0m0 -1.2h0m0.2 -2.7h0m0.3 4.6h0m0.1 -2.4h0m0.3 2h0m1.4 0.4h0m0.2 -3.8h0m0.3 -1.1h0m0.1 -1h0m1.1 5.7h0m0.2 -3.3h0m0.1 3h0m0.4 -2.6h0m0.8 -0.9h0m1.1 0.7h0m1.6 3.2h0m1.1 -2.1h0m0.2 1.4h0m0.1 0.3h0m0.2 -3.1h0m2.4 -1.3h0m1.7 4.1h0m1.4 -0.3h0m0.6 1.1h0m1.2 -0.1h0m1.1 -1.6h0m1.9 -1.6h0m2 -0.7h0m1.2 0h0m5.5 3.5h0m1.2 0.1h0m2.1 -0.6h0m2.7 -4h0m3.1 3.3h0m0.2 -3.6h0m6.4 4.1h0m5.5 -0.8h0m-192.5 3.2h0m2.2 3.3h0m7.1 -1h0m5 -2.7h0m2.2 1.1h0m5.1 0h0m4.7 1h0m0.4 -0.4h0m3.3 0.2h0m1.1 0.7h0m2.5 0h0m3.5 -2.9h0m1.4 1.7h0m0.1 1.9h0m1.2 -0.9h0m0.1 0.7h0m0.2 -1.6h0m0.3 1.1h0m0.5 -2.8h0m0.4 1.1h0m0.1 -1.4h0m0.5 0.5h0m0.1 2.9h0m2.9 0.3h0m0.5 -1.3h0m0 -0.1h0m0.9 -1.4h0m0.5 -0.6h0m0.4 1.7h0m0 -1.2h0m0.3 3.5h0m0.6 -4.3h0m1.1 1h0m0 4h0m1.4 -1.5h0m0.1 -3.2h0m0.4 1.3h0m1.9 0h0m1.1 0.8h0m0.4 0.2h0m0.8 2.3h0m0.3 -4.2h0m0.3 -0.7h0m0.2 3.2h0m0 -1.5h0m0.2 0h0m0.2 1.5h0m0.5 1.5h0m0.8 -3.5h0m77.7 -1h0m1.9 0.3h0m0.3 0.3h0m0.3 0.4h0m0.7 0.3h0m1.4 -0.7h0m0.4 0.5h0m0.3 3.2h0m0 -4.6h0m0.2 2.9h0m0.2 -0.5h0m0.4 3h0m0.1 -2.1h0m0.1 0.9h0m0.6 0h0m0.5 -3.4h0m0.2 0.8h0m0.2 -0.4h0m0.3 4.6h0m0.1 -1.9h0m0.1 1h0m0.3 -4.6h0m0.4 5.4h0m0 -2.2h0m1 1.2h0m0.6 -0.2h0m0.4 -1h0m1.3 0.4h0m0.5 0h0m1 -0.1h0m1 -3.5h0m0.1 2.8h0m0 2.3h0m1.6 -2.7h0m0.8 0.7h0m0.4 -0.7h0m1.4 -0.9h0m1.5 2.5h0m0.7 -0.6h0m0.3 1.6h0m0.2 -3.1h0m0.6 1.4h0m0.3 0.2h0m0.3 -1.6h0m1.8 -0.7h0m1.3 3.8h0m1 -4.9h0m2.2 0.3h0m1 0.5h0m0.8 0.7h0m1.5 -0.1h0m1 0.3h0m0.5 -0.2h0m0.7 -0.8h0m1.9 2.7h0m0.6 2h0m3.9 -1.4h0m2 -2.1h0m6 -1.7h0m15.4 4.7h0m-182.8 1h0m1.2 1.6h0m0.3 2.2h0m0.7 -2.8h0m0 3.6h0m4.3 -3h0m0.6 2.7h0m0.1 -3.6h0m1.2 3.6h0m4.5 -0.9h0m0.5 -2.3h0m2.6 0.3h0m0.8 0.1h0m1 3.4h0m1.5 -0.1h0m0.4 -4.4h0m0.1 -0.8h0m0.1 5.4h0m0.5 -0.6h0m0.9 -0.9h0m0.6 1.5h0m0.1 -0.2h0m0.4 -0.2h0m0.1 -3.9h0m0.3 3.6h0m0.9 -2.1h0m1.1 1.5h0m1.2 -0.1h0m0 0.1h0m0.7 0.6h0m0.2 0h0m0.5 0.5h0m1 -2.2h0m0.2 0.1h0m0.2 1h0m0.4 -3.6h0m0.2 4.1h0m0.2 -3h0m0.1 -1.3h0m0.5 3.7h0m0.3 -2.9h0m0.1 2.7h0m0 -2.2h0m0.5 3.1h0m0.2 0.3h0m0.4 -2.3h0m0.1 0.2h0m0.8 1.9h0m0.3 -0.4h0m0.5 -3.2h0m0.7 3.1h0m0.4 -3.8h0m0 5.2h0m0.3 -4.7h0m0.1 2.8h0m0.3 -0.8h0m0.6 2h0m0.5 -1.7h0m0.6 -1.5h0m0.3 -0.9h0m0 3.6h0m0.3 0.8h0m1 -4.8h0m0.1 -0.2h0m0.1 2.2h0m0.4 -0.9h0m0.2 2h0m0 1.3h0m0.2 0.2h0m0.6 -0.5h0m0 0.3h0m87.5 -2.9h0m0 -1.7h0m0.7 2h0m0.5 -1.5h0m0.8 1.6h0m0.5 1.3h0m0.3 -0.8h0m0.2 1.7h0m0.6 -1.3h0m0.2 1.4h0m0.1 -3.5h0m0.3 3.9h0m0.3 0.3h0m0.5 0.4h0m0.2 -3.6h0m0.9 1h0m0.1 -0.7h0m0.1 2.7h0m0 -1.2h0m0.4 -3.8h0m0.2 4.1h0m0.8 -0.6h0m0.1 -1.3h0m0 -0.9h0m0.1 1.4h0m0.3 0.5h0m0.3 1.3h0m0.5 -4.4h0m0.1 5h0m0.3 -3.9h0m0 0.6h0m0.6 3.8h0m0.4 -5.4h0m0.4 3h0m0.6 2.5h0m1.4 -4.9h0m0.5 1.8h0m0.5 0.3h0m0 -2h0m0 3.3h0m0.3 1.2h0m0.4 -3h0m0.7 -0.9h0m0.2 0.1h0m1 0.2h0m0.6 3.6h0m0.2 -3h0m0 -1h0m0 -0.7h0m0.1 3.8h0m0 -3.9h0m1.1 4.9h0m0.8 -5.3h0m1.8 -0.1h0m0 0.1h0m0.9 4.6h0m0.9 0.2h0m0.2 -3.3h0m0.4 -0.3h0m1.1 2.5h0m0.2 -3.5h0m0.2 3.3h0m0.2 0.6h0m0.4 0.5h0m1 -0.3h0m0 -3h0m1.3 -1.4h0m0.6 5.3h0m0.3 -1.3h0m0.5 -0.9h0m0.5 -3.3h0m3.4 3.9h0m3.2 -1.5h0m1.1 1.7h0m1.3 1.6h0m15.4 -4.8h0m1.4 -0.5h0m1.3 2.4h0m5.1 1h0m-205.5 5.4h0m1.5 -3h0m7.9 4.9h0m11.9 -4.8h0m6.4 3.9h0m2.6 0.6h0m1.8 -0.5h0m1.1 -3h0m2.1 0.2h0m0.5 -1.4h0m0.2 0h0m2 2.7h0m1.4 0.6h0m0.8 0.2h0m0.4 -0.2h0m1.2 2h0m1.3 -2.4h0m0 1.9h0m0.2 -1.7h0m0.5 0.9h0m0.5 -0.5h0m0 1h0m1.1 0.6h0m1.4 -3.3h0m0.1 0.1h0m0.3 -1.9h0m0.1 0.4h0m0.2 0.8h0m0.1 4.4h0m0.6 -0.1h0m0.4 -0.6h0m0.2 0.2h0m0.1 -5.1h0m2.1 3.7h0m0.9 -3.5h0m0.8 2.8h0m0.7 0.8h0m0.6 -2h0m0.5 -0.1h0m0.5 -1.4h0m0.4 0.8h0m0.4 4.6h0m0.2 -2.5h0m0.2 -0.3h0m0 -3h0m0.4 3.1h0m1.1 0.9h0m91.3 -3.3h0m2.2 3.1h0m0.4 -3.1h0m0.4 3.7h0m0.1 -0.5h0m1.7 -0.7h0m0.6 0h0m0 -1.9h0m0.5 2.2h0m0.2 -1.5h0m0.3 3.2h0m0.1 0.7h0m0.2 -1.6h0m0.3 -3.1h0m0 0.4h0m0.6 -0.3h0m0.6 1.7h0m0.1 2.7h0m0.7 -1.5h0m0.2 -3.1h0m0.6 2h0m0.3 2.6h0m0.2 -2.5h0m0.4 1.1h0m0.6 -3.1h0m0 2.4h0m0.1 0h0m0.2 2.1h0m0 -1.2h0m0 -4.5h0m0.1 5h0m0.2 -3.7h0m0.2 -1.1h0m0.6 2.1h0m0.3 -0.6h0m0.1 -1.4h0m0.5 4.4h0m0.7 -3h0m0.3 1.5h0m0.4 -0.1h0m1 -3h0m0.1 1.5h0m0.1 3.8h0m0.1 -1.2h0m0.2 -2.3h0m0.2 -1.2h0m0.2 -0.5h0m0.4 1.3h0m1 0.9h0m0.5 3.2h0m1.4 -5h0m0.1 1.7h0m0 1.1h0m0.2 2.1h0m0.4 -3.5h0m2.6 3.1h0m0.8 -2.5h0m1.3 -2.5h0m0.2 3.5h0m5.4 -3.1h0m0.1 4.8h0m0.4 -3.8h0m0.7 -1.2h0m2.9 0.5h0m2.2 3.1h0m1.1 -2.9h0m2.5 2.5h0m2.3 -1.8h0m14.1 2.8h0m-189.2 1.5h0m5.6 3.1h0m0.3 0.5h0m3.3 -2.4h0m1.9 3.4h0m0.1 -2.9h0m2.8 -0.6h0m2.2 3.8h0m0.7 -2.5h0m0.1 -1.1h0m2.1 2.3h0m2.6 -1.9h0m0.8 1.7h0m0.3 -2.1h0m0.2 -0.8h0m0.6 -0.4h0m0.2 5.5h0m0.6 -2.1h0m0.5 0.7h0m0.9 -3.7h0m0.5 0.7h0m1.1 3h0m0.1 1.2h0m1.3 -1h0m0.2 -0.8h0m0.1 -0.6h0m1.8 -1.1h0m1.3 -1.3h0m0.1 2.4h0m0.5 -1.3h0m0.2 0h0m0.6 -1.2h0m1.3 2.5h0m0.9 1.6h0m1.3 0.6h0m0.2 -3.1h0m0.6 3.4h0m0.2 -1.4h0m0.2 -4.1h0m0.2 2.7h0m0.6 -1.9h0m0.9 3.3h0m0.3 -3.5h0m0.2 0.4h0m0.2 3.2h0m0.3 0.5h0m1.3 -2h0m2 2.3h0m0.3 0.1h0m0.1 -0.4h0m90.9 -3.3h0m0 -0.4h0m0.4 0.8h0m0.4 1.3h0m0.9 -2.7h0m0.4 2.1h0m0.1 2h0m0 -3.6h0m0 1.9h0m0.7 -1.3h0m0.5 3.7h0m0.2 -5.1h0m0 0.9h0m0 4.9h0m0.1 -2h0m1.1 1.4h0m0.3 0.2h0m0.2 -4.5h0m0.8 3.2h0m0.1 0.6h0m0.1 -1.9h0m0 -1.2h0m0 3.8h0m0.7 -5.1h0m0.6 4h0m0.3 1.5h0m0.1 -0.7h0m0.4 -1.7h0m0.7 -0.5h0m0.1 1h0m0.2 -3h0m0.4 2.4h0m0.4 -0.1h0m0 1.2h0m1.1 0h0m0.4 -3.6h0m1.1 0.3h0m0.6 2.8h0m0.5 0.9h0m0.2 0.4h0m0.7 -0.6h0m1.4 -3.1h0m1.7 1.3h0m0.1 2.3h0m0 -2.9h0m1 2h0m2.4 -2h0m0.4 0.5h0m0.1 -1.7h0m0 4.8h0m4.5 -5.4h0m0 2.4h0m0.1 0.7h0m2.3 -2.4h0m1 -0.3h0m0.1 4.9h0m1.1 -4.8h0m1.6 0.5h0m1.2 1.6h0m0 -1.9h0m0.6 3.1h0m3.5 -0.4h0m0.2 -1.2h0m3.3 0.1h0m1.2 2.5h0m0.5 -0.1h0m0.1 -1.6h0m2 -2.5h0m1.1 2.7h0m3.4 1.4h0m3.6 -5h0m-211.8 10.5h0m9.5 -2.7h0m11.8 1.1h0m4.9 -0.5h0m0.9 -1.7h0m1.9 2.9h0m4.6 -3.9h0m7.5 4.6h0m1.6 -4.3h0m1.7 0.9h0m1.1 4.2h0m0.6 0.2h0m0.4 -4.3h0m1.3 2.1h0m0.6 2.4h0m5.9 -1.9h0m0.2 -0.2h0m1.2 1.5h0m1.2 -1.2h0m0.9 -2h0m0.2 0.9h0m0 -0.5h0m0.1 -2h0m0.1 0.3h0m0.4 -0.1h0m1.3 1.8h0m0 1.1h0m0.2 -2.2h0m0.7 4.3h0m0.4 -1.4h0m0.7 -3.1h0m0.8 3.2h0m0.2 0.7h0m0.3 -3.1h0m0.3 -1.5h0m0.3 4.2h0m0.2 0h0m0 -2.3h0m0.3 2.3h0m0.5 -4h0m0.3 5h0m0.4 -4.3h0m0.6 1.6h0m0.3 -2.5h0m0 1h0m0.3 3.3h0m2.7 0.3h0m0.5 -0.3h0m0.5 0.6h0m0.4 -2.8h0m0.5 2.9h0m0.5 -1.7h0m0.6 1.6h0m0.2 -0.3h0m88.9 0.3h0m0.3 -3.9h0m0.2 0.6h0m0.1 3.8h0m0.5 -5.8h0m0.2 4.1h0m0.1 -1.4h0m0.2 -1.3h0m0.2 3.7h0m0.1 0.7h0m1.1 -3.1h0m0.5 2.2h0m0 -3.6h0m1.4 2.6h0m0.1 -2.5h0m0.2 -0.1h0m0.1 0.9h0m0.8 2h0m2 -1.1h0m0 2.4h0m0.3 -0.8h0m0.3 -0.3h0m0.1 -2.4h0m0.1 -1.3h0m0.5 1.2h0m0.6 -1.4h0m0.7 0.9h0m1 2.1h0m0.6 1.6h0m0.4 -5h0m0.1 -0.1h0m0.2 2.9h0m0.2 2.9h0m0.5 -5.2h0m0.5 4h0m0.4 1.2h0m0.6 -1h0m1 -0.6h0m2.2 -1.4h0m0.2 0.1h0m1.1 -1.6h0m0.3 4.5h0m1.4 -0.9h0m0.1 -0.7h0m1.3 -1.8h0m0.9 2.9h0m1.3 -1.4h0m0.6 -0.1h0m0.3 1.9h0m1.3 -2.2h0m1.6 1.1h0m0.1 1h0m5.3 -3.5h0m0.5 -0.9h0m1 2.3h0m7.7 -3.2h0m1.5 -0.2h0m4.2 0.7h0m8.3 1.3h0m-206.7 4.7h0m11.3 -0.4h0m2.1 0.3h0m9.7 2h0m0.2 -0.8h0m0.7 -0.1h0m0.7 0.3h0m2.8 -0.3h0m1.6 1.7h0m2.3 -2h0m2.7 -0.5h0m1.6 4.8h0m2.8 -4.3h0m0.3 0.9h0m1 -0.1h0m0.3 2.8h0m0.7 -5h0m0.4 4.1h0m1 -1.8h0m1.4 0.8h0m1.1 -1.4h0m0.9 2.1h0m0.2 0.4h0m0.4 -2.3h0m1.2 2.4h0m1.8 -3.9h0m0.7 5.4h0m0.4 -2.8h0m0.8 -2.1h0m0 3.7h0m0.5 -2h0m0.2 0.5h0m1.1 -2.5h0m0.1 -0.5h0m0.9 3.7h0m0.7 -3.4h0m0.3 2.2h0m1.8 -0.1h0m0.5 -0.5h0m0.2 2.9h0m0.3 -4.3h0m0.1 4.6h0m0.9 -5.1h0m0.1 2.8h0m0.4 -2.7h0m0.2 0.9h0m0.1 0.4h0m0.4 -0.8h0m0.2 0.2h0m0.3 1.5h0m0.4 3.4h0m0 -3.1h0m0.1 2.7h0m0 -3.7h0m0 0.9h0m1.7 0.9h0m0.5 1.1h0m0.4 -0.8h0m1.9 0.4h0m2.3 0.7h0m1.5 0.7h0m79.2 -0.6h0m1.1 -4.1h0m0.4 4.6h0m0.8 -4.6h0m0.6 3.2h0m0.2 -3.7h0m0.6 0.6h0m0 2h0m0.1 -2.2h0m0.2 0.9h0m0.4 1.3h0m0.4 -1h0m0.1 0.1h0m0.5 -0.7h0m0.5 1.9h0m0.2 -1.7h0m0.3 -0.2h0m0.1 -0.7h0m0.8 1.2h0m0 2.3h0m0.1 -1.4h0m0.3 -1.2h0m0.4 1h0m0.2 1.4h0m0.4 -1.8h0m0.1 3.5h0m0.3 -0.2h0m0.1 -4.7h0m1.5 1.6h0m0.3 -0.1h0m0.3 2.9h0m0.1 -2.1h0m0.2 2.1h0m0.7 -1.1h0m0.2 -1.8h0m0.8 -0.3h0m1 2.6h0m1.1 -2.3h0m0 2.1h0m0.8 -3.9h0m0.6 -0.2h0m0.7 -0.4h0m1.5 2.1h0m3.3 3.5h0m1.5 -2.7h0m0.9 -2.2h0m0.1 4.8h0m0.3 -3.2h0m1.4 -1h0m1.6 1.2h0m0.5 -1.5h0m0.1 4.4h0m1.7 -5.4h0m6.1 3.9h0m0.5 -3.2h0m6.3 -0.1h0m0.9 3.9h0m1.3 -0.9h0m1 2h0m33.2 -4.2h0m-212.7 5.3h0m1.4 2h0m3.8 0.9h0m2.9 -0.2h0m2.2 0.3h0m1.5 -0.7h0m1.2 1.1h0m4.6 -3.3h0m2.8 0.3h0m1.2 3h0m0.7 -3.9h0m0.1 4.7h0m0.9 0.2h0m0.7 0.9h0m1.7 -4.4h0m1.4 3.5h0m2 -0.2h0m1 -2.5h0m0.3 -2.3h0m1.2 2.3h0m0.8 -1.2h0m0.9 2.5h0m4.3 -0.7h0m1.4 -0.2h0m1.1 3.2h0m0.8 -4.9h0m0.2 -0.2h0m0.1 -0.3h0m2.1 4.1h0m1.1 0.5h0m0.1 -2.5h0m0.2 -1.4h0m0.3 1.1h0m0.2 2.9h0m0.1 -3.1h0m0.3 2.7h0m0 -4.3h0m0.4 1.4h0m1.2 -1.2h0m0.6 -0.7h0m0.6 0.7h0m0 1.8h0m0.6 1.4h0m1.3 0.7h0m0.3 1.3h0m1.9 -3.4h0m0.4 -1.7h0m0.1 4.2h0m0.7 0.1h0m0.8 -2h0m0.2 -0.5h0m0.4 2.1h0m0.6 -0.6h0m0.7 -1.2h0m1.1 2.6h0m0.6 -2.1h0m0 2.1h0m0.5 -2.5h0m0.8 -0.1h0m0.1 0.6h0m0.4 2.1h0m0.6 -1.3h0m0.6 0.4h0m0.1 -0.3h0m4.7 1.3h0m62.9 -0.1h0m0.6 -0.9h0m0.8 -0.1h0m0.2 0.5h0m1.1 -2.2h0m0.2 2.1h0m0.2 0.6h0m0.3 -2.9h0m0.1 0.7h0m0.2 -0.8h0m0.1 -2.6h0m0 2.6h0m0.1 0.2h0m0.1 -0.5h0m0.3 -0.3h0m0.1 1.8h0m0.1 -2.9h0m0 0h0m0.2 2.2h0m0 -0.8h0m1.1 -1.2h0m0.1 4.1h0m0.1 -1.9h0m0 1.7h0m0.1 -1.2h0m0.1 -2.4h0m0.9 2.8h0m0.7 1.1h0m0.5 -4h0m0 3h0m0.3 1.1h0m0.3 -4.2h0m0.1 0.2h0m0 3.5h0m1 -2.7h0m0.5 2.5h0m0.5 0.1h0m0.2 -4.7h0m0.7 1h0m0.1 3.6h0m0.2 0.3h0m0.1 -0.3h0m0.4 -3.3h0m0.5 3.7h0m0.2 -4.3h0m0 4.4h0m1.9 -3.4h0m0.4 0.4h0m0.2 1.2h0m1.9 -2.6h0m0.9 4.9h0m0.8 -4.3h0m1 2.4h0m1 -2.2h0m0.2 -0.7h0m0.4 1.4h0m0.3 -1.9h0m0.5 2.1h0m1.6 -2.1h0m0 1.6h0m0.9 -1.5h0m2.7 2.8h0m0.3 2.2h0m2.8 -0.7h0m4 -2.2h0m4.3 -0.9h0m1.8 0.3h0m9.4 -0.3h0m0.7 2.3h0m-160.2 2.2h0m0.8 0.4h0m3.2 1.5h0m0.4 0h0m3.9 2.5h0m2.2 -3.9h0m1.5 2.8h0m4.7 0.2h0m1.4 -1.9h0m1.2 -0.9h0m1.7 3h0m1.7 -3.2h0m1 4.2h0m0.5 -2.9h0m1.8 -0.1h0m0.3 -0.9h0m0.3 4.1h0m1.4 -3.6h0m0.8 1.5h0m0 2.2h0m0.9 -3.9h0m0.6 4.3h0m0.6 -1.2h0m2.3 -1.2h0m0.5 -1.9h0m0.2 3.7h0m1 -4.7h0m0.1 1.9h0m0.5 1h0m0.2 1.5h0m0.7 -2.1h0m0.6 -1.5h0m0.2 -0.5h0m1.7 0.1h0m0.5 -0.3h0m0.9 2.8h0m0.1 1.7h0m0.1 -0.9h0m0.3 -0.1h0m0.5 -2.2h0m0.2 0.3h0m0.2 -1.5h0m0.2 1.5h0m0.3 -2h0m0.5 4.7h0m0.1 -1.8h0m0.3 0.3h0m0 -0.2h0m0.3 -2.7h0m0 0.9h0m0.7 3.5h0m0.3 0.7h0m0.3 -5h0m0.6 0.4h0m0.1 0h0m0.4 1.6h0m0.1 -1.2h0m1 0.8h0m0.2 1.1h0m0.3 2.5h0m0.5 -4.3h0m0.1 -0.4h0m2.1 2.1h0m1.4 0h0m0.2 2h0m0.8 -2.3h0m0.1 1.2h0m0.7 -0.8h0m1.7 1h0m2.6 0.6h0m0.2 -0.3h0m3.2 0.4h0m3.2 0.9h0m33.1 0.2h0m2.9 -1.5h0m2.7 -0.7h0m0.7 -0.5h0m0 1.5h0m0.3 -1.2h0m0.3 1.9h0m1.1 -3.4h0m0.1 0.3h0m1.8 2.2h0m0.3 -3h0m0.5 3.4h0m0.3 -0.1h0m0.2 -3h0m1.4 0.2h0m0 0.5h0m0.9 1.1h0m0.5 -0.5h0m0.2 0.5h0m0.2 -1h0m0.4 -1h0m0.3 -1.2h0m0 1.3h0m0.3 0.8h0m0.1 0.7h0m0.8 1.8h0m0.3 -2.6h0m0.1 -2.4h0m0.7 0h0m0.3 0.5h0m0.1 4.4h0m0.4 -4.3h0m0.2 -0.6h0m0.1 4.1h0m0.3 -0.1h0m0.4 -3.4h0m0.1 2h0m0.1 -0.9h0m0.5 2.3h0m0.3 1.5h0m1.2 -2.5h0m0 -1.8h0m0.2 -0.9h0m0.1 2.9h0m0 1.4h0m0.2 -0.6h0m0.2 -1h0m0.2 2.5h0m0.3 -0.7h0m0.7 -1.9h0m0.3 -2h0m0.1 2.6h0m0.4 -0.8h0m0.1 1.1h0m1.5 -3.2h0m0.2 3.7h0m0.5 -1h0m0.6 -3h0m0.2 3.4h0m0.1 -1.6h0m1.7 1.8h0m0.1 -3.9h0m1.1 0.8h0m0.4 4.9h0m0.8 -0.6h0m0.1 -4.9h0m0.2 2.1h0m1.8 2.2h0m0.5 -2.1h0m0.1 -0.4h0m0.1 0.2h0m0.7 0.6h0m0.9 -1.2h0m0.6 -0.6h0m0.1 4.6h0m0.9 0.1h0m0 -5.3h0m1.7 3.4h0m0.2 -0.2h0m0.7 -3.1h0m1.5 -0.3h0m0.5 0.4h0m0.6 0.8h0m0 1.2h0m0.8 2.5h0m4.2 0.3h0m0.2 -0.4h0m5.6 -4.1h0m0.1 3.7h0m2.8 0.9h0m0.6 -4.1h0m0.8 0.2h0m0.9 -0.5h0m0.6 4.3h0m5.1 -2.8h0m-170.5 4.3h0m11.5 0.7h0m7.1 -0.1h0m2.3 -1.1h0m1.2 2h0m3.9 -0.8h0m0.4 4h0m1.6 -3.9h0m3.2 4h0m1.5 -4.8h0m2.7 3.3h0m0.5 -0.3h0m1.7 0.5h0m1.3 -0.4h0m4.5 -3.7h0m0.1 2h0m0.1 2h0m0.3 -1.7h0m0.7 -0.7h0m0.1 3.7h0m1.6 -4.7h0m1 0.2h0m0.1 4.6h0m0.2 -1.5h0m0.2 0.1h0m1.2 -1.9h0m1 1h0m0 -1h0m0.2 3.2h0m0.3 -4.6h0m0.4 4.3h0m0.7 -1.2h0m0.4 -2.5h0m0.9 4.1h0m0.4 -3.5h0m1 3.6h0m0.5 -5.3h0m0.4 0.9h0m0.7 0.6h0m0.6 3.8h0m2 -4.7h0m0.8 -0.7h0m0.2 1.1h0m0.1 2.7h0m1.4 -1.6h0m0.1 0.4h0m3.4 1.3h0m0.3 -2.5h0m0.4 1.1h0m0.5 -2.3h0m1 0.4h0m0.2 -0.3h0m0.5 5.1h0m0 -3.2h0m0.7 1.1h0m0.2 0.5h0m0.1 -1h0m0.4 -1h0m0.3 3.4h0m0.5 -1.2h0m1.2 -1.4h0m0.2 -3.1h0m0 0.2h0m0 0.9h0m0.3 2.8h0m0 -2.6h0m0 1.1h0m0.1 -2h0m0.4 0.1h0m0 3.6h0m0.2 -2.8h0m0.1 3.7h0m1.1 -2h0m0.4 0.9h0m1.5 -3.4h0m0.1 5.5h0m0.2 -0.2h0m0.3 -3.5h0m0.2 -0.1h0m0.8 3h0m0 -0.3h0m0.7 -3.9h0m0.2 4.6h0m0.4 -2.1h0m0.1 0.2h0m0.6 -2h0m0.4 3.2h0m0.2 -3.6h0m0.1 1.1h0m0.3 -1.6h0m1 4.7h0m0.1 -3.1h0m0 1.9h0m0.1 -1.1h0m0.9 -0.4h0m0.1 2.3h0m0.5 -1.3h0m0 0.2h0m0.9 1h0m1.8 -2.8h0m0 0.4h0m0.9 -1.1h0m0.5 1h0m0.3 3.3h0m0 -4.3h0m0 0.3h0m0.1 2.1h0m0.1 1h0m0 0.5h0m0.5 -1.3h0m0.1 -0.7h0m0.5 0.3h0m0.1 -1.7h0m0.7 3.5h0m0.8 -2.1h0m0.3 0.1h0m0.4 1.9h0m0 -0.6h0m0.1 -2h0m0.2 1h0m0 -2h0m0.4 3.3h0m0.1 -0.5h0m1.1 -1.4h0m0.6 -0.7h0m0.1 2.7h0m0.2 0.8h0m0.8 -1.4h0m0.1 -2.7h0m0.3 1.8h0m0.1 0.5h0m0.2 -0.7h0m0.4 0.4h0m0.7 -1.7h0m0.6 2h0m0.1 1.3h0m0.6 -3.7h0m0.4 3.5h0m0.3 -3.4h0m0.6 0.7h0m0.5 -1.4h0m0.6 2.9h0m0.2 -0.5h0m0.9 -2.4h0m0.4 0.4h0m0 0.9h0m0.2 -0.6h0m0.3 2.2h0m0.4 -2.3h0m0.2 1.9h0m0.7 1.4h0m0.9 -4.4h0m0 -0.3h0m0.3 0.3h0m0.1 1.4h0m0.3 -1.9h0m1 0.3h0m0.1 4.7h0m0 -0.5h0m0.1 -4.4h0m0.2 3.5h0m0.1 -1.7h0m0.3 1h0m0.5 -0.9h0m0.2 -0.8h0m1.3 1.7h0m0.1 -0.7h0m0.6 -1.5h0m0.1 4h0m0.5 0.1h0m0.1 -0.7h0m0.1 1.2h0m0.4 -0.3h0m0.9 0.7h0m0.2 -3.1h0m0.1 0.4h0m0.4 1.5h0m0.1 -0.3h0m0.4 -3.1h0m0.2 1.6h0m0.9 -2.8h0m0.5 0.5h0m0.1 -0.1h0m0.7 2h0m0.9 -1.2h0m0.3 0.1h0m0.3 0.1h0m0.5 1.9h0m0.1 1.8h0m0.7 -3.3h0m0.5 2.8h0m0 0.1h0m0.7 -3.9h0m0.4 2.7h0m0 -0.3h0m0.3 0.9h0m0.9 -1.7h0m0 2.1h0m0.7 -2h0m1.8 -1h0m0.7 0.1h0m0.1 4h0m0.2 0.1h0m0 -1h0m0.2 1h0m1 -0.7h0m0.6 -1.7h0m0.4 2.6h0m1.7 -3.3h0m0.2 0.5h0m0.2 -2.5h0m0.5 3.7h0m1.3 -3.4h0m1.8 1.2h0m0.4 -0.6h0m0.3 -0.9h0m2.1 0.9h0m0.1 2.1h0m0.4 -3.1h0m0.1 1.6h0m0.9 3.5h0m0.2 -2.7h0m0.4 2.8h0m0.5 -5h0m0.8 0.2h0m1.6 1.4h0m0.8 -0.9h0m2.2 -1.4h0m1.2 5.7h0m4.4 -3.6h0m1.5 2.4h0m0.6 -2.7h0m1.9 0.8h0m0.9 1h0m2.1 -1.1h0m0.4 2.1h0m1.3 -0.4h0m10.4 1h0m8 -5h0m-179.9 9.1h0m15.4 -0.3h0m23.2 0.1h0m4.2 -2.5h0m1 -0.6h0m0.2 0h0m1.1 2.2h0m1.6 -0.8h0m3.8 3.6h0m1.5 -3.7h0m1.3 1.9h0m0.3 0.8h0m0.2 -2.6h0m1.4 1.7h0m3.4 -0.3h0m0.9 -1.2h0m1 -1.2h0m0.1 5.3h0m0.1 -1.1h0m0 -3.8h0m0.1 4.1h0m0.3 -2.3h0m0.3 -0.8h0m0.2 -0.9h0m2.4 3.3h0m1.1 -2.8h0m1.3 -1.4h0m0.1 1.9h0m0.7 2.6h0m0.7 -1.6h0m0.9 -1.8h0m0.6 3.6h0m1.1 -4.7h0m0.9 0.1h0m0.6 1.2h0m0.7 2.1h0m0.2 -0.1h0m0.2 -2.7h0m0.1 -0.6h0m0.1 5.6h0m1 -4.6h0m2.1 1.1h0m0.6 0.3h0m1.9 1.2h0m0.3 -3.3h0m0.5 0.4h0m0.9 0.9h0m0.4 3.4h0m0.4 -2h0m0.9 0.3h0m1.7 -2.4h0m0.6 3.2h0m0.5 -0.9h0m0.1 0.7h0m0.4 -2.6h0m0.3 3.4h0m0.7 -2.1h0m0.4 2.7h0m0.3 -0.3h0m0.5 -5h0m0 0.3h0m0.6 1.2h0m0.7 -0.8h0m0.6 2.4h0m0 1.6h0m0.2 -1.6h0m2 -3.1h0m0.4 5.7h0m0.7 -2.1h0m0.5 -0.9h0m0.2 -1.2h0m0 -1.5h0m2.3 2.5h0m0.2 -1.3h0m2.9 -1h0m0.3 -0.3h0m0.8 4.6h0m0.5 -4.1h0m0.4 1.8h0m0.2 -1.9h0m0.3 1.9h0m0.1 0.1h0m0.7 -1.1h0m0.5 -0.1h0m0.2 0.5h0m0.3 3.2h0m0.9 -4.1h0m0.1 3.8h0m0 -1.7h0m0 2.6h0m1.1 0.4h0m0.3 -0.4h0m0.5 -2.6h0m0.3 1.9h0m0.4 0.8h0m1.2 -5.6h0m1 4.4h0m0.4 0.2h0m0 -2.2h0m0.2 -2.1h0m0.4 2.9h0m2.5 0.5h0m0.1 -0.8h0m0.4 -2.5h0m0.2 2.7h0m0 1.7h0m0.2 -2.5h0m0.6 -2h0m0.1 2.2h0m0.1 -1.7h0m0.6 3.3h0m0.3 -3.4h0m0.3 1.9h0m0.2 -0.5h0m0.2 2.6h0m0.9 -3.7h0m0.2 0.2h0m0.6 -0.3h0m0.1 0.8h0m1.1 -0.5h0m1 0.9h0m0.4 1.8h0m0.1 1.5h0m0.2 -5.1h0m0.5 2.7h0m2.6 -1.4h0m0.2 -1h0m0.3 2h0m0 3.3h0m0.2 -4.5h0m0.2 4.4h0m1.3 -1h0m1.3 -3.5h0m0.4 -1.2h0m2 1.6h0m3.4 2.3h0m0.3 -1.6h0m0.2 0.2h0m4.4 -0.1h0m0.1 -1.8h0m1 4.3h0m0.2 -1.9h0m0.9 1.6h0m1.6 -0.9h0m1.2 -3h0m0.2 -0.1h0m1.1 0.6h0m0 0.6h0m1.6 0.5h0m0.8 -1.7h0m2 4.7h0m0.3 -5.3h0m1.8 2.1h0m0.1 -0.8h0m0.2 3.3h0m1.2 -3.6h0m3 0.5h0m1.2 4h0m0.2 -0.9h0m7.3 -3.3h0m7.3 0.3h0m0.1 3.4h0m-127.9 4.6h0m2.4 -0.5h0m0.2 -1.4h0m6.8 1.6h0m2.5 -2.5h0m1.2 1.6h0m0.6 -2.3h0m6.9 1.2h0m2.5 -0.3h0m2.1 3.4h0m1.1 -2.8h0m1.3 3.1h0m0.4 -0.3h0m0.1 -3h0m0.6 -0.2h0m0.9 -1.1h0m3.2 0.8h0m0.6 2.9h0m0.6 1.5h0m0.3 -2.9h0m0.7 1.6h0m0.2 -1.5h0m2.7 -1.1h0m0.8 1.3h0m0.3 -1.5h0m0.7 3.4h0m1.7 -3.8h0m0.6 4.1h0m0.4 -4.9h0m0.1 1h0m0.1 2.7h0m0.1 -3.4h0m0.3 4.4h0m1.1 -2.9h0m0.3 -1.5h0m0.4 2h0m0.9 0.3h0m0.7 1.5h0m0.6 -1.1h0m0.6 0.3h0m0.2 -3.2h0m0.3 0.3h0m1.5 3.8h0m2.3 1.5h0m0.5 -5h0m0.7 0h0m0.5 2.1h0m0.2 -1.2h0m2.2 0.7h0m0.1 1.4h0m0.5 -2.2h0m0.1 -0.1h0m1.2 3.5h0m0 -4.9h0m0.9 4.3h0m1.4 -4.1h0m0.2 2.5h0m0.3 2.3h0m0 -1.9h0m1.4 1.8h0m0 -3.4h0m1.6 1.4h0m2.5 2.8h0m0.6 -2.5h0m0.7 -1.9h0m0 2h0m1.2 -2.5h0m1 0.7h0m0.7 -0.9h0m0.4 0.4h0m1.9 3.1h0m0.4 -1.5h0m2.4 0.6h0m0.2 0.7h0m0.7 -0.5h0m0.9 -0.7h0m1.9 -0.9h0m0.2 0.2h0m1 -0.6h0m0.6 1.8h0m1.6 0.9h0m1.8 -0.3h0m0.6 -3.4h0m0.9 -0.3h0m0.2 0.2h0m0.5 5.5h0m2.9 -3h0m1.9 -2h0m0.8 3h0m0.5 0.5h0m1.2 -4h0m1.6 3.8h0m0.6 0.7h0m1.2 -3.6h0m2.2 1.2h0m0.3 0.7h0m0.9 -0.9h0m0.1 3h0m0.7 -1h0m1.9 1.6h0m0.4 -3.6h0m0.3 1.1h0m1.4 0.7h0m1.1 1.6h0m1.8 -0.8h0m4 -3h0m12.7 0.9h0m5.7 0.7h0m4.5 -1.1h0m4.5 0.7h0m-178.7 7.4h0m32.3 -3.3h0m12.1 -0.3h0m1.3 5.1h0m3.6 -0.8h0m0.5 -3.2h0m2.7 0.1h0m1.7 -1.6h0m3.7 0.8h0m6.3 2h0m6.7 -2.1h0m3.4 -1h0m1.5 0.7h0m0.4 1h0m1.3 2.1h0m0.3 -3.9h0m0.9 4.6h0m2.5 -0.9h0m0.3 -2.5h0m4.1 1.3h0m0.5 1.6h0m0.1 -3.7h0m0.1 0.6h0m1.3 -0.4h0m0.4 1.5h0m0.4 -0.6h0m2.8 -1.4h0m0.7 5.6h0m1.9 -3.9h0m1.5 2.4h0m0.6 -3.5h0m0.7 -0.7h0m2 3.8h0m1 0.2h0m2.5 -3.7h0m2.4 0.9h0m2.5 3.9h0m1.7 -2.6h0m1 2.6h0m0.4 -2.5h0m0.4 -1.1h0m0.3 1.8h0m0 -2.2h0m1.3 4.3h0m1.8 -4.8h0m2.3 -0.1h0m6.1 -0.2h0m1.5 2.5h0m0.9 1.9h0m1.9 -1h0m4.4 -2.7h0m0.8 1.8h0m0.6 -1h0m1.5 1.3h0m1.9 -2.7h0m4.6 1.1h0m1.1 2.4h0m0.4 0h0m0.1 -2h0m3.1 -1.8h0m5.6 2.5h0m1.2 -2.6h0m0.3 2.4h0m5.1 -1.3h0m-105.9 6.3h0m24.5 0.9h0m5.3 -0.5h0m0.1 1h0m2.7 -2.7h0m1.6 2.4h0m5.6 -0.4h0m1.5 -0.7h0m0 -0.1h0m7.9 -1.4h0m2.7 1.8h0m2.1 3.2h0m1.7 -1h0m0.3 -0.3h0m3.3 -2.2h0m5.7 1.4h0m0.8 -1.3h0m7.2 0.8h0m1.1 -2.4h0m1.2 4.1h0m5.9 -2.8h0m1.7 -1.3h0m4.9 0.2h0m1.4 0.7h0m3.9 0.9h0m0.8 2.3h0m0.1 -0.6h0m0.6 -1h0m2.4 2.1h0m1.5 -0.9h0m13.8 -2.3h0m-122.7 9h0m17.5 1.2h0m16.3 -1.5h0m2.5 0.2h0m20.4 -2.3h0m6 -1.1h0m0.9 4.4h0m0.1 -2.7h0m0.5 -2.2h0m8.6 3.8h0m0.1 -3.7h0m2.3 1.2h0m0.7 1.4h0m2.6 -1.3h0m22.4 -1.6h0m-93.4 11.2h0m57.2 -3.3h0m-0.4 10h0m37.6 1.9h0M1255 1625h0" stroke="#000" stroke-width="4.8" stroke-linecap="round" fill="none"/>
<circle cx="1147.8" cy="1511.1" r="6" fill="#2ee57a"/>
<g transform="translate(0,1238)">
<line x1="810.4" y1="65.5" x2="810.4" y2="399.7" stroke="#3a3a3a" stroke-width="2"/>
<line x1="802.5" y1="77.5" x2="810.4" y2="77.5" stroke="#3a3a3a" stroke-width="1.8"/>
<text transform="translate(793.4,77.5) rotate(-90)" font-size="19" text-anchor="middle">6000</text>
<line x1="802.5" y1="127.4" x2="810.4" y2="127.4" stroke="#3a3a3a" stroke-width="1.8"/>
<text transform="translate(793.4,127.4) rotate(-90)" font-size="19" text-anchor="middle">4000</text>
<line x1="802.5" y1="177.2" x2="810.4" y2="177.2" stroke="#3a3a3a" stroke-width="1.8"/>
<text transform="translate(793.4,177.2) rotate(-90)" font-size="19" text-anchor="middle">2000</text>
<line x1="802.5" y1="227.1" x2="810.4" y2="227.1" stroke="#3a3a3a" stroke-width="1.8"/>
<text transform="translate(793.4,227.1) rotate(-90)" font-size="19" text-anchor="middle">0</text>
<line x1="802.5" y1="277.0" x2="810.4" y2="277.0" stroke="#3a3a3a" stroke-width="1.8"/>
<text transform="translate(793.4,277.0) rotate(-90)" font-size="19" text-anchor="middle">-2000</text>
<line x1="802.5" y1="326.8" x2="810.4" y2="326.8" stroke="#3a3a3a" stroke-width="1.8"/>
<text transform="translate(793.4,326.8) rotate(-90)" font-size="19" text-anchor="middle">-4000</text>
<line x1="802.5" y1="376.7" x2="810.4" y2="376.7" stroke="#3a3a3a" stroke-width="1.8"/>
<text transform="translate(793.4,376.7) rotate(-90)" font-size="19" text-anchor="middle">-6000</text>
<text transform="translate(771.6,232.7) rotate(-90)" font-size="19" text-anchor="middle">Cost Difference in Euro</text>
<line x1="809.4" y1="398.8" x2="1492" y2="398.8" stroke="#111" stroke-width="2.3"/>
<line x1="822.4" y1="398.8" x2="822.4" y2="406.3" stroke="#3a3a3a" stroke-width="1.8"/>
<text x="822.4" y="426.0" font-size="18" text-anchor="middle">-.4</text>
<line x1="904.6" y1="398.8" x2="904.6" y2="406.3" stroke="#3a3a3a" stroke-width="1.8"/>
<text x="904.6" y="426.0" font-size="18" text-anchor="middle">-.3</text>
<line x1="986.8" y1="398.8" x2="986.8" y2="406.3" stroke="#3a3a3a" stroke-width="1.8"/>
<text x="986.8" y="426.0" font-size="18" text-anchor="middle">-.2</text>
<line x1="1069.0" y1="398.8" x2="1069.0" y2="406.3" stroke="#3a3a3a" stroke-width="1.8"/>
<text x="1069.0" y="426.0" font-size="18" text-anchor="middle">-.1</text>
<line x1="1151.2" y1="398.8" x2="1151.2" y2="406.3" stroke="#3a3a3a" stroke-width="1.8"/>
<text x="1151.2" y="426.0" font-size="18" text-anchor="middle">0</text>
<line x1="1233.4" y1="398.8" x2="1233.4" y2="406.3" stroke="#3a3a3a" stroke-width="1.8"/>
<text x="1233.4" y="426.0" font-size="18" text-anchor="middle">.1</text>
<line x1="1315.6" y1="398.8" x2="1315.6" y2="406.3" stroke="#3a3a3a" stroke-width="1.8"/>
<text x="1315.6" y="426.0" font-size="18" text-anchor="middle">.2</text>
<line x1="1397.8" y1="398.8" x2="1397.8" y2="406.3" stroke="#3a3a3a" stroke-width="1.8"/>
<text x="1397.8" y="426.0" font-size="18" text-anchor="middle">.3</text>
<line x1="1480.0" y1="398.8" x2="1480.0" y2="406.3" stroke="#3a3a3a" stroke-width="1.8"/>
<text x="1480.0" y="426.0" font-size="18" text-anchor="middle">.4</text>
<text x="1150.7" y="447.3" font-size="19" text-anchor="middle">Risk Difference</text>
<rect x="973" y="463.6" width="355.8" height="35.8" fill="#fff" stroke="#3a3a3a" stroke-width="2"/>
<line x1="981" y1="480.9" x2="1055" y2="480.9" stroke="#e8101c" stroke-width="4.4" stroke-dasharray="10 5.5"/>
<text x="1066.0" y="489.5" font-size="19">95% CI</text>
<circle cx="1166" cy="482.1" r="6" fill="#2ee57a"/>
<text x="1188.0" y="489.5" font-size="19">Mean Average</text>
<text x="813.5" y="522.5" font-size="15">boundary constant = 5.9951</text>
</g>
</svg></body></html>
